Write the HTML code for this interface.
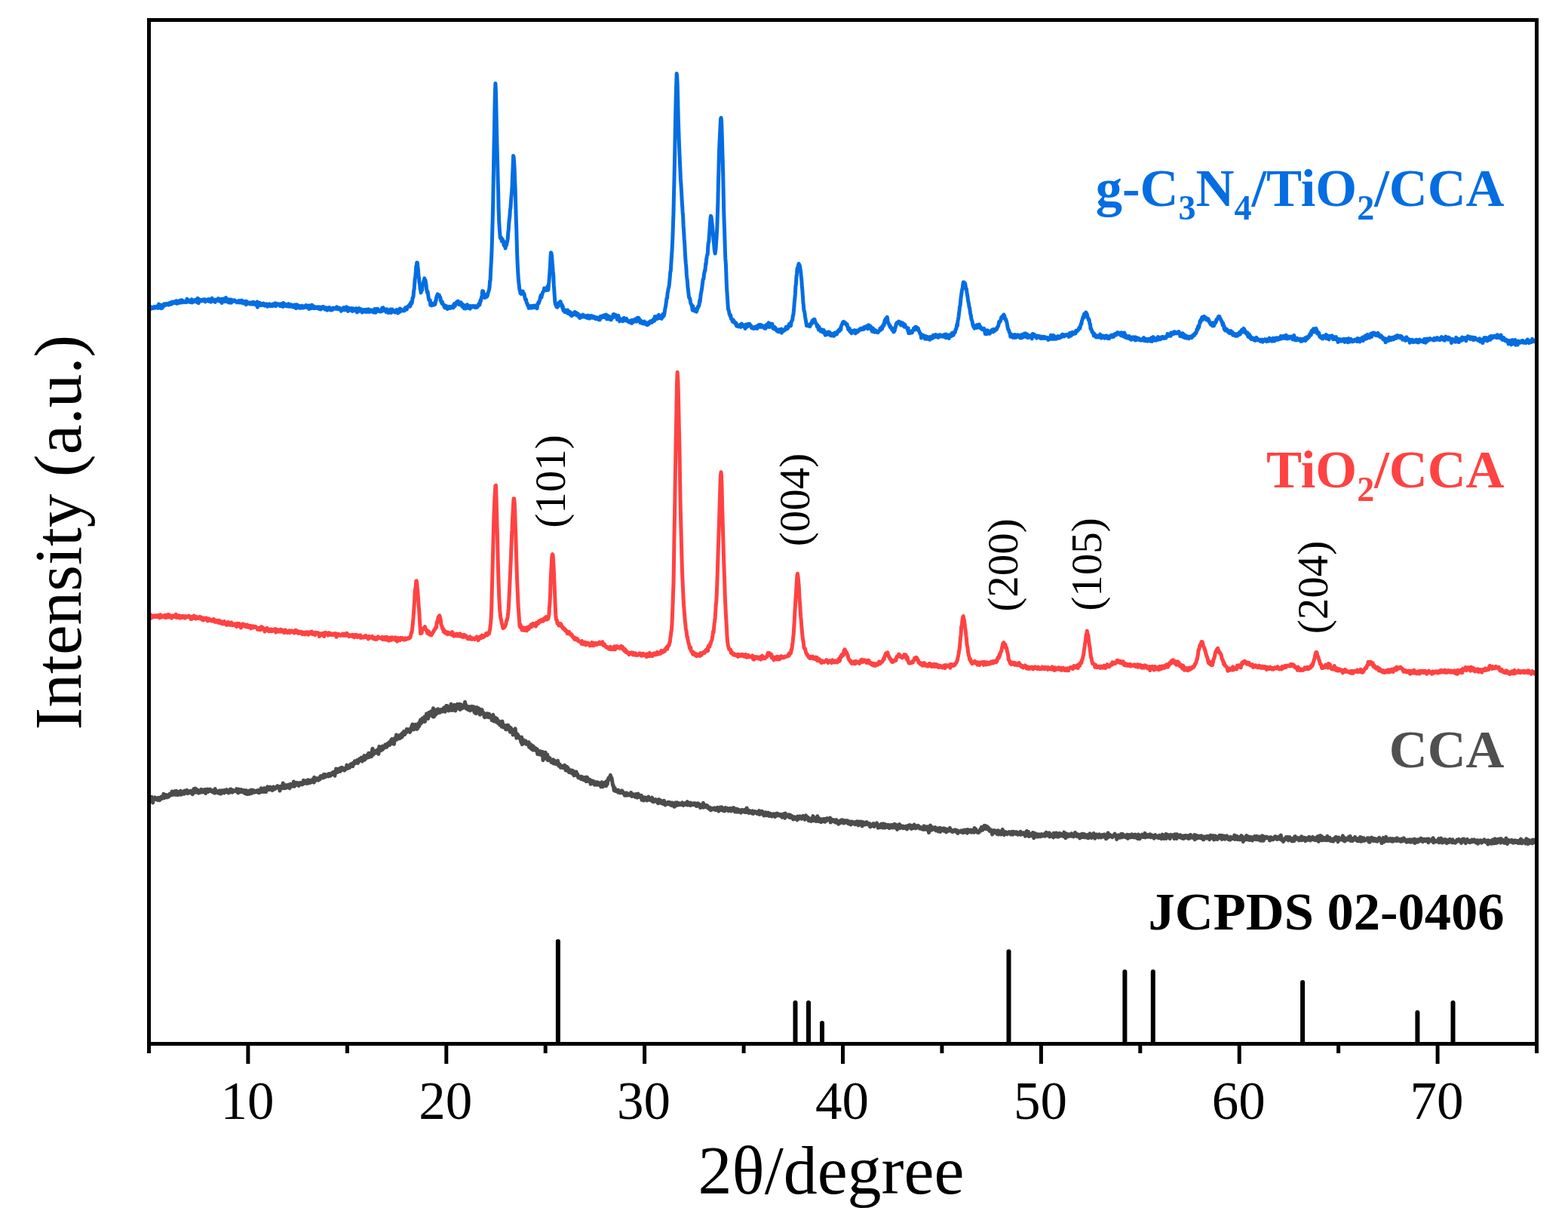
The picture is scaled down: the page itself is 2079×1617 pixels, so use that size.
<!DOCTYPE html>
<html><head><meta charset="utf-8"><title>XRD patterns</title><style>html,body{margin:0;padding:0;background:#fff;overflow:hidden;width:2079px;height:1617px;}svg{display:block;}svg text{font-family:"Liberation Serif","Times New Roman",Times,serif;}</style></head><body>
<svg width="2079" height="1617" viewBox="0 0 2079 1617">
<rect width="100%" height="100%" fill="#fff"/>
<g fill="none" stroke-width="5" stroke-linejoin="round" stroke-linecap="round">
<path stroke="#4C4C4C" d="M198.0,1063.6 198.5,1056.4 199.1,1060.5 199.6,1058.9 200.1,1058.9 200.6,1059.1 201.2,1056.3 201.7,1058.8 202.2,1057.8 202.7,1064.0 203.3,1059.2 203.8,1058.3 204.3,1058.3 204.8,1057.6 205.4,1057.0 205.9,1057.9 206.4,1059.1 206.9,1058.0 207.5,1059.7 208.0,1057.9 208.5,1058.2 209.0,1060.4 209.6,1058.8 210.1,1057.2 210.6,1057.6 211.1,1058.6 211.7,1060.6 212.2,1057.2 212.7,1057.2 213.2,1058.9 213.8,1056.0 214.3,1056.7 214.8,1058.4 215.3,1057.8 215.9,1056.9 216.4,1057.6 216.9,1052.2 217.5,1057.8 218.0,1054.7 218.5,1053.4 219.0,1056.2 219.6,1056.6 220.1,1054.7 220.6,1053.6 221.1,1055.1 221.7,1054.8 222.2,1056.8 222.7,1055.6 223.2,1054.6 223.8,1055.8 224.3,1053.6 224.8,1052.3 225.3,1054.4 225.9,1054.3 226.4,1052.9 226.9,1051.9 227.4,1053.2 228.0,1049.0 228.5,1053.6 229.0,1053.2 229.5,1049.9 230.1,1052.3 230.6,1050.6 231.1,1053.1 231.6,1048.8 232.2,1050.4 232.7,1052.8 233.2,1053.4 233.7,1048.3 234.3,1050.7 234.8,1051.9 235.3,1050.4 235.9,1053.6 236.4,1049.4 236.9,1051.6 237.4,1049.5 238.0,1053.1 238.5,1050.9 239.0,1050.3 239.5,1048.2 240.1,1053.3 240.6,1051.8 241.1,1051.7 241.6,1052.3 242.2,1051.0 242.7,1049.5 243.2,1049.2 243.7,1049.1 244.3,1052.3 244.8,1048.0 245.3,1049.3 245.8,1049.6 246.4,1050.4 246.9,1050.9 247.4,1048.1 247.9,1047.3 248.5,1049.8 249.0,1051.6 249.5,1050.9 250.0,1050.0 250.6,1049.1 251.1,1050.0 251.6,1049.1 252.1,1050.6 252.7,1048.2 253.2,1049.5 253.7,1049.0 254.2,1049.9 254.8,1049.4 255.3,1052.8 255.8,1051.2 256.4,1051.1 256.9,1045.7 257.4,1048.2 257.9,1047.7 258.5,1049.4 259.0,1045.1 259.5,1050.2 260.0,1050.0 260.6,1046.3 261.1,1046.8 261.6,1047.0 262.1,1048.2 262.7,1049.0 263.2,1051.1 263.7,1047.7 264.2,1049.1 264.8,1048.1 265.3,1050.5 265.8,1049.0 266.3,1049.9 266.9,1046.2 267.4,1047.5 267.9,1046.6 268.4,1050.1 269.0,1048.8 269.5,1047.4 270.0,1047.1 270.5,1048.6 271.1,1046.8 271.6,1046.5 272.1,1048.6 272.6,1051.6 273.2,1047.6 273.7,1047.2 274.2,1046.3 274.8,1046.1 275.3,1048.9 275.8,1049.4 276.3,1048.2 276.9,1048.7 277.4,1048.4 277.9,1048.5 278.4,1046.0 279.0,1047.7 279.5,1048.6 280.0,1047.3 280.5,1047.8 281.1,1047.3 281.6,1048.0 282.1,1049.9 282.6,1048.0 283.2,1048.4 283.7,1049.9 284.2,1049.6 284.7,1051.2 285.3,1045.5 285.8,1050.0 286.3,1048.0 286.8,1048.9 287.4,1050.0 287.9,1050.3 288.4,1050.3 288.9,1048.9 289.5,1051.1 290.0,1048.3 290.5,1048.5 291.0,1049.9 291.6,1047.8 292.1,1051.9 292.6,1050.2 293.2,1051.9 293.7,1048.6 294.2,1048.0 294.7,1048.9 295.3,1049.7 295.8,1047.7 296.3,1049.2 296.8,1048.6 297.4,1051.0 297.9,1047.6 298.4,1050.1 298.9,1047.6 299.5,1047.1 300.0,1047.5 300.5,1046.7 301.0,1048.7 301.6,1050.1 302.1,1048.8 302.6,1049.5 303.1,1051.0 303.7,1048.9 304.2,1048.8 304.7,1048.1 305.2,1046.1 305.8,1049.7 306.3,1045.9 306.8,1049.5 307.3,1048.5 307.9,1050.3 308.4,1048.5 308.9,1047.3 309.4,1049.2 310.0,1047.8 310.5,1048.4 311.0,1048.8 311.6,1048.5 312.1,1048.5 312.6,1047.5 313.1,1048.5 313.7,1045.6 314.2,1048.6 314.7,1047.1 315.2,1050.6 315.8,1050.9 316.3,1046.0 316.8,1049.2 317.3,1048.8 317.9,1047.5 318.4,1049.9 318.9,1048.4 319.4,1046.5 320.0,1048.7 320.5,1048.9 321.0,1049.3 321.5,1047.3 322.1,1050.1 322.6,1050.3 323.1,1047.5 323.6,1048.2 324.2,1049.1 324.7,1048.3 325.2,1051.8 325.7,1049.5 326.3,1047.6 326.8,1047.9 327.3,1049.0 327.8,1052.6 328.4,1048.8 328.9,1049.2 329.4,1049.8 330.0,1048.9 330.5,1052.4 331.0,1048.1 331.5,1050.0 332.1,1049.1 332.6,1049.8 333.1,1047.0 333.6,1051.4 334.2,1048.5 334.7,1048.7 335.2,1047.2 335.7,1047.5 336.3,1049.4 336.8,1050.0 337.3,1049.6 337.8,1050.2 338.4,1049.4 338.9,1048.3 339.4,1049.5 339.9,1049.1 340.5,1048.0 341.0,1049.2 341.5,1050.0 342.0,1048.4 342.6,1047.4 343.1,1049.0 343.6,1050.8 344.1,1047.5 344.7,1047.6 345.2,1047.5 345.7,1049.5 346.2,1044.7 346.8,1048.1 347.3,1049.2 347.8,1046.1 348.4,1049.6 348.9,1048.0 349.4,1046.3 349.9,1047.4 350.5,1044.6 351.0,1046.0 351.5,1049.6 352.0,1045.3 352.6,1049.5 353.1,1046.4 353.6,1048.0 354.1,1046.4 354.7,1042.8 355.2,1045.3 355.7,1046.4 356.2,1044.3 356.8,1043.9 357.3,1046.4 357.8,1044.8 358.3,1043.1 358.9,1044.5 359.4,1046.8 359.9,1044.7 360.4,1046.8 361.0,1047.6 361.5,1045.2 362.0,1043.4 362.5,1043.0 363.1,1044.9 363.6,1046.2 364.1,1045.2 364.6,1045.5 365.2,1043.9 365.7,1045.0 366.2,1043.7 366.7,1043.8 367.3,1042.2 367.8,1041.7 368.3,1043.3 368.9,1042.2 369.4,1042.4 369.9,1044.8 370.4,1043.5 371.0,1048.1 371.5,1044.9 372.0,1042.4 372.5,1044.5 373.1,1043.7 373.6,1042.0 374.1,1044.7 374.6,1041.7 375.2,1038.0 375.7,1043.9 376.2,1041.6 376.7,1044.8 377.3,1041.4 377.8,1040.5 378.3,1044.6 378.8,1040.4 379.4,1042.3 379.9,1044.2 380.4,1042.0 380.9,1041.6 381.5,1041.8 382.0,1042.8 382.5,1040.1 383.0,1042.3 383.6,1042.1 384.1,1044.8 384.6,1040.5 385.1,1039.4 385.7,1042.0 386.2,1040.1 386.7,1041.0 387.3,1040.7 387.8,1042.2 388.3,1039.2 388.8,1040.0 389.4,1036.0 389.9,1038.6 390.4,1042.3 390.9,1038.7 391.5,1038.5 392.0,1037.6 392.5,1040.4 393.0,1039.6 393.6,1037.3 394.1,1040.2 394.6,1039.4 395.1,1040.1 395.7,1037.8 396.2,1041.4 396.7,1039.2 397.2,1038.3 397.8,1037.5 398.3,1037.8 398.8,1039.5 399.3,1037.6 399.9,1039.6 400.4,1038.7 400.9,1039.8 401.4,1038.8 402.0,1037.3 402.5,1034.2 403.0,1037.6 403.5,1038.3 404.1,1037.2 404.6,1037.7 405.1,1035.9 405.7,1035.9 406.2,1034.9 406.7,1038.5 407.2,1036.4 407.8,1035.2 408.3,1033.7 408.8,1035.5 409.3,1038.0 409.9,1036.2 410.4,1034.2 410.9,1037.5 411.4,1037.4 412.0,1036.5 412.5,1036.1 413.0,1036.5 413.5,1035.4 414.1,1035.6 414.6,1032.9 415.1,1036.5 415.6,1034.3 416.2,1037.1 416.7,1030.2 417.2,1034.6 417.7,1034.9 418.3,1032.5 418.8,1033.7 419.3,1034.0 419.8,1033.6 420.4,1031.6 420.9,1032.0 421.4,1033.8 421.9,1034.1 422.5,1031.9 423.0,1031.7 423.5,1031.7 424.1,1033.0 424.6,1029.3 425.1,1028.7 425.6,1030.9 426.2,1028.7 426.7,1029.4 427.2,1030.3 427.7,1030.8 428.3,1028.0 428.8,1030.9 429.3,1026.4 429.8,1030.1 430.4,1026.4 430.9,1026.7 431.4,1029.7 431.9,1027.7 432.5,1026.9 433.0,1027.3 433.5,1028.6 434.0,1027.5 434.6,1027.4 435.1,1029.0 435.6,1025.8 436.1,1026.0 436.7,1025.7 437.2,1028.4 437.7,1027.9 438.2,1028.2 438.8,1025.7 439.3,1025.3 439.8,1026.8 440.3,1024.5 440.9,1026.4 441.4,1026.0 441.9,1023.3 442.5,1024.2 443.0,1023.9 443.5,1026.9 444.0,1028.2 444.6,1023.3 445.1,1023.3 445.6,1019.1 446.1,1023.2 446.7,1022.6 447.2,1020.5 447.7,1023.5 448.2,1019.2 448.8,1021.3 449.3,1021.6 449.8,1019.0 450.3,1022.4 450.9,1022.5 451.4,1018.0 451.9,1017.7 452.4,1021.0 453.0,1019.6 453.5,1017.3 454.0,1018.7 454.5,1018.8 455.1,1018.4 455.6,1019.9 456.1,1018.9 456.6,1021.1 457.2,1020.1 457.7,1018.6 458.2,1019.0 458.7,1019.2 459.3,1017.9 459.8,1014.1 460.3,1017.6 460.9,1015.9 461.4,1018.4 461.9,1015.4 462.4,1015.9 463.0,1015.3 463.5,1017.5 464.0,1014.5 464.5,1013.4 465.1,1014.2 465.6,1012.6 466.1,1013.4 466.6,1012.8 467.2,1013.1 467.7,1015.8 468.2,1011.3 468.7,1011.8 469.3,1011.1 469.8,1012.4 470.3,1008.8 470.8,1009.4 471.4,1010.3 471.9,1011.1 472.4,1009.7 472.9,1008.6 473.5,1007.7 474.0,1010.0 474.5,1011.4 475.0,1009.1 475.6,1008.6 476.1,1008.8 476.6,1005.9 477.1,1006.8 477.7,1006.6 478.2,1007.4 478.7,1006.5 479.2,1004.1 479.8,1008.2 480.3,1009.0 480.8,1005.0 481.4,1006.0 481.9,1005.5 482.4,1006.2 482.9,1001.6 483.5,1007.2 484.0,1003.0 484.5,1006.0 485.0,1003.5 485.6,1002.3 486.1,1002.5 486.6,1004.3 487.1,1000.6 487.7,1001.3 488.2,1000.8 488.7,998.2 489.2,1003.7 489.8,1002.0 490.3,1000.6 490.8,1002.6 491.3,998.2 491.9,999.6 492.4,1002.8 492.9,1001.1 493.4,994.6 494.0,992.2 494.5,996.4 495.0,1000.2 495.5,996.9 496.1,997.1 496.6,998.4 497.1,995.2 497.6,997.1 498.2,997.9 498.7,997.0 499.2,996.6 499.8,994.3 500.3,996.2 500.8,994.1 501.3,997.2 501.9,999.4 502.4,992.5 502.9,989.4 503.4,992.6 504.0,993.8 504.5,994.9 505.0,994.6 505.5,990.6 506.1,990.3 506.6,994.1 507.1,989.0 507.6,993.1 508.2,990.1 508.7,991.8 509.2,991.4 509.7,991.2 510.3,991.0 510.8,987.0 511.3,989.2 511.8,988.3 512.4,988.6 512.9,990.1 513.4,986.7 513.9,985.5 514.5,985.1 515.0,985.6 515.5,987.4 516.0,983.9 516.6,987.6 517.1,985.4 517.6,984.0 518.2,981.4 518.7,984.3 519.2,984.8 519.7,979.4 520.3,985.1 520.8,985.7 521.3,982.6 521.8,982.6 522.4,986.3 522.9,983.4 523.4,978.6 523.9,980.1 524.5,979.4 525.0,979.1 525.5,974.0 526.0,980.2 526.6,976.9 527.1,978.2 527.6,977.2 528.1,979.0 528.7,976.2 529.2,974.7 529.7,977.2 530.2,978.7 530.8,974.6 531.3,977.9 531.8,975.2 532.3,973.1 532.9,977.1 533.4,971.7 533.9,975.3 534.4,971.7 535.0,973.4 535.5,969.4 536.0,969.9 536.6,973.6 537.1,971.4 537.6,970.7 538.1,969.3 538.7,970.9 539.2,966.5 539.7,966.8 540.2,968.5 540.8,966.7 541.3,966.7 541.8,967.7 542.3,967.2 542.9,966.7 543.4,970.5 543.9,968.7 544.4,968.9 545.0,965.8 545.5,964.4 546.0,961.9 546.5,964.0 547.1,959.9 547.6,962.8 548.1,965.5 548.6,967.0 549.2,965.2 549.7,960.8 550.2,963.5 550.7,960.3 551.3,963.6 551.8,961.1 552.3,962.9 552.8,966.4 553.4,962.4 553.9,965.2 554.4,960.0 555.0,958.5 555.5,961.8 556.0,962.3 556.5,956.8 557.1,957.9 557.6,954.0 558.1,956.4 558.6,958.5 559.2,955.8 559.7,954.3 560.2,952.0 560.7,955.5 561.3,956.1 561.8,955.2 562.3,954.0 562.8,950.1 563.4,956.5 563.9,952.0 564.4,951.3 564.9,952.9 565.5,945.9 566.0,950.3 566.5,949.7 567.0,950.5 567.6,952.4 568.1,950.0 568.6,944.4 569.1,947.5 569.7,948.4 570.2,948.0 570.7,944.4 571.2,943.2 571.8,948.1 572.3,947.3 572.8,946.2 573.3,942.0 573.9,949.9 574.4,938.8 574.9,944.5 575.5,950.0 576.0,944.5 576.5,945.2 577.0,941.7 577.6,947.4 578.1,941.0 578.6,944.4 579.1,943.9 579.7,941.0 580.2,945.3 580.7,939.7 581.2,941.2 581.8,942.6 582.3,941.5 582.8,943.4 583.3,944.3 583.9,941.3 584.4,940.5 584.9,940.4 585.4,940.6 586.0,943.2 586.5,940.6 587.0,941.9 587.5,940.6 588.1,938.6 588.6,942.5 589.1,937.8 589.6,940.1 590.2,943.4 590.7,937.1 591.2,939.4 591.7,935.6 592.3,938.0 592.8,935.5 593.3,938.0 593.9,937.4 594.4,938.8 594.9,942.1 595.4,938.9 596.0,939.6 596.5,937.8 597.0,937.3 597.5,935.7 598.1,933.3 598.6,937.7 599.1,941.4 599.6,938.5 600.2,936.1 600.7,941.3 601.2,936.3 601.7,935.8 602.3,934.4 602.8,935.0 603.3,936.7 603.8,942.1 604.4,936.8 604.9,934.9 605.4,935.9 605.9,936.8 606.5,933.2 607.0,937.7 607.5,939.0 608.0,938.1 608.6,938.8 609.1,934.3 609.6,933.4 610.1,940.5 610.7,940.1 611.2,933.8 611.7,938.0 612.3,937.6 612.8,938.8 613.3,938.0 613.8,936.4 614.4,938.1 614.9,938.0 615.4,937.5 615.9,933.2 616.5,930.5 617.0,935.8 617.5,933.8 618.0,938.4 618.6,939.5 619.1,938.5 619.6,937.0 620.1,938.1 620.7,940.8 621.2,936.4 621.7,940.4 622.2,940.0 622.8,939.0 623.3,941.9 623.8,936.8 624.3,940.9 624.9,936.5 625.4,937.0 625.9,936.4 626.4,940.2 627.0,937.0 627.5,939.5 628.0,936.8 628.5,942.2 629.1,944.2 629.6,940.5 630.1,944.1 630.7,941.7 631.2,945.8 631.7,941.1 632.2,937.4 632.8,945.0 633.3,941.5 633.8,939.6 634.3,940.8 634.9,938.8 635.4,942.7 635.9,940.8 636.4,947.3 637.0,945.6 637.5,940.4 638.0,941.1 638.5,943.7 639.1,940.7 639.6,945.3 640.1,945.8 640.6,944.3 641.2,945.1 641.7,947.8 642.2,950.2 642.7,950.7 643.3,947.4 643.8,949.6 644.3,946.0 644.8,949.0 645.4,946.0 645.9,950.2 646.4,945.8 646.9,946.7 647.5,949.2 648.0,950.8 648.5,946.3 649.1,948.6 649.6,950.5 650.1,951.0 650.6,948.7 651.2,951.2 651.7,950.6 652.2,954.8 652.7,953.1 653.3,949.0 653.8,947.3 654.3,953.0 654.8,955.9 655.4,953.8 655.9,955.8 656.4,952.9 656.9,951.2 657.5,956.5 658.0,955.3 658.5,957.1 659.0,952.6 659.6,956.6 660.1,955.0 660.6,958.7 661.1,955.8 661.7,956.1 662.2,956.5 662.7,961.1 663.2,958.6 663.8,957.1 664.3,956.8 664.8,957.1 665.3,963.2 665.9,955.9 666.4,958.5 666.9,962.2 667.5,963.8 668.0,961.0 668.5,963.5 669.0,963.7 669.6,964.5 670.1,962.7 670.6,966.7 671.1,963.7 671.7,967.0 672.2,961.3 672.7,966.3 673.2,961.6 673.8,961.4 674.3,966.3 674.8,963.6 675.3,966.9 675.9,963.8 676.4,970.2 676.9,967.0 677.4,964.7 678.0,968.1 678.5,970.1 679.0,966.8 679.5,970.1 680.1,974.1 680.6,971.9 681.1,970.4 681.6,969.7 682.2,972.8 682.7,968.6 683.2,965.7 683.7,971.6 684.3,971.3 684.8,978.2 685.3,975.2 685.8,973.2 686.4,973.3 686.9,977.6 687.4,975.2 688.0,976.2 688.5,977.8 689.0,978.7 689.5,979.2 690.1,979.6 690.6,982.7 691.1,984.0 691.6,976.9 692.2,986.7 692.7,981.6 693.2,984.4 693.7,980.4 694.3,983.1 694.8,983.2 695.3,983.3 695.8,985.3 696.4,985.1 696.9,981.9 697.4,984.1 697.9,986.3 698.5,986.5 699.0,984.6 699.5,985.0 700.0,985.6 700.6,983.9 701.1,983.8 701.6,990.3 702.1,986.4 702.7,987.8 703.2,986.3 703.7,991.1 704.2,992.4 704.8,988.5 705.3,990.5 705.8,988.1 706.4,994.0 706.9,992.5 707.4,989.2 707.9,994.1 708.5,992.6 709.0,993.1 709.5,993.4 710.0,991.7 710.6,992.4 711.1,995.3 711.6,994.3 712.1,992.8 712.7,999.6 713.2,995.3 713.7,995.0 714.2,995.2 714.8,998.5 715.3,999.6 715.8,998.5 716.3,1000.2 716.9,995.7 717.4,998.4 717.9,998.6 718.4,1000.0 719.0,1001.4 719.5,996.6 720.0,1007.7 720.5,999.8 721.1,1002.6 721.6,1004.0 722.1,1004.4 722.6,1003.5 723.2,997.3 723.7,1001.4 724.2,1005.5 724.8,1002.4 725.3,1002.4 725.8,1000.1 726.3,1007.7 726.9,1006.6 727.4,1004.0 727.9,1005.9 728.4,1006.2 729.0,1004.5 729.5,1006.5 730.0,1007.9 730.5,1008.8 731.1,1010.5 731.6,1008.3 732.1,1007.6 732.6,1009.6 733.2,1007.9 733.7,1006.9 734.2,1012.0 734.7,1009.2 735.3,1010.5 735.8,1011.9 736.3,1008.7 736.8,1012.5 737.4,1012.4 737.9,1011.6 738.4,1012.9 738.9,1010.9 739.5,1008.3 740.0,1012.4 740.5,1011.5 741.0,1015.2 741.6,1014.3 742.1,1013.1 742.6,1014.5 743.2,1017.3 743.7,1017.2 744.2,1016.0 744.7,1016.4 745.3,1015.3 745.8,1015.8 746.3,1017.5 746.8,1016.4 747.4,1017.5 747.9,1015.1 748.4,1014.3 748.9,1014.5 749.5,1017.3 750.0,1021.0 750.5,1021.0 751.0,1017.1 751.6,1016.3 752.1,1021.1 752.6,1020.8 753.1,1017.6 753.7,1022.6 754.2,1021.2 754.7,1023.7 755.2,1022.2 755.8,1023.5 756.3,1022.8 756.8,1020.7 757.3,1022.4 757.9,1021.9 758.4,1025.0 758.9,1021.9 759.4,1021.3 760.0,1025.7 760.5,1026.9 761.0,1027.8 761.6,1027.5 762.1,1022.9 762.6,1024.8 763.1,1025.4 763.7,1026.6 764.2,1023.0 764.7,1027.3 765.2,1028.1 765.8,1026.1 766.3,1028.4 766.8,1030.6 767.3,1028.8 767.9,1030.9 768.4,1031.1 768.9,1030.2 769.4,1030.4 770.0,1029.3 770.5,1032.5 771.0,1029.7 771.5,1029.5 772.1,1032.3 772.6,1029.9 773.1,1032.3 773.6,1033.7 774.2,1032.1 774.7,1032.4 775.2,1034.1 775.7,1034.1 776.3,1030.2 776.8,1030.8 777.3,1035.8 777.8,1034.3 778.4,1030.1 778.9,1031.6 779.4,1034.3 779.9,1032.7 780.5,1035.5 781.0,1035.0 781.5,1036.0 782.1,1033.2 782.6,1036.6 783.1,1039.2 783.6,1034.5 784.2,1038.5 784.7,1038.1 785.2,1037.7 785.7,1036.7 786.3,1035.0 786.8,1035.7 787.3,1038.8 787.8,1039.4 788.4,1040.1 788.9,1039.9 789.4,1040.0 789.9,1037.8 790.5,1036.7 791.0,1039.4 791.5,1040.1 792.0,1039.5 792.6,1036.9 793.1,1038.8 793.6,1037.3 794.1,1040.2 794.7,1038.3 795.2,1039.9 795.7,1040.8 796.2,1040.6 796.8,1042.8 797.3,1038.5 797.8,1036.7 798.3,1042.0 798.9,1042.8 799.4,1042.7 799.9,1040.7 800.5,1040.9 801.0,1040.1 801.5,1037.4 802.0,1038.4 802.6,1040.0 803.1,1037.9 803.6,1041.8 804.1,1035.6 804.7,1037.2 805.2,1039.4 805.7,1035.5 806.2,1033.3 806.8,1031.4 807.3,1030.8 807.8,1033.1 808.3,1030.0 808.9,1029.4 809.4,1027.4 809.9,1030.4 810.4,1030.6 811.0,1031.0 811.5,1034.1 812.0,1037.4 812.5,1041.0 813.1,1040.6 813.6,1043.3 814.1,1047.5 814.6,1044.1 815.2,1044.3 815.7,1048.4 816.2,1047.8 816.7,1047.2 817.3,1048.2 817.8,1047.5 818.3,1049.1 818.9,1048.0 819.4,1050.1 819.9,1047.1 820.4,1047.9 821.0,1049.6 821.5,1048.8 822.0,1050.9 822.5,1049.9 823.1,1049.2 823.6,1050.6 824.1,1049.5 824.6,1047.9 825.2,1048.8 825.7,1049.4 826.2,1050.1 826.7,1051.1 827.3,1052.5 827.8,1052.1 828.3,1054.2 828.8,1053.4 829.4,1051.1 829.9,1054.2 830.4,1053.6 830.9,1051.0 831.5,1052.4 832.0,1053.8 832.5,1052.5 833.0,1053.9 833.6,1053.0 834.1,1053.6 834.6,1052.1 835.1,1053.4 835.7,1052.3 836.2,1054.2 836.7,1050.5 837.3,1053.9 837.8,1055.5 838.3,1054.6 838.8,1053.7 839.4,1054.7 839.9,1052.7 840.4,1052.8 840.9,1053.7 841.5,1054.2 842.0,1056.1 842.5,1053.2 843.0,1056.4 843.6,1052.4 844.1,1053.8 844.6,1055.1 845.1,1057.1 845.7,1054.4 846.2,1052.1 846.7,1056.3 847.2,1055.7 847.8,1054.2 848.3,1054.4 848.8,1055.1 849.3,1056.5 849.9,1057.5 850.4,1054.2 850.9,1060.3 851.4,1056.7 852.0,1056.4 852.5,1058.1 853.0,1057.4 853.5,1061.0 854.1,1059.2 854.6,1057.0 855.1,1057.1 855.7,1057.1 856.2,1057.5 856.7,1059.2 857.2,1057.3 857.8,1061.0 858.3,1058.4 858.8,1058.5 859.3,1060.3 859.9,1055.9 860.4,1057.6 860.9,1060.2 861.4,1059.4 862.0,1059.5 862.5,1060.3 863.0,1058.8 863.5,1059.6 864.1,1057.9 864.6,1057.2 865.1,1062.3 865.6,1058.9 866.2,1059.4 866.7,1062.8 867.2,1062.4 867.7,1060.1 868.3,1060.2 868.8,1061.0 869.3,1059.7 869.8,1062.2 870.4,1061.7 870.9,1061.8 871.4,1062.9 871.9,1062.9 872.5,1064.8 873.0,1064.4 873.5,1059.5 874.1,1063.7 874.6,1060.7 875.1,1060.3 875.6,1063.8 876.2,1061.7 876.7,1062.4 877.2,1064.7 877.7,1062.1 878.3,1061.9 878.8,1063.9 879.3,1065.4 879.8,1064.4 880.4,1061.3 880.9,1062.8 881.4,1063.7 881.9,1067.0 882.5,1065.5 883.0,1065.6 883.5,1066.2 884.0,1064.0 884.6,1065.3 885.1,1065.4 885.6,1063.2 886.1,1064.7 886.7,1065.7 887.2,1063.2 887.7,1066.2 888.2,1066.2 888.8,1066.6 889.3,1063.9 889.8,1065.3 890.3,1067.4 890.9,1066.4 891.4,1064.0 891.9,1065.6 892.4,1067.5 893.0,1065.2 893.5,1066.0 894.0,1069.3 894.6,1065.4 895.1,1065.3 895.6,1063.9 896.1,1064.5 896.7,1067.8 897.2,1065.3 897.7,1063.7 898.2,1064.1 898.8,1065.6 899.3,1066.8 899.8,1064.5 900.3,1066.7 900.9,1064.9 901.4,1066.2 901.9,1066.5 902.4,1066.6 903.0,1065.0 903.5,1065.4 904.0,1066.5 904.5,1063.8 905.1,1066.0 905.6,1066.5 906.1,1067.3 906.6,1065.7 907.2,1065.5 907.7,1066.0 908.2,1064.7 908.7,1065.5 909.3,1066.4 909.8,1066.2 910.3,1064.2 910.8,1065.3 911.4,1062.6 911.9,1067.1 912.4,1065.1 913.0,1066.3 913.5,1064.2 914.0,1065.8 914.5,1066.6 915.1,1067.4 915.6,1063.9 916.1,1067.2 916.6,1065.7 917.2,1064.8 917.7,1066.7 918.2,1065.6 918.7,1065.6 919.3,1065.0 919.8,1066.4 920.3,1066.2 920.8,1065.9 921.4,1064.7 921.9,1065.4 922.4,1066.8 922.9,1068.2 923.5,1066.2 924.0,1068.5 924.5,1066.3 925.0,1064.7 925.6,1067.4 926.1,1065.0 926.6,1067.1 927.1,1068.2 927.7,1066.2 928.2,1066.6 928.7,1070.6 929.2,1067.3 929.8,1067.5 930.3,1068.4 930.8,1067.2 931.4,1067.4 931.9,1068.3 932.4,1064.3 932.9,1070.2 933.5,1066.6 934.0,1066.8 934.5,1069.5 935.0,1068.9 935.6,1067.2 936.1,1069.6 936.6,1067.7 937.1,1068.6 937.7,1067.6 938.2,1068.8 938.7,1070.9 939.2,1070.6 939.8,1071.1 940.3,1072.2 940.8,1070.9 941.3,1070.2 941.9,1070.9 942.4,1073.9 942.9,1071.6 943.4,1072.2 944.0,1071.7 944.5,1072.3 945.0,1072.6 945.5,1072.0 946.1,1071.9 946.6,1071.0 947.1,1070.9 947.6,1072.8 948.2,1073.4 948.7,1073.7 949.2,1072.4 949.8,1071.1 950.3,1073.4 950.8,1073.4 951.3,1070.2 951.9,1073.7 952.4,1073.4 952.9,1075.1 953.4,1070.9 954.0,1070.7 954.5,1073.8 955.0,1070.0 955.5,1071.6 956.1,1071.1 956.6,1071.2 957.1,1069.9 957.6,1072.4 958.2,1074.3 958.7,1073.5 959.2,1073.5 959.7,1072.3 960.3,1075.0 960.8,1073.7 961.3,1074.5 961.8,1070.6 962.4,1073.5 962.9,1071.3 963.4,1073.5 963.9,1073.3 964.5,1071.3 965.0,1073.3 965.5,1074.8 966.0,1073.9 966.6,1074.0 967.1,1071.9 967.6,1072.1 968.2,1071.5 968.7,1073.4 969.2,1075.0 969.7,1073.9 970.3,1073.3 970.8,1071.6 971.3,1074.0 971.8,1073.0 972.4,1070.6 972.9,1070.9 973.4,1073.0 973.9,1072.2 974.5,1076.0 975.0,1073.6 975.5,1072.1 976.0,1072.9 976.6,1076.1 977.1,1072.3 977.6,1074.9 978.1,1074.5 978.7,1076.1 979.2,1074.7 979.7,1073.4 980.2,1074.8 980.8,1074.2 981.3,1075.6 981.8,1074.1 982.3,1077.2 982.9,1074.1 983.4,1075.0 983.9,1073.4 984.4,1074.6 985.0,1074.5 985.5,1074.8 986.0,1075.9 986.6,1073.8 987.1,1073.4 987.6,1076.4 988.1,1074.4 988.7,1073.8 989.2,1076.6 989.7,1076.1 990.2,1071.1 990.8,1074.5 991.3,1076.3 991.8,1076.4 992.3,1074.5 992.9,1077.6 993.4,1074.2 993.9,1075.1 994.4,1075.7 995.0,1075.5 995.5,1076.8 996.0,1077.2 996.5,1075.7 997.1,1077.9 997.6,1074.8 998.1,1075.6 998.6,1078.6 999.2,1076.2 999.7,1077.7 1000.2,1075.5 1000.7,1075.8 1001.3,1076.1 1001.8,1076.6 1002.3,1075.9 1002.8,1076.5 1003.4,1077.6 1003.9,1078.4 1004.4,1076.9 1004.9,1077.8 1005.5,1078.2 1006.0,1075.3 1006.5,1074.7 1007.1,1079.5 1007.6,1079.1 1008.1,1077.3 1008.6,1077.9 1009.2,1076.0 1009.7,1075.4 1010.2,1078.1 1010.7,1075.4 1011.3,1079.1 1011.8,1076.8 1012.3,1078.4 1012.8,1080.9 1013.4,1080.9 1013.9,1077.8 1014.4,1079.9 1014.9,1076.8 1015.5,1077.6 1016.0,1079.1 1016.5,1080.7 1017.0,1077.8 1017.6,1079.6 1018.1,1079.0 1018.6,1077.1 1019.1,1078.8 1019.7,1081.4 1020.2,1079.1 1020.7,1080.0 1021.2,1080.6 1021.8,1078.4 1022.3,1081.4 1022.8,1081.9 1023.3,1082.1 1023.9,1081.7 1024.4,1079.2 1024.9,1079.1 1025.5,1078.8 1026.0,1078.7 1026.5,1079.0 1027.0,1081.7 1027.6,1082.5 1028.1,1079.4 1028.6,1081.6 1029.1,1078.6 1029.7,1080.1 1030.2,1079.1 1030.7,1078.2 1031.2,1080.8 1031.8,1080.9 1032.3,1080.2 1032.8,1080.1 1033.3,1079.5 1033.9,1080.8 1034.4,1080.2 1034.9,1081.5 1035.4,1079.4 1036.0,1081.6 1036.5,1082.0 1037.0,1083.2 1037.5,1083.0 1038.1,1081.7 1038.6,1080.5 1039.1,1078.8 1039.6,1081.6 1040.2,1083.7 1040.7,1084.2 1041.2,1077.9 1041.7,1080.6 1042.3,1081.3 1042.8,1080.3 1043.3,1082.2 1043.9,1082.0 1044.4,1081.2 1044.9,1082.0 1045.4,1079.7 1046.0,1080.7 1046.5,1080.9 1047.0,1083.6 1047.5,1079.9 1048.1,1082.0 1048.6,1083.6 1049.1,1082.4 1049.6,1083.7 1050.2,1081.6 1050.7,1083.2 1051.2,1084.0 1051.7,1086.0 1052.3,1083.8 1052.8,1084.9 1053.3,1082.8 1053.8,1083.0 1054.4,1085.3 1054.9,1083.8 1055.4,1085.2 1055.9,1084.1 1056.5,1086.3 1057.0,1086.8 1057.5,1082.0 1058.0,1086.1 1058.6,1084.0 1059.1,1084.1 1059.6,1083.3 1060.1,1084.6 1060.7,1081.9 1061.2,1082.5 1061.7,1082.5 1062.3,1084.1 1062.8,1085.2 1063.3,1084.9 1063.8,1084.4 1064.4,1083.0 1064.9,1081.3 1065.4,1084.6 1065.9,1084.3 1066.5,1084.7 1067.0,1086.3 1067.5,1084.0 1068.0,1084.0 1068.6,1080.9 1069.1,1085.2 1069.6,1084.4 1070.1,1083.4 1070.7,1085.1 1071.2,1083.1 1071.7,1083.9 1072.2,1087.7 1072.8,1085.9 1073.3,1086.2 1073.8,1086.0 1074.3,1085.9 1074.9,1085.3 1075.4,1088.5 1075.9,1085.0 1076.4,1086.3 1077.0,1084.9 1077.5,1084.7 1078.0,1081.6 1078.5,1082.5 1079.1,1087.7 1079.6,1087.7 1080.1,1084.9 1080.7,1085.5 1081.2,1086.5 1081.7,1084.2 1082.2,1088.4 1082.8,1084.2 1083.3,1084.7 1083.8,1081.7 1084.3,1088.2 1084.9,1086.1 1085.4,1088.5 1085.9,1084.6 1086.4,1086.6 1087.0,1086.3 1087.5,1086.5 1088.0,1089.4 1088.5,1089.7 1089.1,1088.5 1089.6,1085.8 1090.1,1087.8 1090.6,1088.6 1091.2,1087.4 1091.7,1087.5 1092.2,1087.4 1092.7,1085.4 1093.3,1087.2 1093.8,1089.3 1094.3,1085.4 1094.8,1087.1 1095.4,1088.3 1095.9,1085.0 1096.4,1086.9 1096.9,1084.6 1097.5,1086.3 1098.0,1085.2 1098.5,1086.0 1099.0,1086.7 1099.6,1087.0 1100.1,1087.2 1100.6,1083.9 1101.2,1090.0 1101.7,1087.2 1102.2,1086.1 1102.7,1086.8 1103.3,1088.3 1103.8,1086.4 1104.3,1087.3 1104.8,1087.3 1105.4,1088.8 1105.9,1086.9 1106.4,1088.8 1106.9,1088.7 1107.5,1088.0 1108.0,1090.1 1108.5,1088.4 1109.0,1086.6 1109.6,1088.9 1110.1,1088.7 1110.6,1088.5 1111.1,1088.9 1111.7,1092.2 1112.2,1089.0 1112.7,1089.4 1113.2,1088.4 1113.8,1090.8 1114.3,1088.8 1114.8,1087.8 1115.3,1087.2 1115.9,1089.9 1116.4,1090.2 1116.9,1086.8 1117.4,1088.1 1118.0,1090.2 1118.5,1090.9 1119.0,1087.4 1119.6,1088.8 1120.1,1090.7 1120.6,1088.7 1121.1,1088.9 1121.7,1088.8 1122.2,1087.7 1122.7,1089.8 1123.2,1090.3 1123.8,1087.8 1124.3,1090.1 1124.8,1091.6 1125.3,1090.3 1125.9,1091.5 1126.4,1089.3 1126.9,1092.2 1127.4,1089.0 1128.0,1093.1 1128.5,1089.7 1129.0,1089.3 1129.5,1089.1 1130.1,1089.9 1130.6,1089.8 1131.1,1089.6 1131.6,1090.2 1132.2,1091.7 1132.7,1092.1 1133.2,1090.3 1133.7,1092.7 1134.3,1089.4 1134.8,1089.4 1135.3,1089.3 1135.8,1092.0 1136.4,1088.8 1136.9,1089.1 1137.4,1093.1 1138.0,1093.8 1138.5,1093.3 1139.0,1089.1 1139.5,1091.5 1140.1,1092.7 1140.6,1091.7 1141.1,1089.2 1141.6,1091.1 1142.2,1089.1 1142.7,1089.9 1143.2,1095.0 1143.7,1092.9 1144.3,1089.7 1144.8,1089.7 1145.3,1092.7 1145.8,1091.2 1146.4,1093.0 1146.9,1091.2 1147.4,1092.0 1147.9,1092.7 1148.5,1090.8 1149.0,1089.6 1149.5,1090.7 1150.0,1091.5 1150.6,1092.3 1151.1,1092.6 1151.6,1092.6 1152.1,1093.5 1152.7,1091.5 1153.2,1095.0 1153.7,1096.0 1154.2,1093.6 1154.8,1093.3 1155.3,1095.0 1155.8,1094.2 1156.4,1093.5 1156.9,1093.0 1157.4,1092.2 1157.9,1091.6 1158.5,1094.5 1159.0,1095.3 1159.5,1092.0 1160.0,1093.5 1160.6,1094.0 1161.1,1093.1 1161.6,1092.6 1162.1,1093.2 1162.7,1090.9 1163.2,1093.8 1163.7,1093.5 1164.2,1097.2 1164.8,1095.5 1165.3,1093.6 1165.8,1094.1 1166.3,1096.8 1166.9,1096.6 1167.4,1094.5 1167.9,1094.1 1168.4,1092.2 1169.0,1093.9 1169.5,1094.2 1170.0,1093.3 1170.5,1097.1 1171.1,1091.7 1171.6,1094.3 1172.1,1095.2 1172.6,1095.3 1173.2,1097.2 1173.7,1092.6 1174.2,1093.6 1174.8,1094.9 1175.3,1094.9 1175.8,1094.2 1176.3,1093.7 1176.9,1096.4 1177.4,1093.3 1177.9,1094.0 1178.4,1097.1 1179.0,1097.5 1179.5,1096.3 1180.0,1093.7 1180.5,1093.7 1181.1,1093.7 1181.6,1093.4 1182.1,1094.5 1182.6,1097.0 1183.2,1095.5 1183.7,1094.0 1184.2,1094.0 1184.7,1093.4 1185.3,1097.0 1185.8,1092.2 1186.3,1095.7 1186.8,1093.1 1187.4,1093.7 1187.9,1093.1 1188.4,1096.8 1188.9,1095.3 1189.5,1099.5 1190.0,1093.9 1190.5,1093.8 1191.0,1096.4 1191.6,1096.3 1192.1,1095.1 1192.6,1092.5 1193.2,1097.7 1193.7,1096.4 1194.2,1096.2 1194.7,1094.7 1195.3,1096.6 1195.8,1094.8 1196.3,1095.8 1196.8,1095.5 1197.4,1097.6 1197.9,1095.1 1198.4,1095.3 1198.9,1097.5 1199.5,1096.2 1200.0,1095.8 1200.5,1095.5 1201.0,1097.4 1201.6,1095.0 1202.1,1096.7 1202.6,1099.0 1203.1,1096.6 1203.7,1094.9 1204.2,1094.3 1204.7,1096.3 1205.2,1094.3 1205.8,1093.7 1206.3,1095.0 1206.8,1094.5 1207.3,1097.5 1207.9,1094.0 1208.4,1098.6 1208.9,1095.1 1209.4,1096.5 1210.0,1097.3 1210.5,1096.7 1211.0,1097.4 1211.5,1094.9 1212.1,1093.0 1212.6,1096.1 1213.1,1093.9 1213.7,1095.6 1214.2,1097.9 1214.7,1096.2 1215.2,1095.6 1215.8,1094.9 1216.3,1096.2 1216.8,1096.4 1217.3,1094.3 1217.9,1097.1 1218.4,1095.1 1218.9,1097.1 1219.4,1096.1 1220.0,1098.3 1220.5,1098.1 1221.0,1096.9 1221.5,1096.7 1222.1,1097.6 1222.6,1099.0 1223.1,1098.6 1223.6,1097.3 1224.2,1097.5 1224.7,1099.5 1225.2,1094.7 1225.7,1098.0 1226.3,1095.9 1226.8,1099.3 1227.3,1096.6 1227.8,1097.2 1228.4,1095.8 1228.9,1097.5 1229.4,1098.7 1229.9,1100.1 1230.5,1095.7 1231.0,1097.0 1231.5,1103.6 1232.1,1099.2 1232.6,1097.9 1233.1,1098.7 1233.6,1094.0 1234.2,1100.5 1234.7,1098.4 1235.2,1096.0 1235.7,1100.0 1236.3,1097.4 1236.8,1096.8 1237.3,1099.2 1237.8,1099.1 1238.4,1097.9 1238.9,1098.5 1239.4,1096.7 1239.9,1096.6 1240.5,1100.1 1241.0,1100.8 1241.5,1099.6 1242.0,1099.5 1242.6,1098.4 1243.1,1098.9 1243.6,1097.8 1244.1,1101.9 1244.7,1098.4 1245.2,1099.9 1245.7,1099.4 1246.2,1097.3 1246.8,1102.4 1247.3,1099.0 1247.8,1098.4 1248.3,1099.8 1248.9,1098.3 1249.4,1099.8 1249.9,1098.3 1250.5,1100.7 1251.0,1100.0 1251.5,1097.9 1252.0,1101.5 1252.6,1100.3 1253.1,1098.4 1253.6,1100.6 1254.1,1100.7 1254.7,1102.9 1255.2,1098.9 1255.7,1101.5 1256.2,1100.1 1256.8,1101.2 1257.3,1099.9 1257.8,1100.3 1258.3,1101.1 1258.9,1098.6 1259.4,1097.3 1259.9,1100.5 1260.4,1099.9 1261.0,1100.7 1261.5,1101.6 1262.0,1100.3 1262.5,1102.5 1263.1,1100.7 1263.6,1100.9 1264.1,1102.1 1264.6,1101.7 1265.2,1100.7 1265.7,1101.1 1266.2,1099.8 1266.7,1100.1 1267.3,1101.2 1267.8,1102.3 1268.3,1100.4 1268.9,1102.4 1269.4,1104.1 1269.9,1104.4 1270.4,1101.2 1271.0,1102.8 1271.5,1102.2 1272.0,1102.5 1272.5,1102.6 1273.1,1102.1 1273.6,1102.6 1274.1,1101.6 1274.6,1101.0 1275.2,1101.8 1275.7,1102.2 1276.2,1103.3 1276.7,1102.0 1277.3,1102.6 1277.8,1103.6 1278.3,1100.1 1278.8,1101.1 1279.4,1102.3 1279.9,1101.5 1280.4,1100.0 1280.9,1103.0 1281.5,1101.4 1282.0,1100.0 1282.5,1104.3 1283.0,1099.6 1283.6,1101.5 1284.1,1100.5 1284.6,1101.6 1285.1,1102.3 1285.7,1100.2 1286.2,1101.3 1286.7,1101.3 1287.3,1100.0 1287.8,1103.2 1288.3,1101.7 1288.8,1101.0 1289.4,1100.5 1289.9,1101.0 1290.4,1101.7 1290.9,1100.8 1291.5,1103.3 1292.0,1097.6 1292.5,1098.2 1293.0,1101.1 1293.6,1098.7 1294.1,1101.4 1294.6,1100.5 1295.1,1102.3 1295.7,1102.1 1296.2,1103.4 1296.7,1102.9 1297.2,1103.4 1297.8,1102.2 1298.3,1103.0 1298.8,1102.0 1299.3,1100.1 1299.9,1098.9 1300.4,1098.7 1300.9,1100.9 1301.4,1096.3 1302.0,1099.8 1302.5,1098.1 1303.0,1100.0 1303.5,1098.8 1304.1,1097.1 1304.6,1098.0 1305.1,1094.3 1305.6,1097.9 1306.2,1098.1 1306.7,1094.5 1307.2,1098.6 1307.8,1097.1 1308.3,1097.7 1308.8,1095.5 1309.3,1098.7 1309.9,1099.0 1310.4,1098.4 1310.9,1097.2 1311.4,1100.2 1312.0,1101.3 1312.5,1100.4 1313.0,1101.6 1313.5,1099.6 1314.1,1101.0 1314.6,1101.7 1315.1,1101.6 1315.6,1105.9 1316.2,1102.5 1316.7,1101.1 1317.2,1103.3 1317.7,1100.5 1318.3,1102.8 1318.8,1103.5 1319.3,1101.6 1319.8,1102.0 1320.4,1101.1 1320.9,1102.8 1321.4,1101.6 1321.9,1105.3 1322.5,1103.7 1323.0,1102.5 1323.5,1100.7 1324.0,1105.9 1324.6,1104.9 1325.1,1103.7 1325.6,1103.3 1326.2,1103.3 1326.7,1102.4 1327.2,1106.0 1327.7,1103.5 1328.3,1101.1 1328.8,1102.3 1329.3,1099.4 1329.8,1104.3 1330.4,1104.5 1330.9,1106.0 1331.4,1106.6 1331.9,1102.3 1332.5,1104.2 1333.0,1105.0 1333.5,1104.7 1334.0,1102.8 1334.6,1104.8 1335.1,1104.4 1335.6,1105.7 1336.1,1103.7 1336.7,1103.4 1337.2,1103.0 1337.7,1103.3 1338.2,1102.7 1338.8,1103.4 1339.3,1104.7 1339.8,1104.7 1340.3,1106.0 1340.9,1105.7 1341.4,1105.1 1341.9,1102.4 1342.4,1105.1 1343.0,1106.0 1343.5,1102.3 1344.0,1102.6 1344.6,1102.9 1345.1,1102.8 1345.6,1104.0 1346.1,1103.1 1346.7,1105.1 1347.2,1102.7 1347.7,1104.4 1348.2,1103.9 1348.8,1103.2 1349.3,1106.2 1349.8,1104.8 1350.3,1105.6 1350.9,1104.3 1351.4,1105.9 1351.9,1105.8 1352.4,1104.7 1353.0,1102.3 1353.5,1106.2 1354.0,1106.1 1354.5,1105.3 1355.1,1105.5 1355.6,1105.3 1356.1,1105.5 1356.6,1103.7 1357.2,1105.2 1357.7,1105.7 1358.2,1104.4 1358.7,1103.9 1359.3,1108.2 1359.8,1106.3 1360.3,1105.0 1360.8,1104.7 1361.4,1101.5 1361.9,1103.4 1362.4,1105.2 1363.0,1107.5 1363.5,1102.6 1364.0,1104.6 1364.5,1108.6 1365.1,1106.7 1365.6,1106.4 1366.1,1107.6 1366.6,1105.7 1367.2,1105.6 1367.7,1107.0 1368.2,1107.2 1368.7,1104.4 1369.3,1108.3 1369.8,1103.4 1370.3,1105.0 1370.8,1110.7 1371.4,1105.4 1371.9,1107.2 1372.4,1104.7 1372.9,1105.8 1373.5,1105.2 1374.0,1105.7 1374.5,1107.3 1375.0,1109.0 1375.6,1107.7 1376.1,1108.8 1376.6,1105.7 1377.1,1108.7 1377.7,1107.4 1378.2,1108.7 1378.7,1106.0 1379.2,1106.3 1379.8,1108.7 1380.3,1107.6 1380.8,1106.9 1381.4,1105.7 1381.9,1106.6 1382.4,1107.5 1382.9,1107.9 1383.5,1106.0 1384.0,1106.4 1384.5,1107.5 1385.0,1105.3 1385.6,1108.3 1386.1,1106.9 1386.6,1106.8 1387.1,1103.3 1387.7,1104.6 1388.2,1105.4 1388.7,1106.1 1389.2,1105.3 1389.8,1107.5 1390.3,1107.2 1390.8,1106.6 1391.3,1103.9 1391.9,1109.1 1392.4,1106.6 1392.9,1107.9 1393.4,1106.0 1394.0,1107.0 1394.5,1108.0 1395.0,1107.3 1395.5,1108.4 1396.1,1106.7 1396.6,1110.0 1397.1,1104.2 1397.6,1106.2 1398.2,1108.5 1398.7,1106.6 1399.2,1106.3 1399.8,1104.3 1400.3,1108.8 1400.8,1104.1 1401.3,1107.7 1401.9,1107.3 1402.4,1108.3 1402.9,1109.2 1403.4,1105.9 1404.0,1105.8 1404.5,1106.5 1405.0,1104.4 1405.5,1108.2 1406.1,1106.4 1406.6,1107.2 1407.1,1105.3 1407.6,1107.0 1408.2,1106.0 1408.7,1106.8 1409.2,1105.3 1409.7,1108.5 1410.3,1106.0 1410.8,1103.1 1411.3,1107.9 1411.8,1106.5 1412.4,1105.6 1412.9,1110.7 1413.4,1106.9 1413.9,1104.9 1414.5,1106.0 1415.0,1107.5 1415.5,1106.6 1416.0,1108.8 1416.6,1108.5 1417.1,1105.7 1417.6,1107.0 1418.1,1107.9 1418.7,1106.3 1419.2,1106.2 1419.7,1108.3 1420.3,1107.6 1420.8,1104.8 1421.3,1106.1 1421.8,1106.3 1422.4,1106.8 1422.9,1105.9 1423.4,1109.0 1423.9,1105.5 1424.5,1105.3 1425.0,1107.3 1425.5,1103.6 1426.0,1105.4 1426.6,1107.9 1427.1,1105.0 1427.6,1105.8 1428.1,1108.7 1428.7,1107.7 1429.2,1107.2 1429.7,1107.4 1430.2,1106.1 1430.8,1107.6 1431.3,1106.8 1431.8,1110.9 1432.3,1108.0 1432.9,1106.7 1433.4,1107.1 1433.9,1107.3 1434.4,1105.2 1435.0,1106.0 1435.5,1109.6 1436.0,1105.2 1436.5,1106.4 1437.1,1108.9 1437.6,1109.6 1438.1,1105.8 1438.7,1109.6 1439.2,1106.9 1439.7,1109.9 1440.2,1108.2 1440.8,1107.1 1441.3,1108.6 1441.8,1108.4 1442.3,1106.4 1442.9,1110.8 1443.4,1107.1 1443.9,1109.3 1444.4,1106.9 1445.0,1104.9 1445.5,1106.0 1446.0,1107.5 1446.5,1108.7 1447.1,1110.4 1447.6,1107.9 1448.1,1107.4 1448.6,1105.9 1449.2,1107.7 1449.7,1108.3 1450.2,1104.5 1450.7,1109.8 1451.3,1109.6 1451.8,1111.3 1452.3,1106.5 1452.8,1108.0 1453.4,1108.0 1453.9,1106.0 1454.4,1106.7 1454.9,1106.5 1455.5,1108.8 1456.0,1108.7 1456.5,1110.0 1457.1,1107.4 1457.6,1105.9 1458.1,1108.7 1458.6,1108.6 1459.2,1109.1 1459.7,1109.9 1460.2,1107.2 1460.7,1109.3 1461.3,1106.6 1461.8,1108.3 1462.3,1109.1 1462.8,1107.9 1463.4,1108.4 1463.9,1106.0 1464.4,1107.1 1464.9,1108.3 1465.5,1106.3 1466.0,1106.9 1466.5,1111.8 1467.0,1108.5 1467.6,1106.9 1468.1,1106.6 1468.6,1110.2 1469.1,1103.9 1469.7,1107.6 1470.2,1109.0 1470.7,1107.2 1471.2,1108.9 1471.8,1106.5 1472.3,1108.0 1472.8,1108.1 1473.3,1108.1 1473.9,1108.3 1474.4,1108.1 1474.9,1109.8 1475.5,1107.7 1476.0,1107.2 1476.5,1107.7 1477.0,1107.6 1477.6,1105.8 1478.1,1105.2 1478.6,1106.1 1479.1,1108.5 1479.7,1107.1 1480.2,1107.5 1480.7,1112.4 1481.2,1109.8 1481.8,1107.8 1482.3,1107.2 1482.8,1110.2 1483.3,1106.9 1483.9,1110.0 1484.4,1109.0 1484.9,1110.2 1485.4,1107.0 1486.0,1109.5 1486.5,1105.4 1487.0,1107.9 1487.5,1109.8 1488.1,1109.2 1488.6,1105.4 1489.1,1109.2 1489.6,1108.8 1490.2,1108.1 1490.7,1107.1 1491.2,1107.7 1491.7,1107.3 1492.3,1109.6 1492.8,1108.9 1493.3,1109.8 1493.9,1109.2 1494.4,1106.2 1494.9,1108.4 1495.4,1111.4 1496.0,1106.5 1496.5,1108.6 1497.0,1107.0 1497.5,1106.8 1498.1,1108.5 1498.6,1109.6 1499.1,1109.3 1499.6,1108.9 1500.2,1109.6 1500.7,1105.8 1501.2,1109.4 1501.7,1108.8 1502.3,1107.9 1502.8,1108.2 1503.3,1106.9 1503.8,1110.0 1504.4,1107.1 1504.9,1106.0 1505.4,1108.2 1505.9,1107.4 1506.5,1108.1 1507.0,1110.5 1507.5,1108.0 1508.0,1108.4 1508.6,1111.6 1509.1,1106.1 1509.6,1108.8 1510.1,1110.0 1510.7,1110.5 1511.2,1111.6 1511.7,1107.3 1512.3,1109.2 1512.8,1108.1 1513.3,1107.6 1513.8,1107.2 1514.4,1106.1 1514.9,1108.8 1515.4,1109.4 1515.9,1106.7 1516.5,1109.4 1517.0,1107.5 1517.5,1106.8 1518.0,1104.4 1518.6,1110.0 1519.1,1109.4 1519.6,1107.8 1520.1,1107.7 1520.7,1106.4 1521.2,1109.1 1521.7,1108.2 1522.2,1109.1 1522.8,1108.6 1523.3,1106.2 1523.8,1106.0 1524.3,1109.0 1524.9,1105.8 1525.4,1108.8 1525.9,1109.7 1526.4,1106.4 1527.0,1109.4 1527.5,1108.5 1528.0,1109.2 1528.5,1107.5 1529.1,1108.4 1529.6,1109.1 1530.1,1111.2 1530.6,1109.6 1531.2,1109.2 1531.7,1106.5 1532.2,1109.0 1532.8,1107.5 1533.3,1108.4 1533.8,1108.9 1534.3,1110.0 1534.9,1109.4 1535.4,1108.8 1535.9,1108.5 1536.4,1110.6 1537.0,1107.2 1537.5,1108.6 1538.0,1110.6 1538.5,1108.3 1539.1,1109.8 1539.6,1109.9 1540.1,1111.6 1540.6,1110.3 1541.2,1106.1 1541.7,1108.6 1542.2,1109.1 1542.7,1109.9 1543.3,1109.2 1543.8,1111.5 1544.3,1110.3 1544.8,1106.8 1545.4,1107.7 1545.9,1105.5 1546.4,1111.2 1546.9,1108.4 1547.5,1108.4 1548.0,1106.2 1548.5,1107.9 1549.0,1109.2 1549.6,1108.0 1550.1,1108.0 1550.6,1107.6 1551.2,1111.6 1551.7,1107.7 1552.2,1106.4 1552.7,1107.8 1553.3,1108.0 1553.8,1108.4 1554.3,1108.2 1554.8,1106.9 1555.4,1108.3 1555.9,1109.2 1556.4,1106.5 1556.9,1111.6 1557.5,1111.2 1558.0,1105.8 1558.5,1108.1 1559.0,1110.2 1559.6,1110.7 1560.1,1111.4 1560.6,1105.8 1561.1,1107.0 1561.7,1107.9 1562.2,1109.5 1562.7,1107.1 1563.2,1109.4 1563.8,1109.4 1564.3,1109.8 1564.8,1106.8 1565.3,1109.1 1565.9,1108.9 1566.4,1108.2 1566.9,1110.8 1567.4,1108.4 1568.0,1111.1 1568.5,1108.0 1569.0,1111.5 1569.6,1111.4 1570.1,1107.7 1570.6,1109.4 1571.1,1109.4 1571.7,1107.5 1572.2,1110.2 1572.7,1109.9 1573.2,1107.7 1573.8,1109.2 1574.3,1110.4 1574.8,1108.8 1575.3,1108.0 1575.9,1111.6 1576.4,1107.6 1576.9,1109.7 1577.4,1110.9 1578.0,1110.4 1578.5,1106.4 1579.0,1108.7 1579.5,1109.0 1580.1,1108.9 1580.6,1110.2 1581.1,1110.1 1581.6,1109.5 1582.2,1109.7 1582.7,1110.9 1583.2,1111.3 1583.7,1106.5 1584.3,1112.7 1584.8,1108.6 1585.3,1110.6 1585.8,1107.0 1586.4,1108.7 1586.9,1107.5 1587.4,1111.1 1588.0,1110.8 1588.5,1109.5 1589.0,1109.3 1589.5,1110.1 1590.1,1108.1 1590.6,1108.6 1591.1,1108.4 1591.6,1110.8 1592.2,1109.6 1592.7,1107.7 1593.2,1110.2 1593.7,1110.4 1594.3,1111.8 1594.8,1108.8 1595.3,1110.3 1595.8,1112.9 1596.4,1109.2 1596.9,1109.2 1597.4,1110.5 1597.9,1109.0 1598.5,1109.8 1599.0,1109.0 1599.5,1108.6 1600.0,1111.1 1600.6,1109.2 1601.1,1108.3 1601.6,1109.4 1602.1,1109.6 1602.7,1110.3 1603.2,1111.3 1603.7,1112.6 1604.2,1108.0 1604.8,1109.5 1605.3,1107.1 1605.8,1110.2 1606.4,1110.7 1606.9,1108.9 1607.4,1108.5 1607.9,1108.4 1608.5,1107.7 1609.0,1110.9 1609.5,1112.9 1610.0,1108.2 1610.6,1112.5 1611.1,1109.8 1611.6,1107.9 1612.1,1110.9 1612.7,1111.2 1613.2,1110.6 1613.7,1109.6 1614.2,1112.6 1614.8,1109.6 1615.3,1111.0 1615.8,1111.0 1616.3,1108.7 1616.9,1107.3 1617.4,1107.4 1617.9,1109.5 1618.4,1110.6 1619.0,1107.4 1619.5,1109.0 1620.0,1112.5 1620.5,1107.4 1621.1,1110.8 1621.6,1110.7 1622.1,1111.4 1622.6,1107.9 1623.2,1110.7 1623.7,1108.1 1624.2,1112.2 1624.7,1108.9 1625.3,1110.8 1625.8,1109.0 1626.3,1110.4 1626.9,1107.9 1627.4,1110.7 1627.9,1111.2 1628.4,1110.2 1629.0,1112.7 1629.5,1110.8 1630.0,1111.5 1630.5,1111.0 1631.1,1113.1 1631.6,1109.3 1632.1,1109.9 1632.6,1110.0 1633.2,1111.3 1633.7,1110.7 1634.2,1111.6 1634.7,1110.8 1635.3,1109.6 1635.8,1110.3 1636.3,1111.0 1636.8,1106.9 1637.4,1112.5 1637.9,1109.6 1638.4,1109.9 1638.9,1110.8 1639.5,1110.1 1640.0,1108.2 1640.5,1110.1 1641.0,1112.6 1641.6,1112.1 1642.1,1112.4 1642.6,1109.7 1643.1,1110.2 1643.7,1112.1 1644.2,1112.8 1644.7,1110.6 1645.3,1109.1 1645.8,1107.6 1646.3,1112.8 1646.8,1108.3 1647.4,1111.3 1647.9,1112.0 1648.4,1115.6 1648.9,1110.9 1649.5,1110.5 1650.0,1111.4 1650.5,1111.5 1651.0,1112.8 1651.6,1111.8 1652.1,1109.5 1652.6,1107.5 1653.1,1111.2 1653.7,1109.7 1654.2,1112.9 1654.7,1108.7 1655.2,1111.1 1655.8,1109.7 1656.3,1109.4 1656.8,1113.4 1657.3,1111.1 1657.9,1110.5 1658.4,1112.0 1658.9,1109.6 1659.4,1110.3 1660.0,1109.9 1660.5,1113.9 1661.0,1111.4 1661.5,1111.8 1662.1,1112.6 1662.6,1110.6 1663.1,1110.7 1663.7,1108.4 1664.2,1111.6 1664.7,1111.3 1665.2,1110.3 1665.8,1112.8 1666.3,1108.2 1666.8,1111.6 1667.3,1108.8 1667.9,1109.2 1668.4,1110.6 1668.9,1113.0 1669.4,1109.1 1670.0,1109.4 1670.5,1109.1 1671.0,1114.1 1671.5,1111.8 1672.1,1111.6 1672.6,1114.2 1673.1,1111.4 1673.6,1107.8 1674.2,1110.2 1674.7,1109.2 1675.2,1114.2 1675.7,1108.8 1676.3,1111.5 1676.8,1110.3 1677.3,1110.4 1677.8,1111.1 1678.4,1110.9 1678.9,1110.0 1679.4,1109.2 1679.9,1110.1 1680.5,1109.5 1681.0,1109.7 1681.5,1111.3 1682.1,1110.9 1682.6,1111.9 1683.1,1110.8 1683.6,1114.1 1684.2,1110.0 1684.7,1109.6 1685.2,1112.7 1685.7,1110.1 1686.3,1111.4 1686.8,1112.7 1687.3,1111.0 1687.8,1110.6 1688.4,1112.7 1688.9,1111.7 1689.4,1110.4 1689.9,1109.3 1690.5,1110.6 1691.0,1108.6 1691.5,1109.9 1692.0,1109.5 1692.6,1111.7 1693.1,1112.4 1693.6,1110.2 1694.1,1110.6 1694.7,1109.5 1695.2,1109.1 1695.7,1110.6 1696.2,1112.1 1696.8,1112.0 1697.3,1112.2 1697.8,1110.9 1698.3,1107.0 1698.9,1112.7 1699.4,1113.4 1699.9,1112.7 1700.5,1112.7 1701.0,1113.0 1701.5,1115.5 1702.0,1111.9 1702.6,1113.8 1703.1,1112.6 1703.6,1112.4 1704.1,1111.2 1704.7,1110.9 1705.2,1109.6 1705.7,1112.3 1706.2,1110.9 1706.8,1109.5 1707.3,1110.2 1707.8,1109.6 1708.3,1113.9 1708.9,1111.1 1709.4,1111.6 1709.9,1109.6 1710.4,1109.9 1711.0,1113.1 1711.5,1111.1 1712.0,1111.8 1712.5,1114.3 1713.1,1114.8 1713.6,1112.6 1714.1,1112.3 1714.6,1111.9 1715.2,1111.1 1715.7,1114.7 1716.2,1109.6 1716.7,1111.4 1717.3,1108.5 1717.8,1109.6 1718.3,1112.2 1718.9,1112.3 1719.4,1112.1 1719.9,1111.1 1720.4,1110.5 1721.0,1110.7 1721.5,1111.0 1722.0,1113.3 1722.5,1113.9 1723.1,1112.3 1723.6,1110.8 1724.1,1110.2 1724.6,1112.1 1725.2,1111.3 1725.7,1108.8 1726.2,1113.8 1726.7,1111.6 1727.3,1111.2 1727.8,1110.3 1728.3,1110.3 1728.8,1113.1 1729.4,1110.2 1729.9,1111.8 1730.4,1112.7 1730.9,1114.6 1731.5,1112.6 1732.0,1111.7 1732.5,1111.0 1733.0,1113.0 1733.6,1113.3 1734.1,1111.1 1734.6,1112.6 1735.1,1111.5 1735.7,1109.2 1736.2,1110.2 1736.7,1113.0 1737.2,1114.0 1737.8,1112.8 1738.3,1111.5 1738.8,1110.7 1739.4,1112.6 1739.9,1112.3 1740.4,1109.3 1740.9,1112.8 1741.5,1110.7 1742.0,1112.9 1742.5,1112.6 1743.0,1112.9 1743.6,1113.5 1744.1,1112.9 1744.6,1110.2 1745.1,1110.2 1745.7,1113.5 1746.2,1112.6 1746.7,1109.4 1747.2,1108.7 1747.8,1113.3 1748.3,1115.3 1748.8,1113.2 1749.3,1111.5 1749.9,1112.3 1750.4,1107.6 1750.9,1110.3 1751.4,1113.5 1752.0,1113.3 1752.5,1108.6 1753.0,1113.8 1753.5,1112.8 1754.1,1113.4 1754.6,1111.6 1755.1,1111.9 1755.6,1110.3 1756.2,1112.4 1756.7,1113.4 1757.2,1110.5 1757.8,1112.5 1758.3,1111.1 1758.8,1113.6 1759.3,1113.5 1759.9,1108.3 1760.4,1112.7 1760.9,1113.6 1761.4,1111.1 1762.0,1111.7 1762.5,1111.8 1763.0,1110.2 1763.5,1111.8 1764.1,1114.5 1764.6,1112.8 1765.1,1114.4 1765.6,1113.6 1766.2,1113.9 1766.7,1112.2 1767.2,1113.3 1767.7,1115.2 1768.3,1114.4 1768.8,1112.6 1769.3,1111.0 1769.8,1110.6 1770.4,1112.5 1770.9,1112.8 1771.4,1109.2 1771.9,1112.5 1772.5,1112.7 1773.0,1112.6 1773.5,1111.3 1774.0,1115.7 1774.6,1113.5 1775.1,1110.0 1775.6,1111.0 1776.2,1113.4 1776.7,1113.0 1777.2,1112.4 1777.7,1112.1 1778.3,1111.8 1778.8,1111.5 1779.3,1110.6 1779.8,1113.1 1780.4,1107.8 1780.9,1111.0 1781.4,1114.1 1781.9,1111.0 1782.5,1110.3 1783.0,1115.1 1783.5,1113.8 1784.0,1112.0 1784.6,1111.3 1785.1,1111.8 1785.6,1111.7 1786.1,1111.8 1786.7,1111.1 1787.2,1113.1 1787.7,1111.3 1788.2,1109.4 1788.8,1110.2 1789.3,1112.2 1789.8,1110.6 1790.3,1108.4 1790.9,1114.6 1791.4,1113.0 1791.9,1111.5 1792.4,1111.4 1793.0,1113.0 1793.5,1114.4 1794.0,1111.3 1794.6,1112.9 1795.1,1111.3 1795.6,1112.8 1796.1,1110.5 1796.7,1109.4 1797.2,1112.4 1797.7,1112.2 1798.2,1113.4 1798.8,1111.3 1799.3,1114.4 1799.8,1112.5 1800.3,1114.7 1800.9,1111.8 1801.4,1114.7 1801.9,1112.2 1802.4,1112.6 1803.0,1113.9 1803.5,1109.6 1804.0,1110.7 1804.5,1115.2 1805.1,1110.0 1805.6,1111.6 1806.1,1113.3 1806.6,1114.7 1807.2,1111.6 1807.7,1112.6 1808.2,1110.7 1808.7,1111.9 1809.3,1114.1 1809.8,1113.0 1810.3,1112.4 1810.8,1113.1 1811.4,1112.7 1811.9,1112.8 1812.4,1112.0 1813.0,1111.0 1813.5,1113.6 1814.0,1110.8 1814.5,1114.1 1815.1,1115.9 1815.6,1114.9 1816.1,1116.2 1816.6,1111.0 1817.2,1113.0 1817.7,1111.3 1818.2,1111.5 1818.7,1110.0 1819.3,1110.8 1819.8,1114.0 1820.3,1113.8 1820.8,1114.5 1821.4,1114.4 1821.9,1113.9 1822.4,1111.5 1822.9,1112.6 1823.5,1113.9 1824.0,1114.7 1824.5,1112.2 1825.0,1112.0 1825.6,1112.1 1826.1,1115.3 1826.6,1113.7 1827.1,1112.3 1827.7,1111.6 1828.2,1113.5 1828.7,1110.3 1829.2,1112.5 1829.8,1112.0 1830.3,1112.0 1830.8,1113.2 1831.3,1113.5 1831.9,1117.6 1832.4,1113.1 1832.9,1114.0 1833.5,1111.7 1834.0,1110.4 1834.5,1114.7 1835.0,1116.0 1835.6,1111.5 1836.1,1112.9 1836.6,1114.7 1837.1,1113.2 1837.7,1109.3 1838.2,1114.6 1838.7,1112.8 1839.2,1114.2 1839.8,1111.6 1840.3,1114.5 1840.8,1114.7 1841.3,1112.0 1841.9,1113.9 1842.4,1112.1 1842.9,1112.4 1843.4,1111.7 1844.0,1112.5 1844.5,1112.1 1845.0,1115.0 1845.5,1112.8 1846.1,1111.5 1846.6,1115.3 1847.1,1114.1 1847.6,1114.8 1848.2,1113.1 1848.7,1114.3 1849.2,1113.1 1849.7,1111.8 1850.3,1113.4 1850.8,1113.5 1851.3,1113.5 1851.9,1114.6 1852.4,1110.7 1852.9,1113.8 1853.4,1112.1 1854.0,1112.9 1854.5,1114.1 1855.0,1113.5 1855.5,1112.4 1856.1,1114.6 1856.6,1113.3 1857.1,1114.9 1857.6,1115.3 1858.2,1112.9 1858.7,1111.8 1859.2,1113.6 1859.7,1114.7 1860.3,1114.0 1860.8,1111.7 1861.3,1110.9 1861.8,1112.1 1862.4,1112.1 1862.9,1114.5 1863.4,1113.7 1863.9,1114.9 1864.5,1113.5 1865.0,1116.2 1865.5,1113.6 1866.0,1114.5 1866.6,1113.0 1867.1,1114.3 1867.6,1115.3 1868.1,1114.8 1868.7,1115.6 1869.2,1112.8 1869.7,1114.4 1870.3,1116.3 1870.8,1114.1 1871.3,1113.5 1871.8,1113.4 1872.4,1112.9 1872.9,1114.0 1873.4,1115.9 1873.9,1114.5 1874.5,1113.7 1875.0,1112.6 1875.5,1112.1 1876.0,1117.5 1876.6,1113.1 1877.1,1114.0 1877.6,1113.1 1878.1,1114.1 1878.7,1113.2 1879.2,1114.0 1879.7,1116.1 1880.2,1112.7 1880.8,1114.7 1881.3,1113.8 1881.8,1115.0 1882.3,1112.8 1882.9,1114.5 1883.4,1112.4 1883.9,1111.1 1884.4,1111.9 1885.0,1112.5 1885.5,1112.2 1886.0,1113.4 1886.5,1115.6 1887.1,1112.2 1887.6,1114.6 1888.1,1114.2 1888.7,1112.9 1889.2,1112.5 1889.7,1114.6 1890.2,1114.7 1890.8,1113.4 1891.3,1113.7 1891.8,1114.0 1892.3,1112.0 1892.9,1114.2 1893.4,1114.5 1893.9,1116.7 1894.4,1112.1 1895.0,1112.7 1895.5,1114.2 1896.0,1113.2 1896.5,1113.5 1897.1,1114.1 1897.6,1113.7 1898.1,1114.1 1898.6,1114.8 1899.2,1111.7 1899.7,1115.0 1900.2,1110.8 1900.7,1116.7 1901.3,1115.6 1901.8,1113.3 1902.3,1115.7 1902.8,1114.0 1903.4,1114.9 1903.9,1115.4 1904.4,1114.8 1904.9,1114.3 1905.5,1115.2 1906.0,1114.0 1906.5,1113.7 1907.1,1112.9 1907.6,1111.6 1908.1,1116.7 1908.6,1115.5 1909.2,1112.3 1909.7,1115.0 1910.2,1114.7 1910.7,1111.1 1911.3,1113.2 1911.8,1114.3 1912.3,1117.0 1912.8,1116.1 1913.4,1116.4 1913.9,1115.0 1914.4,1116.0 1914.9,1112.7 1915.5,1115.4 1916.0,1115.6 1916.5,1112.6 1917.0,1114.9 1917.6,1116.9 1918.1,1117.5 1918.6,1116.7 1919.1,1113.6 1919.7,1114.5 1920.2,1113.9 1920.7,1116.5 1921.2,1113.4 1921.8,1113.1 1922.3,1112.3 1922.8,1115.0 1923.3,1115.4 1923.9,1113.8 1924.4,1113.6 1924.9,1114.5 1925.5,1116.8 1926.0,1112.8 1926.5,1114.7 1927.0,1115.1 1927.6,1115.4 1928.1,1116.7 1928.6,1116.1 1929.1,1115.3 1929.7,1117.1 1930.2,1116.6 1930.7,1115.3 1931.2,1115.2 1931.8,1113.1 1932.3,1115.1 1932.8,1113.7 1933.3,1113.2 1933.9,1114.5 1934.4,1112.4 1934.9,1113.6 1935.4,1114.2 1936.0,1115.5 1936.5,1114.5 1937.0,1115.6 1937.5,1117.4 1938.1,1116.2 1938.6,1113.3 1939.1,1112.3 1939.6,1113.6 1940.2,1113.7 1940.7,1112.0 1941.2,1112.4 1941.7,1112.4 1942.3,1114.1 1942.8,1117.1 1943.3,1117.6 1943.8,1113.5 1944.4,1114.3 1944.9,1112.9 1945.4,1112.5 1946.0,1114.9 1946.5,1115.1 1947.0,1114.0 1947.5,1115.9 1948.1,1114.5 1948.6,1116.6 1949.1,1114.2 1949.6,1116.3 1950.2,1114.7 1950.7,1115.2 1951.2,1115.9 1951.7,1113.0 1952.3,1113.9 1952.8,1114.9 1953.3,1114.6 1953.8,1115.4 1954.4,1113.8 1954.9,1113.0 1955.4,1114.9 1955.9,1115.5 1956.5,1113.8 1957.0,1116.9 1957.5,1116.1 1958.0,1116.3 1958.6,1116.2 1959.1,1113.8 1959.6,1118.3 1960.1,1114.0 1960.7,1115.7 1961.2,1116.2 1961.7,1115.6 1962.2,1115.4 1962.8,1113.9 1963.3,1114.6 1963.8,1115.2 1964.4,1117.1 1964.9,1114.2 1965.4,1116.2 1965.9,1115.9 1966.5,1115.4 1967.0,1114.4 1967.5,1115.0 1968.0,1112.7 1968.6,1115.4 1969.1,1115.8 1969.6,1114.5 1970.1,1116.1 1970.7,1115.8 1971.2,1114.2 1971.7,1116.6 1972.2,1114.5 1972.8,1118.9 1973.3,1113.8 1973.8,1114.1 1974.3,1114.4 1974.9,1115.7 1975.4,1117.1 1975.9,1115.5 1976.4,1114.7 1977.0,1118.2 1977.5,1116.9 1978.0,1114.9 1978.5,1115.2 1979.1,1113.0 1979.6,1115.4 1980.1,1117.9 1980.6,1113.6 1981.2,1113.2 1981.7,1115.5 1982.2,1111.7 1982.8,1117.4 1983.3,1113.0 1983.8,1114.2 1984.3,1115.0 1984.9,1117.1 1985.4,1115.9 1985.9,1112.4 1986.4,1112.7 1987.0,1115.6 1987.5,1112.1 1988.0,1114.8 1988.5,1114.0 1989.1,1116.4 1989.6,1117.0 1990.1,1111.4 1990.6,1115.8 1991.2,1116.1 1991.7,1114.0 1992.2,1114.3 1992.7,1113.4 1993.3,1114.7 1993.8,1115.8 1994.3,1117.2 1994.8,1117.3 1995.4,1114.7 1995.9,1113.9 1996.4,1116.6 1996.9,1111.0 1997.5,1113.0 1998.0,1116.1 1998.5,1118.5 1999.0,1114.0 1999.6,1115.3 2000.1,1113.5 2000.6,1115.0 2001.2,1115.0 2001.7,1114.0 2002.2,1115.7 2002.7,1114.9 2003.3,1115.9 2003.8,1114.9 2004.3,1113.3 2004.8,1115.4 2005.4,1116.4 2005.9,1114.0 2006.4,1117.2 2006.9,1115.8 2007.5,1114.6 2008.0,1115.2 2008.5,1114.5 2009.0,1113.8 2009.6,1116.6 2010.1,1116.5 2010.6,1114.5 2011.1,1114.9 2011.7,1114.9 2012.2,1116.2 2012.7,1117.4 2013.2,1114.2 2013.8,1115.7 2014.3,1115.2 2014.8,1116.0 2015.3,1117.4 2015.9,1113.9 2016.4,1112.1 2016.9,1114.9 2017.4,1112.8 2018.0,1117.7 2018.5,1114.2 2019.0,1114.8 2019.6,1115.6 2020.1,1115.5 2020.6,1114.6 2021.1,1115.2 2021.7,1116.6 2022.2,1114.8 2022.7,1118.0 2023.2,1115.8 2023.8,1111.7 2024.3,1116.6 2024.8,1112.6 2025.3,1115.7 2025.9,1118.6 2026.4,1116.9 2026.9,1113.5 2027.4,1114.0 2028.0,1115.3 2028.5,1117.4 2029.0,1114.1 2029.5,1116.9 2030.1,1115.7 2030.6,1115.1 2031.1,1115.0 2031.6,1117.8 2032.2,1113.0 2032.7,1113.5 2033.2,1116.6 2033.7,1116.7 2034.3,1113.3 2034.8,1113.9"/>
<path stroke="#FF4242" d="M198.0,817.8 198.5,817.0 199.1,817.0 199.6,814.7 200.1,819.3 200.6,818.5 201.2,816.8 201.7,818.0 202.2,817.4 202.7,816.4 203.3,818.0 203.8,816.6 204.3,816.5 204.8,815.9 205.4,817.3 205.9,816.6 206.4,817.3 206.9,816.0 207.5,816.8 208.0,815.7 208.5,817.6 209.0,816.9 209.6,817.1 210.1,817.2 210.6,815.6 211.1,817.6 211.7,819.0 212.2,814.9 212.7,814.8 213.2,815.0 213.8,817.6 214.3,816.8 214.8,817.9 215.3,817.5 215.9,816.9 216.4,817.0 216.9,816.5 217.5,817.7 218.0,815.5 218.5,816.2 219.0,817.0 219.6,818.7 220.1,815.9 220.6,815.5 221.1,816.1 221.7,817.8 222.2,816.4 222.7,818.2 223.2,814.6 223.8,817.9 224.3,817.8 224.8,815.1 225.3,816.9 225.9,818.0 226.4,816.8 226.9,817.8 227.4,819.3 228.0,817.0 228.5,816.4 229.0,815.9 229.5,817.5 230.1,816.6 230.6,816.6 231.1,816.7 231.6,817.6 232.2,815.7 232.7,815.2 233.2,814.3 233.7,818.3 234.3,817.1 234.8,818.7 235.3,817.1 235.9,816.3 236.4,817.7 236.9,817.1 237.4,815.9 238.0,816.3 238.5,819.2 239.0,817.7 239.5,817.8 240.1,817.1 240.6,816.7 241.1,818.5 241.6,817.4 242.2,816.7 242.7,817.4 243.2,816.6 243.7,817.8 244.3,818.9 244.8,816.7 245.3,819.3 245.8,817.0 246.4,817.9 246.9,816.8 247.4,817.5 247.9,817.9 248.5,817.3 249.0,817.1 249.5,817.1 250.0,817.0 250.6,816.2 251.1,817.6 251.6,818.4 252.1,819.0 252.7,818.7 253.2,820.7 253.7,818.4 254.2,817.6 254.8,820.2 255.3,817.0 255.8,819.2 256.4,817.1 256.9,818.6 257.4,816.1 257.9,819.3 258.5,818.1 259.0,817.3 259.5,820.2 260.0,819.3 260.6,818.5 261.1,817.7 261.6,818.5 262.1,818.4 262.7,819.4 263.2,819.6 263.7,818.0 264.2,818.2 264.8,818.3 265.3,817.5 265.8,818.5 266.3,819.1 266.9,820.1 267.4,820.9 267.9,818.6 268.4,820.2 269.0,819.2 269.5,822.1 270.0,819.9 270.5,820.6 271.1,819.2 271.6,819.4 272.1,820.7 272.6,820.2 273.2,821.1 273.7,819.1 274.2,821.7 274.8,820.1 275.3,823.1 275.8,821.0 276.3,822.6 276.9,820.0 277.4,822.1 277.9,820.8 278.4,821.3 279.0,822.0 279.5,821.7 280.0,822.5 280.5,823.1 281.1,823.1 281.6,822.4 282.1,821.1 282.6,821.9 283.2,822.6 283.7,820.6 284.2,823.9 284.7,822.9 285.3,823.0 285.8,824.5 286.3,824.3 286.8,823.9 287.4,822.6 287.9,824.2 288.4,824.3 288.9,823.1 289.5,825.3 290.0,824.9 290.5,822.2 291.0,824.6 291.6,823.2 292.1,826.0 292.6,825.7 293.2,823.7 293.7,824.1 294.2,825.2 294.7,825.0 295.3,827.0 295.8,826.2 296.3,825.2 296.8,826.2 297.4,823.5 297.9,826.1 298.4,826.8 298.9,825.8 299.5,825.3 300.0,826.8 300.5,828.4 301.0,826.5 301.6,825.1 302.1,828.1 302.6,824.5 303.1,827.2 303.7,826.1 304.2,827.8 304.7,825.9 305.2,828.4 305.8,827.3 306.3,825.2 306.8,825.0 307.3,826.9 307.9,828.7 308.4,827.5 308.9,827.5 309.4,827.3 310.0,828.4 310.5,828.1 311.0,828.1 311.6,826.8 312.1,829.2 312.6,829.5 313.1,826.7 313.7,830.7 314.2,829.0 314.7,827.8 315.2,826.3 315.8,829.2 316.3,829.2 316.8,828.0 317.3,826.7 317.9,830.0 318.4,828.2 318.9,828.4 319.4,832.1 320.0,831.4 320.5,830.2 321.0,828.7 321.5,830.0 322.1,826.9 322.6,829.6 323.1,828.7 323.6,828.2 324.2,827.9 324.7,830.3 325.2,829.9 325.7,830.1 326.3,830.9 326.8,829.1 327.3,828.8 327.8,828.2 328.4,829.9 328.9,831.2 329.4,830.3 330.0,831.2 330.5,829.3 331.0,830.2 331.5,829.9 332.1,829.5 332.6,833.0 333.1,832.0 333.6,830.3 334.2,830.4 334.7,831.2 335.2,829.8 335.7,832.0 336.3,830.2 336.8,831.3 337.3,830.7 337.8,831.4 338.4,830.5 338.9,830.4 339.4,831.1 339.9,831.6 340.5,832.1 341.0,832.6 341.5,834.3 342.0,833.6 342.6,832.5 343.1,833.7 343.6,832.3 344.1,834.7 344.7,833.8 345.2,831.8 345.7,834.2 346.2,834.4 346.8,830.6 347.3,832.9 347.8,833.2 348.4,831.7 348.9,832.7 349.4,832.9 349.9,834.6 350.5,834.5 351.0,837.1 351.5,833.8 352.0,835.6 352.6,834.5 353.1,834.8 353.6,833.2 354.1,832.5 354.7,833.8 355.2,835.5 355.7,836.5 356.2,835.5 356.8,835.4 357.3,834.0 357.8,836.7 358.3,836.5 358.9,834.5 359.4,835.1 359.9,834.1 360.4,836.8 361.0,835.7 361.5,835.2 362.0,835.8 362.5,835.9 363.1,835.0 363.6,834.2 364.1,834.2 364.6,833.7 365.2,836.2 365.7,838.1 366.2,833.9 366.7,835.9 367.3,836.3 367.8,834.8 368.3,836.2 368.9,834.8 369.4,837.3 369.9,835.4 370.4,836.2 371.0,836.9 371.5,835.7 372.0,834.2 372.5,835.7 373.1,837.1 373.6,836.2 374.1,836.6 374.6,835.2 375.2,836.6 375.7,837.3 376.2,836.5 376.7,838.6 377.3,836.4 377.8,835.5 378.3,834.9 378.8,838.0 379.4,836.7 379.9,837.9 380.4,837.3 380.9,838.6 381.5,838.3 382.0,836.5 382.5,837.2 383.0,838.2 383.6,835.7 384.1,838.7 384.6,838.4 385.1,838.2 385.7,837.0 386.2,837.6 386.7,836.0 387.3,837.4 387.8,836.7 388.3,837.5 388.8,836.9 389.4,837.8 389.9,838.9 390.4,836.2 390.9,838.7 391.5,835.5 392.0,835.4 392.5,837.7 393.0,837.9 393.6,838.4 394.1,836.2 394.6,838.0 395.1,838.2 395.7,839.5 396.2,838.1 396.7,838.8 397.2,837.2 397.8,838.2 398.3,837.9 398.8,839.2 399.3,837.4 399.9,837.6 400.4,839.2 400.9,840.6 401.4,839.1 402.0,839.1 402.5,838.4 403.0,840.0 403.5,839.5 404.1,840.8 404.6,839.3 405.1,838.0 405.7,838.4 406.2,838.0 406.7,837.8 407.2,840.6 407.8,840.1 408.3,837.9 408.8,841.3 409.3,839.7 409.9,838.4 410.4,839.9 410.9,839.4 411.4,838.7 412.0,837.5 412.5,839.7 413.0,840.0 413.5,836.9 414.1,840.4 414.6,840.5 415.1,839.3 415.6,840.0 416.2,839.6 416.7,839.0 417.2,839.6 417.7,841.5 418.3,838.4 418.8,840.3 419.3,840.3 419.8,839.4 420.4,839.7 420.9,838.6 421.4,839.3 421.9,840.2 422.5,840.6 423.0,839.3 423.5,843.6 424.1,839.7 424.6,840.5 425.1,840.1 425.6,839.9 426.2,841.8 426.7,839.8 427.2,841.9 427.7,841.7 428.3,839.3 428.8,841.6 429.3,839.7 429.8,843.5 430.4,840.0 430.9,839.4 431.4,838.4 431.9,839.1 432.5,839.9 433.0,839.4 433.5,839.2 434.0,839.8 434.6,840.3 435.1,842.2 435.6,838.7 436.1,840.0 436.7,839.6 437.2,839.0 437.7,839.3 438.2,839.7 438.8,841.5 439.3,840.5 439.8,840.1 440.3,841.4 440.9,841.1 441.4,840.5 441.9,841.2 442.5,839.9 443.0,841.5 443.5,841.4 444.0,840.4 444.6,839.6 445.1,842.6 445.6,841.1 446.1,844.3 446.7,840.3 447.2,842.0 447.7,840.6 448.2,841.4 448.8,842.0 449.3,840.3 449.8,841.1 450.3,841.4 450.9,841.4 451.4,841.9 451.9,842.4 452.4,842.2 453.0,841.6 453.5,841.0 454.0,840.2 454.5,840.6 455.1,840.9 455.6,842.3 456.1,841.1 456.6,840.2 457.2,842.3 457.7,840.8 458.2,840.8 458.7,841.5 459.3,842.3 459.8,839.2 460.3,840.6 460.9,842.1 461.4,841.6 461.9,841.1 462.4,841.5 463.0,843.6 463.5,841.7 464.0,843.0 464.5,843.1 465.1,841.8 465.6,842.9 466.1,842.0 466.6,841.8 467.2,841.3 467.7,843.6 468.2,842.2 468.7,842.1 469.3,841.6 469.8,844.8 470.3,843.7 470.8,842.8 471.4,842.3 471.9,841.4 472.4,843.5 472.9,843.5 473.5,841.7 474.0,844.6 474.5,844.2 475.0,842.4 475.6,842.9 476.1,843.1 476.6,843.8 477.1,843.5 477.7,841.9 478.2,845.4 478.7,844.2 479.2,845.3 479.8,845.3 480.3,843.8 480.8,844.4 481.4,844.9 481.9,845.0 482.4,844.1 482.9,843.6 483.5,844.4 484.0,843.5 484.5,843.9 485.0,842.3 485.6,844.7 486.1,843.5 486.6,844.1 487.1,844.7 487.7,845.1 488.2,846.9 488.7,845.1 489.2,843.4 489.8,845.1 490.3,844.4 490.8,845.5 491.3,844.4 491.9,844.4 492.4,844.6 492.9,844.5 493.4,843.3 494.0,844.6 494.5,845.3 495.0,846.7 495.5,845.1 496.1,845.0 496.6,846.1 497.1,846.1 497.6,847.3 498.2,846.2 498.7,845.5 499.2,847.1 499.8,847.3 500.3,845.1 500.8,845.8 501.3,843.8 501.9,845.3 502.4,844.8 502.9,845.5 503.4,845.3 504.0,845.6 504.5,845.7 505.0,846.4 505.5,846.1 506.1,845.3 506.6,844.5 507.1,847.3 507.6,847.5 508.2,845.5 508.7,846.6 509.2,844.4 509.7,844.4 510.3,845.8 510.8,847.7 511.3,845.0 511.8,845.3 512.4,848.0 512.9,844.2 513.4,847.0 513.9,846.9 514.5,846.1 515.0,846.6 515.5,849.3 516.0,845.2 516.6,846.1 517.1,846.3 517.6,845.8 518.2,845.1 518.7,848.4 519.2,846.9 519.7,844.8 520.3,846.0 520.8,847.2 521.3,847.2 521.8,845.2 522.4,846.7 522.9,847.2 523.4,847.3 523.9,847.3 524.5,844.9 525.0,849.0 525.5,847.2 526.0,849.0 526.6,850.1 527.1,846.8 527.6,845.6 528.1,848.0 528.7,846.8 529.2,846.5 529.7,845.9 530.2,848.8 530.8,846.5 531.3,845.4 531.8,846.5 532.3,845.7 532.9,847.1 533.4,846.4 533.9,845.7 534.4,847.5 535.0,846.1 535.5,847.5 536.0,848.1 536.6,846.3 537.1,845.9 537.6,846.8 538.1,847.5 538.7,846.4 539.2,846.5 539.7,846.3 540.2,846.6 540.8,846.8 541.3,845.3 541.8,845.4 542.3,845.9 542.9,845.0 543.4,845.4 543.9,844.8 544.4,842.8 545.0,840.3 545.5,838.0 546.0,838.3 546.5,834.7 547.1,828.6 547.6,823.0 548.1,818.7 548.6,810.8 549.2,801.9 549.7,794.5 550.2,783.8 550.7,780.2 551.3,776.4 551.8,770.1 552.3,769.9 552.8,773.9 553.4,779.6 553.9,784.4 554.4,791.9 555.0,800.8 555.5,806.7 556.0,813.3 556.5,823.5 557.1,831.9 557.6,839.8 558.1,839.6 558.6,837.3 559.2,839.0 559.7,834.5 560.2,834.8 560.7,834.3 561.3,833.7 561.8,832.5 562.3,832.7 562.8,831.8 563.4,830.6 563.9,832.7 564.4,833.6 564.9,834.7 565.5,836.0 566.0,835.9 566.5,838.7 567.0,839.7 567.6,836.2 568.1,839.3 568.6,839.1 569.1,837.6 569.7,841.3 570.2,840.4 570.7,840.7 571.2,840.2 571.8,841.9 572.3,841.6 572.8,840.0 573.3,839.8 573.9,838.3 574.4,837.8 574.9,836.1 575.5,836.2 576.0,834.4 576.5,834.4 577.0,833.7 577.6,831.8 578.1,831.3 578.6,831.5 579.1,824.8 579.7,825.4 580.2,822.7 580.7,820.7 581.2,817.7 581.8,817.6 582.3,816.3 582.8,815.9 583.3,817.9 583.9,820.3 584.4,821.6 584.9,828.4 585.4,828.9 586.0,830.0 586.5,833.0 587.0,833.5 587.5,833.1 588.1,837.3 588.6,834.9 589.1,836.8 589.6,837.5 590.2,839.1 590.7,839.2 591.2,838.3 591.7,837.4 592.3,838.0 592.8,839.8 593.3,840.7 593.9,839.5 594.4,838.3 594.9,840.3 595.4,838.8 596.0,838.9 596.5,839.2 597.0,840.3 597.5,840.1 598.1,841.0 598.6,841.4 599.1,840.7 599.6,837.7 600.2,838.5 600.7,840.7 601.2,840.5 601.7,843.1 602.3,840.8 602.8,840.7 603.3,842.0 603.8,842.3 604.4,840.9 604.9,841.8 605.4,840.1 605.9,840.4 606.5,842.9 607.0,840.1 607.5,842.8 608.0,842.6 608.6,842.8 609.1,843.1 609.6,842.8 610.1,839.9 610.7,841.3 611.2,841.8 611.7,843.6 612.3,841.4 612.8,842.0 613.3,842.5 613.8,844.5 614.4,841.6 614.9,841.9 615.4,844.2 615.9,841.4 616.5,844.2 617.0,843.5 617.5,842.5 618.0,843.9 618.6,843.4 619.1,844.9 619.6,845.3 620.1,846.7 620.7,845.2 621.2,845.5 621.7,844.9 622.2,845.6 622.8,847.0 623.3,843.8 623.8,846.8 624.3,845.6 624.9,846.3 625.4,846.7 625.9,847.3 626.4,846.7 627.0,846.0 627.5,846.8 628.0,846.5 628.5,846.3 629.1,846.7 629.6,847.4 630.1,846.5 630.7,846.4 631.2,844.8 631.7,846.0 632.2,843.9 632.8,846.7 633.3,844.7 633.8,847.0 634.3,848.7 634.9,844.8 635.4,846.6 635.9,845.4 636.4,844.1 637.0,843.6 637.5,845.0 638.0,845.7 638.5,844.4 639.1,842.1 639.6,842.4 640.1,843.1 640.6,844.6 641.2,843.2 641.7,843.1 642.2,843.8 642.7,842.1 643.3,842.0 643.8,841.7 644.3,839.7 644.8,841.9 645.4,841.6 645.9,841.9 646.4,839.1 646.9,839.1 647.5,840.5 648.0,839.3 648.5,839.8 649.1,836.2 649.6,834.8 650.1,829.9 650.6,825.7 651.2,818.1 651.7,804.9 652.2,786.4 652.7,767.0 653.3,743.5 653.8,725.5 654.3,706.1 654.8,686.3 655.4,670.9 655.9,660.7 656.4,651.3 656.9,643.7 657.5,643.4 658.0,658.2 658.5,676.0 659.0,696.3 659.6,713.5 660.1,738.9 660.6,756.5 661.1,773.0 661.7,790.2 662.2,799.5 662.7,808.5 663.2,813.2 663.8,819.0 664.3,820.9 664.8,822.8 665.3,826.4 665.9,827.9 666.4,830.8 666.9,832.7 667.5,831.6 668.0,831.9 668.5,831.7 669.0,829.1 669.6,830.3 670.1,828.9 670.6,827.6 671.1,825.0 671.7,822.4 672.2,822.3 672.7,819.8 673.2,816.8 673.8,811.6 674.3,806.2 674.8,796.8 675.3,787.0 675.9,773.5 676.4,762.4 676.9,750.8 677.4,739.7 678.0,723.9 678.5,710.0 679.0,702.2 679.5,688.5 680.1,678.0 680.6,668.0 681.1,660.7 681.6,660.9 682.2,665.9 682.7,677.1 683.2,692.6 683.7,706.8 684.3,725.8 684.8,743.2 685.3,759.0 685.8,773.3 686.4,786.8 686.9,799.1 687.4,806.5 688.0,815.1 688.5,822.5 689.0,829.9 689.5,831.1 690.1,827.8 690.6,831.2 691.1,832.0 691.6,833.3 692.2,835.1 692.7,834.6 693.2,831.5 693.7,834.5 694.3,834.3 694.8,834.6 695.3,835.6 695.8,832.9 696.4,835.2 696.9,832.1 697.4,833.8 697.9,834.1 698.5,836.0 699.0,832.6 699.5,831.3 700.0,833.6 700.6,831.8 701.1,833.8 701.6,830.9 702.1,830.2 702.7,832.0 703.2,830.3 703.7,830.9 704.2,827.8 704.8,830.8 705.3,828.0 705.8,829.3 706.4,827.1 706.9,826.3 707.4,827.5 707.9,827.8 708.5,829.1 709.0,827.6 709.5,827.8 710.0,827.6 710.6,830.1 711.1,825.5 711.6,827.6 712.1,825.8 712.7,826.1 713.2,824.9 713.7,826.5 714.2,823.5 714.8,823.1 715.3,824.0 715.8,822.6 716.3,824.2 716.9,824.1 717.4,821.9 717.9,823.3 718.4,821.3 719.0,821.7 719.5,821.5 720.0,823.3 720.5,821.0 721.1,819.9 721.6,819.7 722.1,822.0 722.6,818.7 723.2,820.0 723.7,820.0 724.2,817.6 724.8,819.7 725.3,821.2 725.8,820.2 726.3,818.7 726.9,820.1 727.4,817.6 727.9,814.8 728.4,805.9 729.0,799.3 729.5,789.9 730.0,774.0 730.5,760.5 731.1,751.3 731.6,742.5 732.1,735.5 732.6,734.6 733.2,736.7 733.7,744.1 734.2,753.6 734.7,764.7 735.3,779.5 735.8,792.0 736.3,804.5 736.8,815.2 737.4,821.3 737.9,821.4 738.4,821.9 738.9,826.0 739.5,826.9 740.0,826.8 740.5,825.8 741.0,829.0 741.6,829.1 742.1,828.1 742.6,828.2 743.2,826.5 743.7,829.8 744.2,827.6 744.7,830.5 745.3,831.0 745.8,830.9 746.3,833.0 746.8,831.5 747.4,833.0 747.9,833.8 748.4,833.7 748.9,833.5 749.5,835.9 750.0,835.5 750.5,835.4 751.0,836.0 751.6,836.8 752.1,839.7 752.6,837.8 753.1,837.9 753.7,837.5 754.2,837.9 754.7,837.6 755.2,840.4 755.8,840.7 756.3,840.0 756.8,840.0 757.3,841.7 757.9,842.0 758.4,841.5 758.9,843.8 759.4,844.1 760.0,844.3 760.5,845.7 761.0,844.5 761.6,847.1 762.1,844.9 762.6,847.0 763.1,847.5 763.7,846.8 764.2,847.8 764.7,846.3 765.2,846.4 765.8,848.2 766.3,847.9 766.8,849.6 767.3,849.3 767.9,850.3 768.4,850.2 768.9,850.4 769.4,850.5 770.0,850.3 770.5,850.4 771.0,853.4 771.5,849.5 772.1,851.4 772.6,852.9 773.1,852.5 773.6,853.8 774.2,853.0 774.7,851.2 775.2,852.4 775.7,851.3 776.3,854.1 776.8,854.8 777.3,852.9 777.8,854.1 778.4,853.2 778.9,852.2 779.4,853.5 779.9,852.3 780.5,853.6 781.0,854.6 781.5,855.2 782.1,855.9 782.6,854.2 783.1,854.9 783.6,855.2 784.2,855.3 784.7,851.6 785.2,853.9 785.7,855.6 786.3,853.4 786.8,854.9 787.3,855.5 787.8,852.4 788.4,854.1 788.9,854.5 789.4,854.1 789.9,852.3 790.5,854.2 791.0,853.1 791.5,854.5 792.0,853.9 792.6,852.7 793.1,853.4 793.6,852.3 794.1,852.1 794.7,851.1 795.2,852.4 795.7,853.5 796.2,852.6 796.8,852.4 797.3,851.7 797.8,851.8 798.3,853.1 798.9,850.7 799.4,854.8 799.9,852.8 800.5,855.7 801.0,855.1 801.5,853.9 802.0,855.8 802.6,856.0 803.1,856.9 803.6,857.9 804.1,857.1 804.7,857.6 805.2,858.3 805.7,857.7 806.2,859.2 806.8,859.9 807.3,860.0 807.8,859.9 808.3,859.2 808.9,860.5 809.4,857.3 809.9,859.1 810.4,859.2 811.0,860.5 811.5,860.2 812.0,860.3 812.5,859.4 813.1,860.3 813.6,858.1 814.1,859.2 814.6,856.8 815.2,860.9 815.7,860.7 816.2,858.3 816.7,857.9 817.3,856.5 817.8,857.1 818.3,858.8 818.9,858.5 819.4,857.0 819.9,858.0 820.4,857.8 821.0,859.0 821.5,859.3 822.0,858.2 822.5,858.6 823.1,858.4 823.6,856.2 824.1,858.8 824.6,858.8 825.2,860.0 825.7,857.5 826.2,860.8 826.7,859.7 827.3,861.2 827.8,862.8 828.3,860.3 828.8,861.0 829.4,864.0 829.9,862.1 830.4,862.7 830.9,864.8 831.5,864.2 832.0,865.4 832.5,865.0 833.0,864.8 833.6,866.1 834.1,867.6 834.6,865.2 835.1,867.0 835.7,866.8 836.2,865.8 836.7,866.3 837.3,864.9 837.8,865.4 838.3,866.5 838.8,866.2 839.4,867.8 839.9,865.1 840.4,866.3 840.9,866.0 841.5,866.7 842.0,868.2 842.5,865.7 843.0,868.1 843.6,866.6 844.1,866.9 844.6,868.5 845.1,867.1 845.7,868.3 846.2,867.7 846.7,867.5 847.2,867.4 847.8,865.9 848.3,867.1 848.8,868.1 849.3,868.2 849.9,866.4 850.4,869.2 850.9,868.8 851.4,866.7 852.0,867.1 852.5,868.8 853.0,866.3 853.5,867.5 854.1,868.3 854.6,868.2 855.1,868.3 855.7,868.8 856.2,867.5 856.7,867.8 857.2,870.6 857.8,866.8 858.3,867.8 858.8,868.4 859.3,867.6 859.9,869.6 860.4,868.3 860.9,869.0 861.4,865.2 862.0,869.4 862.5,869.3 863.0,867.1 863.5,869.3 864.1,868.1 864.6,868.7 865.1,869.6 865.6,867.6 866.2,866.3 866.7,867.3 867.2,865.8 867.7,866.2 868.3,866.1 868.8,866.0 869.3,867.9 869.8,867.4 870.4,865.4 870.9,867.5 871.4,864.2 871.9,865.2 872.5,865.6 873.0,866.9 873.5,866.2 874.1,865.7 874.6,866.5 875.1,865.7 875.6,866.2 876.2,863.6 876.7,862.4 877.2,863.6 877.7,864.8 878.3,864.0 878.8,864.5 879.3,864.0 879.8,863.6 880.4,863.6 880.9,861.6 881.4,863.2 881.9,860.5 882.5,861.0 883.0,859.1 883.5,860.6 884.0,857.7 884.6,860.3 885.1,856.5 885.6,857.5 886.1,856.2 886.7,854.3 887.2,855.2 887.7,851.6 888.2,851.4 888.8,845.9 889.3,842.9 889.8,837.9 890.3,835.9 890.9,828.8 891.4,817.8 891.9,804.9 892.4,789.7 893.0,773.4 893.5,743.9 894.0,710.4 894.6,681.4 895.1,644.6 895.6,614.9 896.1,584.7 896.7,555.8 897.2,525.2 897.7,502.3 898.2,493.2 898.8,502.6 899.3,518.3 899.8,541.7 900.3,566.3 900.9,591.1 901.4,622.4 901.9,654.6 902.4,679.7 903.0,702.1 903.5,722.0 904.0,740.7 904.5,756.8 905.1,771.5 905.6,782.1 906.1,793.4 906.6,802.2 907.2,809.6 907.7,815.8 908.2,822.6 908.7,825.9 909.3,833.6 909.8,835.3 910.3,838.0 910.8,843.8 911.4,844.2 911.9,847.9 912.4,849.7 913.0,852.5 913.5,853.8 914.0,856.6 914.5,859.2 915.1,857.6 915.6,857.7 916.1,862.6 916.6,862.2 917.2,863.8 917.7,863.3 918.2,866.1 918.7,867.1 919.3,864.4 919.8,867.1 920.3,866.2 920.8,865.6 921.4,867.4 921.9,868.7 922.4,866.7 922.9,867.0 923.5,869.8 924.0,868.5 924.5,868.8 925.0,867.1 925.6,867.5 926.1,868.3 926.6,868.2 927.1,868.0 927.7,869.5 928.2,867.7 928.7,865.6 929.2,866.2 929.8,866.8 930.3,868.1 930.8,865.6 931.4,865.6 931.9,865.7 932.4,864.7 932.9,864.2 933.5,864.5 934.0,865.5 934.5,864.5 935.0,863.3 935.6,863.6 936.1,861.3 936.6,863.4 937.1,862.7 937.7,861.7 938.2,859.1 938.7,862.6 939.2,856.3 939.8,857.6 940.3,856.7 940.8,857.3 941.3,853.6 941.9,854.0 942.4,852.0 942.9,850.1 943.4,849.4 944.0,848.0 944.5,844.7 945.0,841.6 945.5,836.9 946.1,838.2 946.6,832.6 947.1,826.4 947.6,823.3 948.2,818.7 948.7,810.2 949.2,801.6 949.8,797.4 950.3,786.6 950.8,774.1 951.3,759.6 951.9,739.1 952.4,724.2 952.9,707.9 953.4,695.4 954.0,674.9 954.5,657.2 955.0,640.6 955.5,629.8 956.1,625.7 956.6,631.9 957.1,647.4 957.6,671.2 958.2,691.3 958.7,709.2 959.2,727.2 959.7,743.9 960.3,759.7 960.8,774.6 961.3,791.0 961.8,801.4 962.4,814.3 962.9,822.3 963.4,830.3 963.9,841.4 964.5,849.6 965.0,853.2 965.5,856.3 966.0,857.6 966.6,860.6 967.1,860.1 967.6,860.8 968.2,861.2 968.7,861.0 969.2,865.2 969.7,865.7 970.3,864.0 970.8,866.3 971.3,866.6 971.8,866.3 972.4,866.8 972.9,868.3 973.4,866.4 973.9,867.4 974.5,868.1 975.0,868.3 975.5,868.2 976.0,868.7 976.6,869.1 977.1,867.6 977.6,868.7 978.1,868.1 978.7,870.4 979.2,867.2 979.7,868.6 980.2,869.6 980.8,868.6 981.3,868.5 981.8,868.3 982.3,869.3 982.9,867.7 983.4,868.9 983.9,868.9 984.4,867.4 985.0,869.4 985.5,868.6 986.0,869.5 986.6,870.1 987.1,869.6 987.6,867.9 988.1,869.6 988.7,867.5 989.2,868.4 989.7,871.2 990.2,869.4 990.8,871.2 991.3,869.3 991.8,869.5 992.3,868.3 992.9,870.7 993.4,869.5 993.9,870.6 994.4,870.5 995.0,870.8 995.5,870.7 996.0,870.5 996.5,870.8 997.1,870.2 997.6,868.8 998.1,871.8 998.6,873.7 999.2,872.7 999.7,874.2 1000.2,872.1 1000.7,870.5 1001.3,870.5 1001.8,872.4 1002.3,872.0 1002.8,871.4 1003.4,872.4 1003.9,870.6 1004.4,872.2 1004.9,871.3 1005.5,871.8 1006.0,872.9 1006.5,871.4 1007.1,873.1 1007.6,873.1 1008.1,870.8 1008.6,874.2 1009.2,870.2 1009.7,871.5 1010.2,872.4 1010.7,869.1 1011.3,872.8 1011.8,872.9 1012.3,871.5 1012.8,871.9 1013.4,871.9 1013.9,871.4 1014.4,872.7 1014.9,870.8 1015.5,870.8 1016.0,870.8 1016.5,870.7 1017.0,870.4 1017.6,866.9 1018.1,865.6 1018.6,867.2 1019.1,866.9 1019.7,865.4 1020.2,866.8 1020.7,867.2 1021.2,867.2 1021.8,869.2 1022.3,866.9 1022.8,868.9 1023.3,871.9 1023.9,871.3 1024.4,870.1 1024.9,872.1 1025.5,873.7 1026.0,874.8 1026.5,873.2 1027.0,873.8 1027.6,871.2 1028.1,872.2 1028.6,873.8 1029.1,871.4 1029.7,872.3 1030.2,870.3 1030.7,874.0 1031.2,872.1 1031.8,872.9 1032.3,870.5 1032.8,870.7 1033.3,874.1 1033.9,871.7 1034.4,871.4 1034.9,872.5 1035.4,872.4 1036.0,869.6 1036.5,870.6 1037.0,871.6 1037.5,871.5 1038.1,871.8 1038.6,870.8 1039.1,870.9 1039.6,871.4 1040.2,870.2 1040.7,870.0 1041.2,870.2 1041.7,870.7 1042.3,870.3 1042.8,869.8 1043.3,869.8 1043.9,869.7 1044.4,869.8 1044.9,869.5 1045.4,867.2 1046.0,869.2 1046.5,865.7 1047.0,867.5 1047.5,865.4 1048.1,866.0 1048.6,865.7 1049.1,861.0 1049.6,861.4 1050.2,858.0 1050.7,853.6 1051.2,850.3 1051.7,844.8 1052.3,839.9 1052.8,830.5 1053.3,822.8 1053.8,812.5 1054.4,803.5 1054.9,793.6 1055.4,787.2 1055.9,778.3 1056.5,768.1 1057.0,762.3 1057.5,760.3 1058.0,763.8 1058.6,769.7 1059.1,775.5 1059.6,783.0 1060.1,794.5 1060.7,801.5 1061.2,809.1 1061.7,817.2 1062.3,822.8 1062.8,830.8 1063.3,835.8 1063.8,841.3 1064.4,846.7 1064.9,849.5 1065.4,852.2 1065.9,857.6 1066.5,859.4 1067.0,860.1 1067.5,859.8 1068.0,862.3 1068.6,864.7 1069.1,866.3 1069.6,866.2 1070.1,868.2 1070.7,867.9 1071.2,868.8 1071.7,870.5 1072.2,870.1 1072.8,870.8 1073.3,871.9 1073.8,872.4 1074.3,870.7 1074.9,871.3 1075.4,870.3 1075.9,870.5 1076.4,872.4 1077.0,871.6 1077.5,870.2 1078.0,873.0 1078.5,871.6 1079.1,872.3 1079.6,873.2 1080.1,873.3 1080.7,873.0 1081.2,871.0 1081.7,874.0 1082.2,872.9 1082.8,872.2 1083.3,871.5 1083.8,875.6 1084.3,874.6 1084.9,874.8 1085.4,875.5 1085.9,875.0 1086.4,873.7 1087.0,876.3 1087.5,876.9 1088.0,876.5 1088.5,877.8 1089.1,878.4 1089.6,875.6 1090.1,876.1 1090.6,877.6 1091.2,876.9 1091.7,877.0 1092.2,877.8 1092.7,877.6 1093.3,876.3 1093.8,876.9 1094.3,876.0 1094.8,876.5 1095.4,875.5 1095.9,874.6 1096.4,876.2 1096.9,876.1 1097.5,877.7 1098.0,878.5 1098.5,876.8 1099.0,877.3 1099.6,876.1 1100.1,875.7 1100.6,876.4 1101.2,876.4 1101.7,877.1 1102.2,876.9 1102.7,878.6 1103.3,876.5 1103.8,874.9 1104.3,876.9 1104.8,876.0 1105.4,877.0 1105.9,878.0 1106.4,876.1 1106.9,876.7 1107.5,877.3 1108.0,875.7 1108.5,877.0 1109.0,877.4 1109.6,877.7 1110.1,878.0 1110.6,877.4 1111.1,877.1 1111.7,874.9 1112.2,873.0 1112.7,874.2 1113.2,876.1 1113.8,873.8 1114.3,870.3 1114.8,871.4 1115.3,871.3 1115.9,868.0 1116.4,869.9 1116.9,867.0 1117.4,868.2 1118.0,866.0 1118.5,868.2 1119.0,862.3 1119.6,863.3 1120.1,860.7 1120.6,863.4 1121.1,862.5 1121.7,864.2 1122.2,864.5 1122.7,864.7 1123.2,867.0 1123.8,867.9 1124.3,869.6 1124.8,871.9 1125.3,873.9 1125.9,874.6 1126.4,875.2 1126.9,874.9 1127.4,876.9 1128.0,876.2 1128.5,878.0 1129.0,879.1 1129.5,878.2 1130.1,878.0 1130.6,878.0 1131.1,879.1 1131.6,878.1 1132.2,876.8 1132.7,877.9 1133.2,877.1 1133.7,879.8 1134.3,878.1 1134.8,876.4 1135.3,878.2 1135.8,878.6 1136.4,878.1 1136.9,877.2 1137.4,877.6 1138.0,877.6 1138.5,878.3 1139.0,877.5 1139.5,879.5 1140.1,876.6 1140.6,878.4 1141.1,876.7 1141.6,874.7 1142.2,875.1 1142.7,874.3 1143.2,874.4 1143.7,877.5 1144.3,875.4 1144.8,876.7 1145.3,875.0 1145.8,875.9 1146.4,874.8 1146.9,876.8 1147.4,875.6 1147.9,875.4 1148.5,875.8 1149.0,878.5 1149.5,876.8 1150.0,877.4 1150.6,875.3 1151.1,876.2 1151.6,877.5 1152.1,875.4 1152.7,879.2 1153.2,878.3 1153.7,878.3 1154.2,878.4 1154.8,878.6 1155.3,878.6 1155.8,881.0 1156.4,880.5 1156.9,881.3 1157.4,879.9 1157.9,879.5 1158.5,882.1 1159.0,879.5 1159.5,880.3 1160.0,881.8 1160.6,882.3 1161.1,879.7 1161.6,880.8 1162.1,881.0 1162.7,880.7 1163.2,879.8 1163.7,881.3 1164.2,879.8 1164.8,879.9 1165.3,877.4 1165.8,879.4 1166.3,877.1 1166.9,879.7 1167.4,879.1 1167.9,877.6 1168.4,878.0 1169.0,877.5 1169.5,876.8 1170.0,876.9 1170.5,875.6 1171.1,874.2 1171.6,872.6 1172.1,874.0 1172.6,871.0 1173.2,869.4 1173.7,869.0 1174.2,866.7 1174.8,865.8 1175.3,866.4 1175.8,866.6 1176.3,866.5 1176.9,864.8 1177.4,867.5 1177.9,868.6 1178.4,870.5 1179.0,870.4 1179.5,871.5 1180.0,873.6 1180.5,873.7 1181.1,874.0 1181.6,875.4 1182.1,876.8 1182.6,876.2 1183.2,877.5 1183.7,875.4 1184.2,877.4 1184.7,876.7 1185.3,875.8 1185.8,876.2 1186.3,875.3 1186.8,875.4 1187.4,874.1 1187.9,875.4 1188.4,872.7 1188.9,870.5 1189.5,870.9 1190.0,870.6 1190.5,869.0 1191.0,869.7 1191.6,867.3 1192.1,867.2 1192.6,870.0 1193.2,868.6 1193.7,869.7 1194.2,870.2 1194.7,870.8 1195.3,870.6 1195.8,870.5 1196.3,871.8 1196.8,869.9 1197.4,870.3 1197.9,870.6 1198.4,869.1 1198.9,867.6 1199.5,869.6 1200.0,870.2 1200.5,869.5 1201.0,867.9 1201.6,871.2 1202.1,873.7 1202.6,871.1 1203.1,871.0 1203.7,874.9 1204.2,876.4 1204.7,878.1 1205.2,878.9 1205.8,878.5 1206.3,879.1 1206.8,878.8 1207.3,878.4 1207.9,878.1 1208.4,877.7 1208.9,878.4 1209.4,877.8 1210.0,876.6 1210.5,877.9 1211.0,875.5 1211.5,875.4 1212.1,875.1 1212.6,872.2 1213.1,873.2 1213.7,874.0 1214.2,873.5 1214.7,871.2 1215.2,871.8 1215.8,872.1 1216.3,873.9 1216.8,875.1 1217.3,874.6 1217.9,877.8 1218.4,878.6 1218.9,879.3 1219.4,879.3 1220.0,880.1 1220.5,878.5 1221.0,880.8 1221.5,880.9 1222.1,880.7 1222.6,879.6 1223.1,882.3 1223.6,882.3 1224.2,879.1 1224.7,881.7 1225.2,881.5 1225.7,878.6 1226.3,882.0 1226.8,882.2 1227.3,882.3 1227.8,881.7 1228.4,880.9 1228.9,881.1 1229.4,882.2 1229.9,883.0 1230.5,881.2 1231.0,881.5 1231.5,882.6 1232.1,879.6 1232.6,882.4 1233.1,881.7 1233.6,879.6 1234.2,882.9 1234.7,881.1 1235.2,883.0 1235.7,883.6 1236.3,880.9 1236.8,880.9 1237.3,882.3 1237.8,880.4 1238.4,883.1 1238.9,882.6 1239.4,883.5 1239.9,880.5 1240.5,882.7 1241.0,883.0 1241.5,880.6 1242.0,883.6 1242.6,881.2 1243.1,882.9 1243.6,881.3 1244.1,883.6 1244.7,884.6 1245.2,882.8 1245.7,882.8 1246.2,884.2 1246.8,882.4 1247.3,882.9 1247.8,883.8 1248.3,883.4 1248.9,884.6 1249.4,884.2 1249.9,885.0 1250.5,882.9 1251.0,884.2 1251.5,882.1 1252.0,883.9 1252.6,884.8 1253.1,885.5 1253.6,881.6 1254.1,882.7 1254.7,883.6 1255.2,881.9 1255.7,883.4 1256.2,883.3 1256.8,882.2 1257.3,882.1 1257.8,881.6 1258.3,882.8 1258.9,883.8 1259.4,882.7 1259.9,885.2 1260.4,880.6 1261.0,881.4 1261.5,882.7 1262.0,880.6 1262.5,882.1 1263.1,882.4 1263.6,881.6 1264.1,881.0 1264.6,882.1 1265.2,881.4 1265.7,881.5 1266.2,881.2 1266.7,879.7 1267.3,878.7 1267.8,878.6 1268.3,877.9 1268.9,875.8 1269.4,875.0 1269.9,872.0 1270.4,870.2 1271.0,866.6 1271.5,862.9 1272.0,861.6 1272.5,856.9 1273.1,849.9 1273.6,844.2 1274.1,841.9 1274.6,830.5 1275.2,830.6 1275.7,824.6 1276.2,820.4 1276.7,817.5 1277.3,816.7 1277.8,821.4 1278.3,821.3 1278.8,825.2 1279.4,830.3 1279.9,833.6 1280.4,837.4 1280.9,842.3 1281.5,846.5 1282.0,854.1 1282.5,856.3 1283.0,858.3 1283.6,864.8 1284.1,867.2 1284.6,869.3 1285.1,870.6 1285.7,874.5 1286.2,873.7 1286.7,873.7 1287.3,876.9 1287.8,877.9 1288.3,877.8 1288.8,879.6 1289.4,878.4 1289.9,877.4 1290.4,877.6 1290.9,879.0 1291.5,878.1 1292.0,878.1 1292.5,876.4 1293.0,878.1 1293.6,877.2 1294.1,878.9 1294.6,878.9 1295.1,879.6 1295.7,880.9 1296.2,878.8 1296.7,880.7 1297.2,877.9 1297.8,879.4 1298.3,880.3 1298.8,881.4 1299.3,878.1 1299.9,879.1 1300.4,879.5 1300.9,879.3 1301.4,878.4 1302.0,877.6 1302.5,878.1 1303.0,879.3 1303.5,877.9 1304.1,881.4 1304.6,880.7 1305.1,877.3 1305.6,878.8 1306.2,880.8 1306.7,880.9 1307.2,880.5 1307.8,877.7 1308.3,878.8 1308.8,880.6 1309.3,879.2 1309.9,878.5 1310.4,879.5 1310.9,880.0 1311.4,879.0 1312.0,879.0 1312.5,879.9 1313.0,878.0 1313.5,877.5 1314.1,879.2 1314.6,877.0 1315.1,878.7 1315.6,877.3 1316.2,878.9 1316.7,876.5 1317.2,878.9 1317.7,877.9 1318.3,877.1 1318.8,876.3 1319.3,876.9 1319.8,875.9 1320.4,875.5 1320.9,877.7 1321.4,876.7 1321.9,876.7 1322.5,873.1 1323.0,871.6 1323.5,871.0 1324.0,872.4 1324.6,871.4 1325.1,867.3 1325.6,869.3 1326.2,866.5 1326.7,864.4 1327.2,863.9 1327.7,862.7 1328.3,859.7 1328.8,857.6 1329.3,855.0 1329.8,852.9 1330.4,853.2 1330.9,851.6 1331.4,854.4 1331.9,853.3 1332.5,856.5 1333.0,854.3 1333.5,858.7 1334.0,857.5 1334.6,858.8 1335.1,861.5 1335.6,864.1 1336.1,865.7 1336.7,868.5 1337.2,874.2 1337.7,875.2 1338.2,875.1 1338.8,876.7 1339.3,879.3 1339.8,878.2 1340.3,879.1 1340.9,880.7 1341.4,878.1 1341.9,879.4 1342.4,878.4 1343.0,879.3 1343.5,880.1 1344.0,878.2 1344.6,880.0 1345.1,880.1 1345.6,881.3 1346.1,879.6 1346.7,879.0 1347.2,881.0 1347.7,879.5 1348.2,881.1 1348.8,881.7 1349.3,880.2 1349.8,881.2 1350.3,880.4 1350.9,878.5 1351.4,880.2 1351.9,879.6 1352.4,882.1 1353.0,881.0 1353.5,882.2 1354.0,882.4 1354.5,883.8 1355.1,882.4 1355.6,882.5 1356.1,883.6 1356.6,884.9 1357.2,883.2 1357.7,883.8 1358.2,883.3 1358.7,882.8 1359.3,882.0 1359.8,883.7 1360.3,883.6 1360.8,883.7 1361.4,886.3 1361.9,883.8 1362.4,884.7 1363.0,884.0 1363.5,885.8 1364.0,884.2 1364.5,886.6 1365.1,884.4 1365.6,885.6 1366.1,885.9 1366.6,884.6 1367.2,885.8 1367.7,885.0 1368.2,884.1 1368.7,884.3 1369.3,885.4 1369.8,887.0 1370.3,884.6 1370.8,885.7 1371.4,884.3 1371.9,885.5 1372.4,883.8 1372.9,884.4 1373.5,885.3 1374.0,884.5 1374.5,885.1 1375.0,886.5 1375.6,885.3 1376.1,884.6 1376.6,884.1 1377.1,884.9 1377.7,886.8 1378.2,885.4 1378.7,885.4 1379.2,886.4 1379.8,886.5 1380.3,886.7 1380.8,885.2 1381.4,884.6 1381.9,883.8 1382.4,884.9 1382.9,885.3 1383.5,886.5 1384.0,886.1 1384.5,885.2 1385.0,886.8 1385.6,884.4 1386.1,884.7 1386.6,884.6 1387.1,884.7 1387.7,885.7 1388.2,885.0 1388.7,885.1 1389.2,887.5 1389.8,884.4 1390.3,884.9 1390.8,885.8 1391.3,886.6 1391.9,886.7 1392.4,885.9 1392.9,885.8 1393.4,885.9 1394.0,887.1 1394.5,885.3 1395.0,883.7 1395.5,886.5 1396.1,885.1 1396.6,886.3 1397.1,887.9 1397.6,886.5 1398.2,888.5 1398.7,884.7 1399.2,886.7 1399.8,886.9 1400.3,887.4 1400.8,885.7 1401.3,886.7 1401.9,886.7 1402.4,886.7 1402.9,885.1 1403.4,884.7 1404.0,887.2 1404.5,887.0 1405.0,886.7 1405.5,887.4 1406.1,887.9 1406.6,885.4 1407.1,887.6 1407.6,888.3 1408.2,887.8 1408.7,887.4 1409.2,887.5 1409.7,885.1 1410.3,886.1 1410.8,887.8 1411.3,888.3 1411.8,887.1 1412.4,886.1 1412.9,886.4 1413.4,887.5 1413.9,888.7 1414.5,887.3 1415.0,885.8 1415.5,887.0 1416.0,886.7 1416.6,888.8 1417.1,886.7 1417.6,886.0 1418.1,885.8 1418.7,884.4 1419.2,884.5 1419.7,885.1 1420.3,884.6 1420.8,885.6 1421.3,885.3 1421.8,886.1 1422.4,886.6 1422.9,885.0 1423.4,884.5 1423.9,882.5 1424.5,884.8 1425.0,884.9 1425.5,883.2 1426.0,883.5 1426.6,882.9 1427.1,884.7 1427.6,884.0 1428.1,884.5 1428.7,881.6 1429.2,885.6 1429.7,881.3 1430.2,880.7 1430.8,881.6 1431.3,880.3 1431.8,882.3 1432.3,879.1 1432.9,878.1 1433.4,879.1 1433.9,878.5 1434.4,875.2 1435.0,874.5 1435.5,872.6 1436.0,869.9 1436.5,868.5 1437.1,864.3 1437.6,860.3 1438.1,857.1 1438.7,852.5 1439.2,849.7 1439.7,844.9 1440.2,840.8 1440.8,841.0 1441.3,836.3 1441.8,839.0 1442.3,840.5 1442.9,842.4 1443.4,847.4 1443.9,851.5 1444.4,855.3 1445.0,857.5 1445.5,863.3 1446.0,867.1 1446.5,871.7 1447.1,872.1 1447.6,876.0 1448.1,877.1 1448.6,879.4 1449.2,878.9 1449.7,880.0 1450.2,880.1 1450.7,880.8 1451.3,881.6 1451.8,884.2 1452.3,882.4 1452.8,881.2 1453.4,884.3 1453.9,883.6 1454.4,884.7 1454.9,884.7 1455.5,883.7 1456.0,883.6 1456.5,883.4 1457.1,884.0 1457.6,883.1 1458.1,884.2 1458.6,885.4 1459.2,883.2 1459.7,883.2 1460.2,883.1 1460.7,884.4 1461.3,884.4 1461.8,885.2 1462.3,884.4 1462.8,883.7 1463.4,884.0 1463.9,882.0 1464.4,884.0 1464.9,883.5 1465.5,885.5 1466.0,884.7 1466.5,882.2 1467.0,882.4 1467.6,883.9 1468.1,880.6 1468.6,881.7 1469.1,883.1 1469.7,883.3 1470.2,882.7 1470.7,883.7 1471.2,882.0 1471.8,882.3 1472.3,881.8 1472.8,880.6 1473.3,881.6 1473.9,880.6 1474.4,881.0 1474.9,877.7 1475.5,880.3 1476.0,879.2 1476.5,878.8 1477.0,879.1 1477.6,878.2 1478.1,879.4 1478.6,879.4 1479.1,878.6 1479.7,878.4 1480.2,877.5 1480.7,876.9 1481.2,875.2 1481.8,876.1 1482.3,877.7 1482.8,877.1 1483.3,875.8 1483.9,876.5 1484.4,877.7 1484.9,876.6 1485.4,878.8 1486.0,876.4 1486.5,878.4 1487.0,878.7 1487.5,878.4 1488.1,878.9 1488.6,879.5 1489.1,876.8 1489.6,880.1 1490.2,881.2 1490.7,880.6 1491.2,881.6 1491.7,879.3 1492.3,880.6 1492.8,881.1 1493.3,880.6 1493.9,882.3 1494.4,881.6 1494.9,880.6 1495.4,882.1 1496.0,882.2 1496.5,880.9 1497.0,882.1 1497.5,881.9 1498.1,882.0 1498.6,880.3 1499.1,883.1 1499.6,882.5 1500.2,881.8 1500.7,882.3 1501.2,882.3 1501.7,881.7 1502.3,881.4 1502.8,882.2 1503.3,881.5 1503.8,881.7 1504.4,881.0 1504.9,882.0 1505.4,883.5 1505.9,882.6 1506.5,882.5 1507.0,882.1 1507.5,882.1 1508.0,880.9 1508.6,884.4 1509.1,881.9 1509.6,881.1 1510.1,883.2 1510.7,883.1 1511.2,882.3 1511.7,881.3 1512.3,881.4 1512.8,884.7 1513.3,882.9 1513.8,882.4 1514.4,885.2 1514.9,882.6 1515.4,882.3 1515.9,884.0 1516.5,883.8 1517.0,885.2 1517.5,881.9 1518.0,884.0 1518.6,881.9 1519.1,884.3 1519.6,883.2 1520.1,883.5 1520.7,883.2 1521.2,885.1 1521.7,886.0 1522.2,884.2 1522.8,884.1 1523.3,883.9 1523.8,885.1 1524.3,883.5 1524.9,888.6 1525.4,884.5 1525.9,886.7 1526.4,885.1 1527.0,883.5 1527.5,883.3 1528.0,884.7 1528.5,884.4 1529.1,885.0 1529.6,884.1 1530.1,888.0 1530.6,887.8 1531.2,883.5 1531.7,886.1 1532.2,886.9 1532.8,885.2 1533.3,885.4 1533.8,886.9 1534.3,886.3 1534.9,884.4 1535.4,887.1 1535.9,885.2 1536.4,887.8 1537.0,884.7 1537.5,883.2 1538.0,885.8 1538.5,887.0 1539.1,886.1 1539.6,885.6 1540.1,884.3 1540.6,886.2 1541.2,882.9 1541.7,885.7 1542.2,883.3 1542.7,883.7 1543.3,882.7 1543.8,882.9 1544.3,885.3 1544.8,882.1 1545.4,883.4 1545.9,882.1 1546.4,883.8 1546.9,880.9 1547.5,882.2 1548.0,882.9 1548.5,884.1 1549.0,879.9 1549.6,879.8 1550.1,880.2 1550.6,881.4 1551.2,878.2 1551.7,879.8 1552.2,877.7 1552.7,876.9 1553.3,875.9 1553.8,877.5 1554.3,878.3 1554.8,876.9 1555.4,874.7 1555.9,876.4 1556.4,878.2 1556.9,878.3 1557.5,877.8 1558.0,879.4 1558.5,876.6 1559.0,876.9 1559.6,881.2 1560.1,879.6 1560.6,878.9 1561.1,878.9 1561.7,876.9 1562.2,881.0 1562.7,878.1 1563.2,878.4 1563.8,880.9 1564.3,883.0 1564.8,881.2 1565.3,882.4 1565.9,881.9 1566.4,883.3 1566.9,881.4 1567.4,886.0 1568.0,883.0 1568.5,885.1 1569.0,882.5 1569.6,887.2 1570.1,886.0 1570.6,888.1 1571.1,885.3 1571.7,887.4 1572.2,886.3 1572.7,886.5 1573.2,888.1 1573.8,885.6 1574.3,887.4 1574.8,888.7 1575.3,888.4 1575.9,887.6 1576.4,886.7 1576.9,885.1 1577.4,887.6 1578.0,885.1 1578.5,887.0 1579.0,885.1 1579.5,885.3 1580.1,885.0 1580.6,885.5 1581.1,884.0 1581.6,884.4 1582.2,883.4 1582.7,884.1 1583.2,883.2 1583.7,882.6 1584.3,880.2 1584.8,880.4 1585.3,878.9 1585.8,878.2 1586.4,876.1 1586.9,873.5 1587.4,873.6 1588.0,869.4 1588.5,867.2 1589.0,861.3 1589.5,861.4 1590.1,859.7 1590.6,856.2 1591.1,856.3 1591.6,853.8 1592.2,854.6 1592.7,853.0 1593.2,850.6 1593.7,851.9 1594.3,850.8 1594.8,853.4 1595.3,855.6 1595.8,857.4 1596.4,857.9 1596.9,859.3 1597.4,861.2 1597.9,861.8 1598.5,864.4 1599.0,867.1 1599.5,867.9 1600.0,870.5 1600.6,870.5 1601.1,872.6 1601.6,875.0 1602.1,878.2 1602.7,878.0 1603.2,879.5 1603.7,878.3 1604.2,880.2 1604.8,877.5 1605.3,880.4 1605.8,877.8 1606.4,881.8 1606.9,881.1 1607.4,881.7 1607.9,879.7 1608.5,876.9 1609.0,874.3 1609.5,872.9 1610.0,872.1 1610.6,869.3 1611.1,866.5 1611.6,864.9 1612.1,863.2 1612.7,862.4 1613.2,861.4 1613.7,860.3 1614.2,860.7 1614.8,859.2 1615.3,863.1 1615.8,862.3 1616.3,864.6 1616.9,864.2 1617.4,864.6 1617.9,866.0 1618.4,867.1 1619.0,867.3 1619.5,869.1 1620.0,873.3 1620.5,873.9 1621.1,874.0 1621.6,876.8 1622.1,876.7 1622.6,880.4 1623.2,878.7 1623.7,881.7 1624.2,881.7 1624.7,882.6 1625.3,882.6 1625.8,884.0 1626.3,884.1 1626.9,884.7 1627.4,886.6 1627.9,889.3 1628.4,886.3 1629.0,887.8 1629.5,886.7 1630.0,885.9 1630.5,888.2 1631.1,887.3 1631.6,887.9 1632.1,886.7 1632.6,886.7 1633.2,885.5 1633.7,886.1 1634.2,888.1 1634.7,883.7 1635.3,886.5 1635.8,887.6 1636.3,886.8 1636.8,886.7 1637.4,885.3 1637.9,886.8 1638.4,886.7 1638.9,885.2 1639.5,887.0 1640.0,884.4 1640.5,882.0 1641.0,884.6 1641.6,884.3 1642.1,883.4 1642.6,883.6 1643.1,883.3 1643.7,881.5 1644.2,884.4 1644.7,882.5 1645.3,884.9 1645.8,881.2 1646.3,881.0 1646.8,878.2 1647.4,880.4 1647.9,877.5 1648.4,878.7 1648.9,878.7 1649.5,878.2 1650.0,876.3 1650.5,876.2 1651.0,878.0 1651.6,878.6 1652.1,879.1 1652.6,877.7 1653.1,877.9 1653.7,880.3 1654.2,878.1 1654.7,879.9 1655.2,879.1 1655.8,878.3 1656.3,879.0 1656.8,881.2 1657.3,881.3 1657.9,881.9 1658.4,881.3 1658.9,881.4 1659.4,882.5 1660.0,882.1 1660.5,880.7 1661.0,882.1 1661.5,884.5 1662.1,881.9 1662.6,883.5 1663.1,882.9 1663.7,883.9 1664.2,882.2 1664.7,881.8 1665.2,883.8 1665.8,882.6 1666.3,883.4 1666.8,883.2 1667.3,884.7 1667.9,884.0 1668.4,883.9 1668.9,882.7 1669.4,882.1 1670.0,883.0 1670.5,884.9 1671.0,884.8 1671.5,884.8 1672.1,883.7 1672.6,883.1 1673.1,885.5 1673.6,884.5 1674.2,885.0 1674.7,883.4 1675.2,883.7 1675.7,885.3 1676.3,885.4 1676.8,883.6 1677.3,885.0 1677.8,883.5 1678.4,886.2 1678.9,885.6 1679.4,887.5 1679.9,886.7 1680.5,884.4 1681.0,885.4 1681.5,884.7 1682.1,885.5 1682.6,886.3 1683.1,885.5 1683.6,885.6 1684.2,884.1 1684.7,886.3 1685.2,885.7 1685.7,886.5 1686.3,887.0 1686.8,886.0 1687.3,886.7 1687.8,885.4 1688.4,887.1 1688.9,886.1 1689.4,885.4 1689.9,885.8 1690.5,884.5 1691.0,885.4 1691.5,885.6 1692.0,886.1 1692.6,885.9 1693.1,885.3 1693.6,885.8 1694.1,883.6 1694.7,886.0 1695.2,886.5 1695.7,886.7 1696.2,886.9 1696.8,885.5 1697.3,885.5 1697.8,885.1 1698.3,885.0 1698.9,885.6 1699.4,886.9 1699.9,883.5 1700.5,884.7 1701.0,885.5 1701.5,883.9 1702.0,885.3 1702.6,883.2 1703.1,884.1 1703.6,882.5 1704.1,884.4 1704.7,883.0 1705.2,884.3 1705.7,883.0 1706.2,882.1 1706.8,882.5 1707.3,882.8 1707.8,882.5 1708.3,882.0 1708.9,881.8 1709.4,882.0 1709.9,882.8 1710.4,881.2 1711.0,882.2 1711.5,880.3 1712.0,882.8 1712.5,882.3 1713.1,881.6 1713.6,881.8 1714.1,880.6 1714.6,882.7 1715.2,882.6 1715.7,881.6 1716.2,883.0 1716.7,884.4 1717.3,884.3 1717.8,884.7 1718.3,884.1 1718.9,885.9 1719.4,885.3 1719.9,886.5 1720.4,888.3 1721.0,884.0 1721.5,885.8 1722.0,886.6 1722.5,885.9 1723.1,888.0 1723.6,886.6 1724.1,888.8 1724.6,887.8 1725.2,887.4 1725.7,886.9 1726.2,887.9 1726.7,887.4 1727.3,888.5 1727.8,887.3 1728.3,887.9 1728.8,887.2 1729.4,887.0 1729.9,884.9 1730.4,886.5 1730.9,886.9 1731.5,885.1 1732.0,884.8 1732.5,885.8 1733.0,886.4 1733.6,884.1 1734.1,886.2 1734.6,886.7 1735.1,885.3 1735.7,885.7 1736.2,885.8 1736.7,884.3 1737.2,885.4 1737.8,884.7 1738.3,882.3 1738.8,883.6 1739.4,883.3 1739.9,880.4 1740.4,881.6 1740.9,879.5 1741.5,877.3 1742.0,875.9 1742.5,873.8 1743.0,872.9 1743.6,869.4 1744.1,867.4 1744.6,864.9 1745.1,865.6 1745.7,864.5 1746.2,865.9 1746.7,868.5 1747.2,870.1 1747.8,870.4 1748.3,872.5 1748.8,874.6 1749.3,875.3 1749.9,878.2 1750.4,880.0 1750.9,880.1 1751.4,880.3 1752.0,882.8 1752.5,885.4 1753.0,885.6 1753.5,885.7 1754.1,885.5 1754.6,883.6 1755.1,884.2 1755.6,884.8 1756.2,883.6 1756.7,884.0 1757.2,881.7 1757.8,881.1 1758.3,884.4 1758.8,882.9 1759.3,882.5 1759.9,883.4 1760.4,884.3 1760.9,885.0 1761.4,879.4 1762.0,882.6 1762.5,883.5 1763.0,880.5 1763.5,881.0 1764.1,883.0 1764.6,885.6 1765.1,884.9 1765.6,886.6 1766.2,884.9 1766.7,886.2 1767.2,887.0 1767.7,886.2 1768.3,886.0 1768.8,886.5 1769.3,882.6 1769.8,887.3 1770.4,885.2 1770.9,886.6 1771.4,888.4 1771.9,888.2 1772.5,885.7 1773.0,888.6 1773.5,889.0 1774.0,888.5 1774.6,889.1 1775.1,889.1 1775.6,886.7 1776.2,888.4 1776.7,888.4 1777.2,887.5 1777.7,888.9 1778.3,888.1 1778.8,889.0 1779.3,888.2 1779.8,890.4 1780.4,891.8 1780.9,888.8 1781.4,889.6 1781.9,889.7 1782.5,890.2 1783.0,889.5 1783.5,887.3 1784.0,890.2 1784.6,889.8 1785.1,888.8 1785.6,889.8 1786.1,889.5 1786.7,890.4 1787.2,889.8 1787.7,889.9 1788.2,890.4 1788.8,890.5 1789.3,890.3 1789.8,891.6 1790.3,890.6 1790.9,889.5 1791.4,892.3 1791.9,890.5 1792.4,892.1 1793.0,889.2 1793.5,891.0 1794.0,892.3 1794.6,891.7 1795.1,890.4 1795.6,889.7 1796.1,889.6 1796.7,890.0 1797.2,889.1 1797.7,889.4 1798.2,889.0 1798.8,889.0 1799.3,890.3 1799.8,888.0 1800.3,890.1 1800.9,890.6 1801.4,888.8 1801.9,888.7 1802.4,889.7 1803.0,889.5 1803.5,890.5 1804.0,887.2 1804.5,889.2 1805.1,890.8 1805.6,889.2 1806.1,891.0 1806.6,891.3 1807.2,888.2 1807.7,890.4 1808.2,889.1 1808.7,888.2 1809.3,887.3 1809.8,886.8 1810.3,885.3 1810.8,885.2 1811.4,885.6 1811.9,885.0 1812.4,882.3 1813.0,882.4 1813.5,881.5 1814.0,877.6 1814.5,880.4 1815.1,877.7 1815.6,877.4 1816.1,879.3 1816.6,880.2 1817.2,877.3 1817.7,877.7 1818.2,877.9 1818.7,878.8 1819.3,879.4 1819.8,879.4 1820.3,879.0 1820.8,883.3 1821.4,881.4 1821.9,881.7 1822.4,884.1 1822.9,883.2 1823.5,885.3 1824.0,885.5 1824.5,886.1 1825.0,884.9 1825.6,886.4 1826.1,884.3 1826.6,884.9 1827.1,886.8 1827.7,886.8 1828.2,888.9 1828.7,887.5 1829.2,886.2 1829.8,888.5 1830.3,888.4 1830.8,889.3 1831.3,888.0 1831.9,888.7 1832.4,889.9 1832.9,890.8 1833.5,890.6 1834.0,891.1 1834.5,888.7 1835.0,890.1 1835.6,890.6 1836.1,891.4 1836.6,890.6 1837.1,890.1 1837.7,890.2 1838.2,890.2 1838.7,888.6 1839.2,890.2 1839.8,891.0 1840.3,890.8 1840.8,887.9 1841.3,889.9 1841.9,888.1 1842.4,890.9 1842.9,890.2 1843.4,890.3 1844.0,888.7 1844.5,887.2 1845.0,888.0 1845.5,888.7 1846.1,887.3 1846.6,887.7 1847.1,890.6 1847.6,887.1 1848.2,888.9 1848.7,885.9 1849.2,887.9 1849.7,888.2 1850.3,887.3 1850.8,887.8 1851.3,888.0 1851.9,884.1 1852.4,885.6 1852.9,885.5 1853.4,885.2 1854.0,886.3 1854.5,884.7 1855.0,885.7 1855.5,885.8 1856.1,884.8 1856.6,885.4 1857.1,884.2 1857.6,885.7 1858.2,885.9 1858.7,885.9 1859.2,885.9 1859.7,887.9 1860.3,887.2 1860.8,890.2 1861.3,889.6 1861.8,889.4 1862.4,888.3 1862.9,890.3 1863.4,889.7 1863.9,890.0 1864.5,888.9 1865.0,890.9 1865.5,890.7 1866.0,890.0 1866.6,889.8 1867.1,890.2 1867.6,889.1 1868.1,890.0 1868.7,892.1 1869.2,889.9 1869.7,893.2 1870.3,889.2 1870.8,891.9 1871.3,891.9 1871.8,892.1 1872.4,891.4 1872.9,889.1 1873.4,892.1 1873.9,892.0 1874.5,890.9 1875.0,888.3 1875.5,892.1 1876.0,889.9 1876.6,890.7 1877.1,892.3 1877.6,892.5 1878.1,891.4 1878.7,890.4 1879.2,892.9 1879.7,892.3 1880.2,890.9 1880.8,890.0 1881.3,891.4 1881.8,889.6 1882.3,893.1 1882.9,891.7 1883.4,890.7 1883.9,891.6 1884.4,889.3 1885.0,891.1 1885.5,890.5 1886.0,889.4 1886.5,890.5 1887.1,891.6 1887.6,889.6 1888.1,891.0 1888.7,889.6 1889.2,891.4 1889.7,889.3 1890.2,892.0 1890.8,891.9 1891.3,892.1 1891.8,893.2 1892.3,891.4 1892.9,891.3 1893.4,891.9 1893.9,890.7 1894.4,889.1 1895.0,889.9 1895.5,889.9 1896.0,891.4 1896.5,890.5 1897.1,890.7 1897.6,891.7 1898.1,891.3 1898.6,893.3 1899.2,891.0 1899.7,889.9 1900.2,892.3 1900.7,890.4 1901.3,890.7 1901.8,891.9 1902.3,890.9 1902.8,891.4 1903.4,889.9 1903.9,890.2 1904.4,891.2 1904.9,889.8 1905.5,889.9 1906.0,890.2 1906.5,892.0 1907.1,891.8 1907.6,890.3 1908.1,890.1 1908.6,889.2 1909.2,891.4 1909.7,890.3 1910.2,890.9 1910.7,888.2 1911.3,890.6 1911.8,889.9 1912.3,890.5 1912.8,890.8 1913.4,889.6 1913.9,889.2 1914.4,890.4 1914.9,888.3 1915.5,891.2 1916.0,890.0 1916.5,888.4 1917.0,891.0 1917.6,890.7 1918.1,891.4 1918.6,890.8 1919.1,890.3 1919.7,889.7 1920.2,888.6 1920.7,890.7 1921.2,890.5 1921.8,889.4 1922.3,890.6 1922.8,889.0 1923.3,891.2 1923.9,890.2 1924.4,890.4 1924.9,889.4 1925.5,891.2 1926.0,890.4 1926.5,889.6 1927.0,890.7 1927.6,890.1 1928.1,891.5 1928.6,888.7 1929.1,889.2 1929.7,892.7 1930.2,889.9 1930.7,891.0 1931.2,890.1 1931.8,890.7 1932.3,893.4 1932.8,888.3 1933.3,891.1 1933.9,890.4 1934.4,890.3 1934.9,889.3 1935.4,888.9 1936.0,891.3 1936.5,890.2 1937.0,888.1 1937.5,889.2 1938.1,887.5 1938.6,891.8 1939.1,888.8 1939.6,886.2 1940.2,889.0 1940.7,888.4 1941.2,887.8 1941.7,887.4 1942.3,886.4 1942.8,886.6 1943.3,884.4 1943.8,887.9 1944.4,888.6 1944.9,886.8 1945.4,886.9 1946.0,884.7 1946.5,885.7 1947.0,884.6 1947.5,884.8 1948.1,886.9 1948.6,887.9 1949.1,886.3 1949.6,889.2 1950.2,887.5 1950.7,884.1 1951.2,886.3 1951.7,888.3 1952.3,887.1 1952.8,888.2 1953.3,885.3 1953.8,888.7 1954.4,886.1 1954.9,887.9 1955.4,890.0 1955.9,887.8 1956.5,887.6 1957.0,888.8 1957.5,887.2 1958.0,887.1 1958.6,889.4 1959.1,886.7 1959.6,887.1 1960.1,890.5 1960.7,887.2 1961.2,889.2 1961.7,889.9 1962.2,888.7 1962.8,887.6 1963.3,889.7 1963.8,887.7 1964.4,891.0 1964.9,891.1 1965.4,887.5 1965.9,889.2 1966.5,887.7 1967.0,888.8 1967.5,887.9 1968.0,887.0 1968.6,888.5 1969.1,886.0 1969.6,888.0 1970.1,887.4 1970.7,886.5 1971.2,888.2 1971.7,887.1 1972.2,886.5 1972.8,886.5 1973.3,886.3 1973.8,887.4 1974.3,885.8 1974.9,882.8 1975.4,882.4 1975.9,884.5 1976.4,884.1 1977.0,885.1 1977.5,883.7 1978.0,884.2 1978.5,886.4 1979.1,883.4 1979.6,885.7 1980.1,884.5 1980.6,886.0 1981.2,885.5 1981.7,884.6 1982.2,885.7 1982.8,884.7 1983.3,883.2 1983.8,885.1 1984.3,885.2 1984.9,884.7 1985.4,885.3 1985.9,884.7 1986.4,885.8 1987.0,885.5 1987.5,884.4 1988.0,886.1 1988.5,888.5 1989.1,888.0 1989.6,889.1 1990.1,887.8 1990.6,887.8 1991.2,887.4 1991.7,889.1 1992.2,890.4 1992.7,890.5 1993.3,890.8 1993.8,889.7 1994.3,890.6 1994.8,889.9 1995.4,891.8 1995.9,891.7 1996.4,890.5 1996.9,891.4 1997.5,888.8 1998.0,892.0 1998.5,890.4 1999.0,890.8 1999.6,891.9 2000.1,892.0 2000.6,890.5 2001.2,892.9 2001.7,893.4 2002.2,892.7 2002.7,892.5 2003.3,891.1 2003.8,892.6 2004.3,890.0 2004.8,889.7 2005.4,891.1 2005.9,891.2 2006.4,889.9 2006.9,892.8 2007.5,889.1 2008.0,888.4 2008.5,890.2 2009.0,892.5 2009.6,891.4 2010.1,891.0 2010.6,890.7 2011.1,891.2 2011.7,890.9 2012.2,890.6 2012.7,890.3 2013.2,888.7 2013.8,891.5 2014.3,890.0 2014.8,890.9 2015.3,891.0 2015.9,891.6 2016.4,889.6 2016.9,891.4 2017.4,891.4 2018.0,890.3 2018.5,890.4 2019.0,890.6 2019.6,889.4 2020.1,890.0 2020.6,889.3 2021.1,891.8 2021.7,889.7 2022.2,889.4 2022.7,890.7 2023.2,891.2 2023.8,890.2 2024.3,889.6 2024.8,891.1 2025.3,891.6 2025.9,888.9 2026.4,891.7 2026.9,888.7 2027.4,891.5 2028.0,890.3 2028.5,890.5 2029.0,891.6 2029.5,892.4 2030.1,893.2 2030.6,892.4 2031.1,891.7 2031.6,889.5 2032.2,890.6 2032.7,891.2 2033.2,890.4 2033.7,891.8 2034.3,890.9 2034.8,893.2"/>
<path stroke="#036DE2" d="M198.0,408.8 198.5,409.4 199.1,408.7 199.6,406.5 200.1,409.3 200.6,408.7 201.2,407.3 201.7,408.7 202.2,408.3 202.7,408.2 203.3,407.8 203.8,408.4 204.3,406.6 204.8,407.3 205.4,406.8 205.9,408.1 206.4,407.3 206.9,406.8 207.5,406.1 208.0,406.7 208.5,406.9 209.0,406.4 209.6,408.4 210.1,407.9 210.6,403.0 211.1,404.0 211.7,406.1 212.2,405.7 212.7,406.4 213.2,406.3 213.8,408.6 214.3,404.3 214.8,405.1 215.3,408.1 215.9,406.2 216.4,406.1 216.9,404.4 217.5,402.8 218.0,405.0 218.5,404.7 219.0,402.8 219.6,403.4 220.1,404.0 220.6,402.7 221.1,403.6 221.7,403.7 222.2,403.5 222.7,402.6 223.2,403.9 223.8,404.1 224.3,403.2 224.8,401.6 225.3,403.4 225.9,401.7 226.4,403.3 226.9,400.7 227.4,403.1 228.0,401.8 228.5,400.1 229.0,401.2 229.5,401.6 230.1,401.8 230.6,400.1 231.1,399.8 231.6,401.4 232.2,400.5 232.7,401.3 233.2,401.9 233.7,398.7 234.3,401.1 234.8,402.3 235.3,400.2 235.9,399.5 236.4,401.4 236.9,400.7 237.4,401.5 238.0,399.8 238.5,398.2 239.0,400.0 239.5,399.5 240.1,401.0 240.6,400.2 241.1,397.7 241.6,398.2 242.2,400.9 242.7,400.6 243.2,398.8 243.7,399.6 244.3,400.1 244.8,400.1 245.3,400.6 245.8,399.7 246.4,399.2 246.9,399.0 247.4,400.6 247.9,396.3 248.5,399.0 249.0,399.2 249.5,397.3 250.0,399.5 250.6,398.2 251.1,400.1 251.6,398.8 252.1,399.8 252.7,400.5 253.2,399.4 253.7,397.7 254.2,396.9 254.8,401.1 255.3,398.6 255.8,397.9 256.4,398.9 256.9,398.4 257.4,399.8 257.9,398.7 258.5,398.6 259.0,397.7 259.5,399.2 260.0,397.2 260.6,399.4 261.1,400.5 261.6,396.5 262.1,395.3 262.7,399.3 263.2,401.7 263.7,397.1 264.2,396.8 264.8,399.2 265.3,397.3 265.8,397.7 266.3,397.9 266.9,399.0 267.4,397.8 267.9,398.7 268.4,398.1 269.0,397.2 269.5,397.8 270.0,397.0 270.5,398.2 271.1,396.8 271.6,396.8 272.1,400.1 272.6,398.1 273.2,398.1 273.7,398.8 274.2,397.6 274.8,397.8 275.3,398.7 275.8,398.5 276.3,396.6 276.9,399.2 277.4,397.3 277.9,396.7 278.4,396.9 279.0,397.6 279.5,400.2 280.0,396.5 280.5,398.2 281.1,395.2 281.6,398.0 282.1,399.2 282.6,397.7 283.2,397.1 283.7,398.2 284.2,398.8 284.7,398.8 285.3,400.5 285.8,398.2 286.3,397.1 286.8,397.7 287.4,397.7 287.9,398.0 288.4,397.8 288.9,398.0 289.5,395.6 290.0,398.9 290.5,397.1 291.0,396.3 291.6,398.6 292.1,399.5 292.6,398.5 293.2,398.1 293.7,396.6 294.2,401.6 294.7,399.0 295.3,396.4 295.8,396.9 296.3,398.1 296.8,396.0 297.4,398.2 297.9,397.5 298.4,399.7 298.9,399.4 299.5,394.6 300.0,398.2 300.5,396.1 301.0,399.7 301.6,398.5 302.1,399.0 302.6,397.0 303.1,400.8 303.7,401.1 304.2,397.1 304.7,399.0 305.2,397.7 305.8,398.6 306.3,397.1 306.8,401.2 307.3,397.6 307.9,398.5 308.4,399.7 308.9,398.2 309.4,398.9 310.0,398.5 310.5,399.2 311.0,397.9 311.6,398.9 312.1,399.3 312.6,399.2 313.1,399.8 313.7,399.5 314.2,400.9 314.7,399.6 315.2,399.9 315.8,399.3 316.3,399.5 316.8,398.6 317.3,401.0 317.9,398.9 318.4,399.5 318.9,401.0 319.4,401.1 320.0,400.2 320.5,398.1 321.0,401.4 321.5,401.2 322.1,399.1 322.6,402.0 323.1,400.2 323.6,399.7 324.2,401.3 324.7,401.1 325.2,401.6 325.7,399.3 326.3,403.8 326.8,400.8 327.3,399.6 327.8,402.5 328.4,401.3 328.9,402.2 329.4,401.4 330.0,401.8 330.5,402.3 331.0,401.1 331.5,403.0 332.1,401.5 332.6,401.1 333.1,402.4 333.6,402.9 334.2,402.1 334.7,401.3 335.2,403.3 335.7,400.3 336.3,401.3 336.8,402.7 337.3,401.0 337.8,402.8 338.4,402.8 338.9,404.1 339.4,401.8 339.9,402.2 340.5,403.5 341.0,400.0 341.5,407.3 342.0,402.4 342.6,402.4 343.1,404.5 343.6,403.4 344.1,401.2 344.7,404.4 345.2,404.7 345.7,403.1 346.2,403.3 346.8,404.4 347.3,402.6 347.8,404.4 348.4,404.1 348.9,403.0 349.4,402.1 349.9,403.6 350.5,402.8 351.0,405.2 351.5,404.1 352.0,404.9 352.6,404.1 353.1,404.3 353.6,402.9 354.1,404.8 354.7,406.3 355.2,403.5 355.7,403.2 356.2,403.7 356.8,403.3 357.3,403.0 357.8,404.1 358.3,403.6 358.9,405.8 359.4,404.0 359.9,404.4 360.4,405.2 361.0,403.6 361.5,405.8 362.0,403.1 362.5,402.9 363.1,403.5 363.6,403.8 364.1,402.2 364.6,404.0 365.2,401.8 365.7,405.8 366.2,403.9 366.7,403.2 367.3,402.9 367.8,403.6 368.3,403.8 368.9,402.7 369.4,402.9 369.9,403.9 370.4,403.5 371.0,405.4 371.5,405.7 372.0,404.3 372.5,404.9 373.1,402.6 373.6,405.2 374.1,404.3 374.6,405.0 375.2,406.5 375.7,401.5 376.2,404.8 376.7,403.1 377.3,405.3 377.8,402.9 378.3,404.0 378.8,404.9 379.4,405.5 379.9,404.8 380.4,403.7 380.9,404.1 381.5,406.0 382.0,404.9 382.5,402.7 383.0,406.0 383.6,405.5 384.1,406.2 384.6,404.6 385.1,406.2 385.7,403.8 386.2,406.0 386.7,404.6 387.3,406.2 387.8,406.7 388.3,404.5 388.8,405.4 389.4,405.6 389.9,407.1 390.4,406.6 390.9,404.1 391.5,406.4 392.0,406.8 392.5,408.6 393.0,403.7 393.6,405.3 394.1,407.8 394.6,404.3 395.1,404.6 395.7,406.9 396.2,407.6 396.7,405.4 397.2,407.0 397.8,406.5 398.3,408.4 398.8,406.4 399.3,407.8 399.9,405.3 400.4,406.3 400.9,406.5 401.4,408.1 402.0,407.4 402.5,405.7 403.0,407.6 403.5,407.7 404.1,406.6 404.6,406.4 405.1,406.5 405.7,404.6 406.2,407.1 406.7,407.2 407.2,405.8 407.8,407.9 408.3,405.1 408.8,406.2 409.3,406.3 409.9,409.6 410.4,404.9 410.9,407.8 411.4,408.3 412.0,407.6 412.5,408.6 413.0,405.8 413.5,404.2 414.1,408.2 414.6,405.6 415.1,406.8 415.6,405.7 416.2,408.6 416.7,408.4 417.2,406.4 417.7,408.5 418.3,407.5 418.8,407.2 419.3,407.5 419.8,407.2 420.4,408.3 420.9,407.9 421.4,407.1 421.9,408.9 422.5,406.9 423.0,408.1 423.5,408.3 424.1,409.7 424.6,407.1 425.1,410.1 425.6,408.1 426.2,407.7 426.7,407.1 427.2,408.7 427.7,408.1 428.3,406.6 428.8,406.6 429.3,407.4 429.8,407.3 430.4,409.6 430.9,410.0 431.4,409.4 431.9,408.7 432.5,407.8 433.0,408.4 433.5,409.5 434.0,411.2 434.6,409.6 435.1,408.1 435.6,408.5 436.1,407.8 436.7,407.5 437.2,408.3 437.7,408.8 438.2,410.9 438.8,408.6 439.3,410.3 439.8,410.9 440.3,408.7 440.9,410.7 441.4,409.6 441.9,408.1 442.5,409.0 443.0,408.7 443.5,408.4 444.0,408.5 444.6,408.9 445.1,409.3 445.6,407.6 446.1,408.8 446.7,406.8 447.2,409.2 447.7,409.6 448.2,409.1 448.8,409.2 449.3,409.7 449.8,408.1 450.3,408.6 450.9,409.6 451.4,410.3 451.9,409.5 452.4,412.4 453.0,409.0 453.5,410.4 454.0,410.8 454.5,409.0 455.1,408.2 455.6,407.7 456.1,409.5 456.6,410.8 457.2,409.7 457.7,409.7 458.2,409.0 458.7,410.3 459.3,406.8 459.8,409.9 460.3,409.7 460.9,408.0 461.4,412.6 461.9,408.0 462.4,408.5 463.0,408.4 463.5,411.4 464.0,408.9 464.5,411.0 465.1,410.9 465.6,410.5 466.1,408.6 466.6,409.5 467.2,412.5 467.7,408.7 468.2,409.4 468.7,410.3 469.3,411.6 469.8,410.9 470.3,411.6 470.8,409.3 471.4,411.9 471.9,411.5 472.4,408.7 472.9,412.9 473.5,413.9 474.0,410.0 474.5,411.1 475.0,412.9 475.6,409.2 476.1,408.6 476.6,409.6 477.1,410.5 477.7,410.6 478.2,412.2 478.7,411.8 479.2,409.9 479.8,412.3 480.3,414.0 480.8,413.2 481.4,412.9 481.9,411.7 482.4,413.0 482.9,410.5 483.5,412.7 484.0,411.6 484.5,413.2 485.0,412.4 485.6,410.4 486.1,412.0 486.6,413.4 487.1,410.3 487.7,411.1 488.2,410.8 488.7,409.9 489.2,413.0 489.8,413.5 490.3,412.8 490.8,412.1 491.3,411.7 491.9,412.1 492.4,410.8 492.9,413.0 493.4,413.2 494.0,413.0 494.5,411.1 495.0,411.9 495.5,411.6 496.1,414.1 496.6,412.0 497.1,409.4 497.6,412.3 498.2,414.2 498.7,412.7 499.2,412.9 499.8,411.8 500.3,409.2 500.8,409.4 501.3,410.2 501.9,411.6 502.4,412.2 502.9,412.7 503.4,411.4 504.0,413.0 504.5,411.4 505.0,410.9 505.5,412.9 506.1,410.6 506.6,408.3 507.1,410.4 507.6,411.9 508.2,407.8 508.7,411.3 509.2,411.4 509.7,409.9 510.3,409.9 510.8,411.2 511.3,411.1 511.8,413.4 512.4,412.3 512.9,409.7 513.4,410.7 513.9,412.7 514.5,414.3 515.0,412.3 515.5,412.2 516.0,414.2 516.6,411.8 517.1,411.4 517.6,410.0 518.2,411.1 518.7,414.6 519.2,410.0 519.7,411.8 520.3,410.0 520.8,412.0 521.3,413.0 521.8,411.5 522.4,412.7 522.9,412.7 523.4,412.3 523.9,414.0 524.5,412.7 525.0,411.3 525.5,410.8 526.0,410.6 526.6,412.3 527.1,411.2 527.6,415.1 528.1,413.9 528.7,411.2 529.2,411.0 529.7,413.6 530.2,408.9 530.8,410.7 531.3,412.5 531.8,410.0 532.3,410.5 532.9,410.6 533.4,411.8 533.9,411.1 534.4,411.3 535.0,411.5 535.5,410.7 536.0,412.0 536.6,409.5 537.1,408.4 537.6,407.7 538.1,407.6 538.7,408.6 539.2,410.2 539.7,408.7 540.2,407.2 540.8,406.1 541.3,406.4 541.8,406.1 542.3,405.5 542.9,403.9 543.4,404.7 543.9,406.1 544.4,401.4 545.0,403.2 545.5,400.0 546.0,402.0 546.5,399.2 547.1,394.9 547.6,394.3 548.1,392.5 548.6,385.9 549.2,382.7 549.7,376.4 550.2,369.3 550.7,367.7 551.3,360.3 551.8,352.8 552.3,350.8 552.8,348.0 553.4,348.3 553.9,354.1 554.4,357.4 555.0,365.4 555.5,368.5 556.0,374.2 556.5,375.9 557.1,382.9 557.6,384.4 558.1,388.0 558.6,385.5 559.2,384.9 559.7,384.6 560.2,377.2 560.7,376.4 561.3,376.1 561.8,372.7 562.3,371.4 562.8,368.9 563.4,370.7 563.9,371.2 564.4,373.5 564.9,376.8 565.5,382.1 566.0,385.6 566.5,388.0 567.0,386.3 567.6,390.3 568.1,394.2 568.6,397.1 569.1,397.6 569.7,398.6 570.2,397.9 570.7,404.3 571.2,400.7 571.8,404.7 572.3,404.9 572.8,403.5 573.3,402.7 573.9,403.8 574.4,402.3 574.9,404.2 575.5,403.8 576.0,404.0 576.5,403.5 577.0,403.1 577.6,398.7 578.1,398.8 578.6,394.6 579.1,392.7 579.7,391.5 580.2,389.8 580.7,391.4 581.2,391.0 581.8,391.8 582.3,391.1 582.8,393.0 583.3,393.7 583.9,394.8 584.4,398.6 584.9,399.8 585.4,399.0 586.0,402.2 586.5,400.2 587.0,403.1 587.5,403.4 588.1,404.2 588.6,404.1 589.1,407.2 589.6,407.0 590.2,408.1 590.7,407.0 591.2,405.4 591.7,406.9 592.3,406.0 592.8,408.3 593.3,409.5 593.9,408.5 594.4,407.4 594.9,407.7 595.4,408.5 596.0,406.4 596.5,408.4 597.0,408.4 597.5,407.3 598.1,407.2 598.6,407.7 599.1,406.2 599.6,405.8 600.2,407.6 600.7,406.5 601.2,408.0 601.7,404.2 602.3,402.7 602.8,405.9 603.3,405.5 603.8,402.9 604.4,401.6 604.9,403.1 605.4,400.6 605.9,402.1 606.5,399.5 607.0,401.8 607.5,399.2 608.0,401.5 608.6,403.7 609.1,401.4 609.6,402.9 610.1,401.3 610.7,401.3 611.2,400.8 611.7,404.6 612.3,403.6 612.8,406.3 613.3,403.1 613.8,404.8 614.4,405.7 614.9,407.9 615.4,408.8 615.9,405.9 616.5,405.5 617.0,404.8 617.5,408.9 618.0,407.0 618.6,406.3 619.1,407.1 619.6,403.8 620.1,404.9 620.7,408.3 621.2,407.6 621.7,407.3 622.2,405.7 622.8,407.8 623.3,409.3 623.8,405.4 624.3,407.0 624.9,406.3 625.4,407.3 625.9,406.8 626.4,406.6 627.0,405.6 627.5,406.7 628.0,405.8 628.5,406.4 629.1,406.4 629.6,407.3 630.1,405.6 630.7,405.9 631.2,407.6 631.7,405.9 632.2,405.7 632.8,407.1 633.3,406.1 633.8,405.5 634.3,405.1 634.9,402.5 635.4,403.8 635.9,404.0 636.4,401.9 637.0,398.0 637.5,399.1 638.0,396.1 638.5,394.4 639.1,391.1 639.6,385.8 640.1,387.2 640.6,385.8 641.2,388.4 641.7,390.2 642.2,393.2 642.7,394.7 643.3,392.2 643.8,394.1 644.3,391.0 644.8,392.6 645.4,393.3 645.9,392.5 646.4,391.8 646.9,388.3 647.5,387.7 648.0,385.5 648.5,383.9 649.1,380.0 649.6,372.3 650.1,371.8 650.6,359.2 651.2,349.2 651.7,339.2 652.2,326.4 652.7,309.1 653.3,286.6 653.8,265.9 654.3,235.2 654.8,204.1 655.4,175.6 655.9,145.5 656.4,122.2 656.9,110.4 657.5,121.3 658.0,146.2 658.5,173.3 659.0,192.7 659.6,214.4 660.1,235.5 660.6,252.3 661.1,275.7 661.7,293.3 662.2,301.9 662.7,308.6 663.2,315.1 663.8,316.0 664.3,316.5 664.8,315.2 665.3,319.8 665.9,317.9 666.4,317.3 666.9,318.5 667.5,319.5 668.0,324.8 668.5,324.5 669.0,326.3 669.6,324.9 670.1,329.1 670.6,326.2 671.1,324.6 671.7,324.8 672.2,320.4 672.7,320.0 673.2,316.7 673.8,307.9 674.3,304.2 674.8,295.9 675.3,291.4 675.9,286.4 676.4,277.6 676.9,276.1 677.4,267.6 678.0,260.3 678.5,254.8 679.0,248.3 679.5,234.0 680.1,220.3 680.6,206.4 681.1,208.1 681.6,213.9 682.2,225.1 682.7,240.3 683.2,251.4 683.7,269.9 684.3,290.8 684.8,305.1 685.3,325.2 685.8,341.0 686.4,353.8 686.9,363.0 687.4,370.3 688.0,375.8 688.5,380.4 689.0,384.5 689.5,386.1 690.1,388.9 690.6,389.2 691.1,389.6 691.6,386.1 692.2,389.3 692.7,388.0 693.2,386.0 693.7,387.9 694.3,388.7 694.8,389.0 695.3,391.0 695.8,393.7 696.4,396.3 696.9,397.6 697.4,396.7 697.9,399.5 698.5,402.0 699.0,402.0 699.5,404.5 700.0,405.5 700.6,405.4 701.1,408.4 701.6,405.3 702.1,408.1 702.7,406.5 703.2,406.2 703.7,407.9 704.2,406.4 704.8,408.2 705.3,405.6 705.8,407.1 706.4,405.9 706.9,406.7 707.4,406.4 707.9,405.4 708.5,407.6 709.0,405.0 709.5,405.3 710.0,407.6 710.6,407.6 711.1,407.1 711.6,406.5 712.1,408.7 712.7,403.3 713.2,402.8 713.7,401.1 714.2,402.1 714.8,399.6 715.3,399.1 715.8,397.3 716.3,394.3 716.9,392.3 717.4,391.0 717.9,394.2 718.4,391.5 719.0,390.0 719.5,387.8 720.0,387.1 720.5,386.1 721.1,385.4 721.6,382.0 722.1,384.5 722.6,383.7 723.2,384.3 723.7,384.0 724.2,384.7 724.8,383.4 725.3,384.3 725.8,379.7 726.3,381.3 726.9,384.4 727.4,377.7 727.9,373.2 728.4,367.5 729.0,358.7 729.5,352.6 730.0,340.9 730.5,334.7 731.1,335.8 731.6,338.9 732.1,346.4 732.6,352.3 733.2,359.5 733.7,364.2 734.2,377.2 734.7,383.0 735.3,391.9 735.8,399.7 736.3,403.0 736.8,403.6 737.4,405.2 737.9,406.8 738.4,406.8 738.9,407.3 739.5,405.1 740.0,403.6 740.5,405.6 741.0,401.0 741.6,400.8 742.1,401.0 742.6,402.3 743.2,399.6 743.7,402.0 744.2,403.5 744.7,405.2 745.3,404.0 745.8,408.5 746.3,406.1 746.8,411.2 747.4,412.0 747.9,412.5 748.4,410.4 748.9,413.5 749.5,411.4 750.0,411.2 750.5,411.7 751.0,412.1 751.6,413.6 752.1,414.7 752.6,411.1 753.1,413.4 753.7,415.5 754.2,414.9 754.7,415.6 755.2,413.3 755.8,416.8 756.3,413.8 756.8,416.3 757.3,418.0 757.9,418.7 758.4,416.9 758.9,417.4 759.4,415.3 760.0,415.3 760.5,417.3 761.0,415.6 761.6,415.3 762.1,413.5 762.6,415.4 763.1,416.0 763.7,414.3 764.2,414.9 764.7,418.0 765.2,416.6 765.8,416.5 766.3,416.0 766.8,417.2 767.3,418.1 767.9,420.6 768.4,418.3 768.9,421.5 769.4,418.0 770.0,418.8 770.5,420.4 771.0,419.0 771.5,418.2 772.1,419.1 772.6,419.9 773.1,417.1 773.6,419.0 774.2,419.2 774.7,418.8 775.2,420.3 775.7,418.6 776.3,418.9 776.8,419.4 777.3,420.3 777.8,419.1 778.4,421.4 778.9,418.2 779.4,421.1 779.9,418.3 780.5,419.2 781.0,419.9 781.5,422.1 782.1,420.6 782.6,418.9 783.1,421.2 783.6,419.2 784.2,418.6 784.7,420.3 785.2,419.9 785.7,421.2 786.3,419.4 786.8,420.8 787.3,421.3 787.8,421.0 788.4,420.8 788.9,420.2 789.4,422.5 789.9,421.7 790.5,422.3 791.0,421.4 791.5,422.0 792.0,420.8 792.6,422.4 793.1,423.3 793.6,422.5 794.1,423.5 794.7,422.7 795.2,423.9 795.7,421.6 796.2,419.4 796.8,421.7 797.3,420.5 797.8,419.0 798.3,420.7 798.9,419.8 799.4,419.7 799.9,418.3 800.5,418.8 801.0,418.8 801.5,420.7 802.0,417.6 802.6,418.7 803.1,419.4 803.6,417.1 804.1,417.6 804.7,422.9 805.2,418.2 805.7,421.6 806.2,420.1 806.8,420.6 807.3,419.2 807.8,420.8 808.3,423.1 808.9,420.3 809.4,422.7 809.9,422.0 810.4,423.9 811.0,420.2 811.5,422.0 812.0,421.0 812.5,419.0 813.1,416.8 813.6,420.5 814.1,416.5 814.6,417.5 815.2,419.3 815.7,419.7 816.2,417.4 816.7,418.8 817.3,418.9 817.8,421.3 818.3,423.5 818.9,418.5 819.4,422.6 819.9,418.2 820.4,422.5 821.0,421.5 821.5,425.9 822.0,423.9 822.5,422.9 823.1,423.3 823.6,423.1 824.1,424.1 824.6,423.6 825.2,424.6 825.7,425.7 826.2,424.6 826.7,422.0 827.3,421.5 827.8,422.5 828.3,424.9 828.8,423.1 829.4,422.7 829.9,424.0 830.4,422.2 830.9,422.9 831.5,425.4 832.0,424.7 832.5,424.9 833.0,426.3 833.6,425.4 834.1,425.6 834.6,426.0 835.1,427.5 835.7,426.8 836.2,425.0 836.7,426.1 837.3,427.1 837.8,428.5 838.3,424.3 838.8,426.0 839.4,424.9 839.9,426.0 840.4,425.2 840.9,426.3 841.5,424.7 842.0,423.1 842.5,422.8 843.0,423.8 843.6,423.6 844.1,426.1 844.6,425.0 845.1,421.3 845.7,423.3 846.2,421.3 846.7,421.2 847.2,424.8 847.8,425.0 848.3,423.5 848.8,427.6 849.3,424.8 849.9,425.2 850.4,428.1 850.9,428.0 851.4,427.9 852.0,428.3 852.5,428.8 853.0,428.3 853.5,428.3 854.1,426.0 854.6,426.7 855.1,429.2 855.7,427.4 856.2,429.0 856.7,429.8 857.2,427.7 857.8,428.5 858.3,430.7 858.8,428.8 859.3,430.2 859.9,429.7 860.4,428.6 860.9,427.4 861.4,426.3 862.0,425.8 862.5,427.8 863.0,427.6 863.5,426.5 864.1,427.4 864.6,425.0 865.1,426.6 865.6,424.6 866.2,423.8 866.7,423.2 867.2,422.4 867.7,425.2 868.3,419.4 868.8,421.3 869.3,422.4 869.8,421.5 870.4,420.2 870.9,422.8 871.4,419.1 871.9,418.8 872.5,421.2 873.0,418.6 873.5,417.4 874.1,421.6 874.6,421.4 875.1,421.4 875.6,419.8 876.2,420.6 876.7,419.1 877.2,422.5 877.7,421.1 878.3,420.6 878.8,416.5 879.3,419.3 879.8,419.3 880.4,418.0 880.9,415.8 881.4,412.3 881.9,408.7 882.5,406.6 883.0,402.8 883.5,399.2 884.0,395.4 884.6,395.0 885.1,388.3 885.6,386.7 886.1,382.7 886.7,381.3 887.2,378.0 887.7,373.5 888.2,368.3 888.8,360.3 889.3,359.1 889.8,350.5 890.3,342.4 890.9,334.3 891.4,324.5 891.9,313.9 892.4,299.0 893.0,280.8 893.5,258.6 894.0,238.0 894.6,209.0 895.1,181.8 895.6,156.4 896.1,132.0 896.7,111.6 897.2,97.4 897.7,101.4 898.2,112.1 898.8,135.0 899.3,157.5 899.8,171.6 900.3,187.0 900.9,202.6 901.4,214.5 901.9,224.2 902.4,236.9 903.0,245.0 903.5,253.3 904.0,263.0 904.5,271.0 905.1,280.5 905.6,286.1 906.1,298.2 906.6,305.4 907.2,316.4 907.7,322.4 908.2,332.5 908.7,341.2 909.3,349.3 909.8,353.2 910.3,363.4 910.8,368.1 911.4,372.7 911.9,380.4 912.4,383.8 913.0,389.3 913.5,394.1 914.0,394.7 914.5,395.4 915.1,397.8 915.6,401.2 916.1,402.8 916.6,403.1 917.2,404.8 917.7,407.9 918.2,411.2 918.7,405.5 919.3,410.5 919.8,409.8 920.3,411.5 920.8,412.0 921.4,411.3 921.9,410.2 922.4,409.9 922.9,409.4 923.5,413.3 924.0,411.0 924.5,409.7 925.0,408.9 925.6,406.0 926.1,406.4 926.6,405.8 927.1,403.6 927.7,398.0 928.2,399.8 928.7,394.5 929.2,390.0 929.8,387.4 930.3,384.0 930.8,381.3 931.4,376.1 931.9,371.7 932.4,369.8 932.9,369.4 933.5,362.9 934.0,361.5 934.5,358.1 935.0,358.5 935.6,349.5 936.1,350.2 936.6,343.7 937.1,341.0 937.7,337.6 938.2,337.6 938.7,328.0 939.2,321.8 939.8,320.9 940.3,312.8 940.8,306.8 941.3,298.7 941.9,291.2 942.4,286.2 942.9,286.9 943.4,290.0 944.0,295.5 944.5,299.8 945.0,305.7 945.5,311.2 946.1,318.3 946.6,322.9 947.1,329.2 947.6,333.2 948.2,336.0 948.7,332.0 949.2,328.1 949.8,318.7 950.3,310.5 950.8,302.3 951.3,286.1 951.9,267.1 952.4,242.2 952.9,225.4 953.4,203.8 954.0,189.2 954.5,178.2 955.0,168.3 955.5,158.0 956.1,156.1 956.6,160.6 957.1,174.0 957.6,191.8 958.2,211.5 958.7,230.6 959.2,255.8 959.7,279.9 960.3,297.6 960.8,312.2 961.3,329.2 961.8,342.9 962.4,350.1 962.9,364.3 963.4,377.6 963.9,386.1 964.5,395.2 965.0,403.0 965.5,409.9 966.0,410.8 966.6,413.1 967.1,416.5 967.6,416.7 968.2,419.2 968.7,417.5 969.2,422.0 969.7,423.0 970.3,422.7 970.8,423.7 971.3,426.4 971.8,423.6 972.4,424.6 972.9,425.1 973.4,426.7 973.9,426.6 974.5,428.6 975.0,428.3 975.5,427.8 976.0,428.2 976.6,432.2 977.1,431.0 977.6,431.1 978.1,431.6 978.7,431.6 979.2,432.8 979.7,432.5 980.2,431.0 980.8,430.7 981.3,430.4 981.8,430.2 982.3,433.6 982.9,430.6 983.4,429.2 983.9,430.7 984.4,430.8 985.0,432.2 985.5,430.6 986.0,432.5 986.6,432.3 987.1,433.4 987.6,434.6 988.1,435.5 988.7,433.5 989.2,430.0 989.7,430.7 990.2,431.2 990.8,433.2 991.3,431.0 991.8,431.4 992.3,429.4 992.9,430.4 993.4,430.7 993.9,429.4 994.4,431.4 995.0,432.2 995.5,431.2 996.0,433.3 996.5,434.7 997.1,433.3 997.6,433.8 998.1,433.9 998.6,434.0 999.2,435.4 999.7,434.9 1000.2,435.2 1000.7,434.6 1001.3,433.4 1001.8,433.9 1002.3,435.2 1002.8,432.8 1003.4,433.1 1003.9,435.5 1004.4,434.4 1004.9,431.6 1005.5,432.8 1006.0,430.9 1006.5,433.6 1007.1,430.6 1007.6,431.4 1008.1,433.2 1008.6,430.5 1009.2,433.5 1009.7,431.0 1010.2,432.6 1010.7,432.2 1011.3,432.8 1011.8,433.4 1012.3,433.3 1012.8,432.3 1013.4,434.9 1013.9,434.8 1014.4,435.5 1014.9,435.4 1015.5,431.3 1016.0,434.0 1016.5,433.3 1017.0,430.1 1017.6,431.5 1018.1,431.7 1018.6,428.9 1019.1,427.9 1019.7,429.3 1020.2,433.6 1020.7,430.6 1021.2,429.0 1021.8,430.6 1022.3,430.0 1022.8,431.2 1023.3,432.2 1023.9,429.2 1024.4,433.3 1024.9,435.1 1025.5,433.4 1026.0,433.6 1026.5,436.0 1027.0,433.5 1027.6,434.0 1028.1,434.3 1028.6,436.4 1029.1,437.6 1029.7,437.4 1030.2,438.5 1030.7,439.1 1031.2,438.8 1031.8,437.1 1032.3,437.8 1032.8,439.8 1033.3,436.8 1033.9,437.8 1034.4,437.6 1034.9,437.8 1035.4,436.6 1036.0,436.2 1036.5,441.2 1037.0,439.1 1037.5,436.9 1038.1,437.7 1038.6,438.5 1039.1,437.1 1039.6,438.3 1040.2,436.6 1040.7,436.8 1041.2,437.0 1041.7,436.2 1042.3,433.3 1042.8,436.1 1043.3,436.0 1043.9,435.8 1044.4,433.3 1044.9,434.5 1045.4,433.7 1046.0,430.5 1046.5,429.3 1047.0,432.0 1047.5,429.5 1048.1,431.2 1048.6,431.7 1049.1,427.1 1049.6,425.6 1050.2,425.0 1050.7,424.1 1051.2,418.9 1051.7,418.1 1052.3,413.2 1052.8,407.6 1053.3,400.8 1053.8,396.4 1054.4,389.2 1054.9,379.2 1055.4,376.9 1055.9,367.8 1056.5,362.5 1057.0,356.2 1057.5,354.7 1058.0,354.5 1058.6,351.0 1059.1,349.5 1059.6,351.2 1060.1,351.3 1060.7,353.9 1061.2,357.1 1061.7,360.4 1062.3,367.4 1062.8,370.7 1063.3,379.0 1063.8,383.9 1064.4,392.7 1064.9,400.9 1065.4,404.2 1065.9,411.4 1066.5,412.6 1067.0,415.2 1067.5,419.3 1068.0,422.3 1068.6,425.9 1069.1,428.9 1069.6,431.8 1070.1,431.6 1070.7,431.7 1071.2,430.9 1071.7,430.7 1072.2,431.9 1072.8,432.2 1073.3,432.5 1073.8,432.7 1074.3,431.9 1074.9,428.8 1075.4,428.6 1075.9,427.5 1076.4,429.2 1077.0,424.9 1077.5,425.2 1078.0,425.5 1078.5,424.0 1079.1,423.3 1079.6,423.8 1080.1,423.5 1080.7,425.9 1081.2,427.8 1081.7,428.0 1082.2,429.1 1082.8,429.9 1083.3,432.7 1083.8,430.6 1084.3,433.0 1084.9,435.1 1085.4,437.0 1085.9,433.1 1086.4,436.1 1087.0,437.0 1087.5,436.3 1088.0,439.2 1088.5,438.7 1089.1,438.2 1089.6,436.9 1090.1,437.6 1090.6,438.3 1091.2,440.4 1091.7,438.4 1092.2,437.5 1092.7,438.5 1093.3,439.8 1093.8,442.9 1094.3,444.2 1094.8,440.5 1095.4,442.5 1095.9,443.3 1096.4,443.4 1096.9,441.7 1097.5,440.4 1098.0,441.6 1098.5,440.0 1099.0,442.9 1099.6,443.7 1100.1,440.4 1100.6,442.9 1101.2,443.4 1101.7,444.8 1102.2,445.0 1102.7,444.4 1103.3,442.5 1103.8,442.9 1104.3,445.0 1104.8,442.6 1105.4,443.2 1105.9,445.2 1106.4,443.1 1106.9,441.0 1107.5,442.1 1108.0,443.0 1108.5,441.6 1109.0,443.0 1109.6,442.8 1110.1,439.8 1110.6,439.6 1111.1,439.7 1111.7,437.8 1112.2,439.3 1112.7,438.1 1113.2,438.8 1113.8,436.2 1114.3,434.8 1114.8,437.1 1115.3,432.3 1115.9,431.3 1116.4,429.8 1116.9,429.2 1117.4,427.3 1118.0,427.6 1118.5,426.3 1119.0,426.5 1119.6,427.6 1120.1,428.5 1120.6,428.8 1121.1,427.9 1121.7,430.2 1122.2,430.4 1122.7,431.2 1123.2,429.9 1123.8,433.7 1124.3,433.5 1124.8,436.8 1125.3,436.3 1125.9,435.0 1126.4,435.5 1126.9,439.5 1127.4,437.4 1128.0,439.8 1128.5,438.7 1129.0,441.8 1129.5,439.2 1130.1,441.0 1130.6,440.8 1131.1,438.4 1131.6,438.5 1132.2,440.8 1132.7,438.8 1133.2,437.7 1133.7,440.3 1134.3,442.0 1134.8,438.5 1135.3,440.3 1135.8,438.2 1136.4,440.1 1136.9,438.0 1137.4,439.9 1138.0,438.8 1138.5,437.7 1139.0,438.1 1139.5,436.9 1140.1,435.9 1140.6,435.8 1141.1,436.9 1141.6,435.3 1142.2,437.0 1142.7,436.8 1143.2,436.5 1143.7,435.0 1144.3,435.4 1144.8,435.0 1145.3,436.5 1145.8,433.5 1146.4,433.8 1146.9,433.8 1147.4,433.7 1147.9,432.7 1148.5,432.7 1149.0,434.7 1149.5,432.4 1150.0,434.3 1150.6,435.8 1151.1,434.8 1151.6,430.8 1152.1,434.3 1152.7,434.1 1153.2,434.4 1153.7,431.9 1154.2,435.3 1154.8,433.3 1155.3,436.8 1155.8,436.9 1156.4,439.3 1156.9,435.9 1157.4,434.9 1157.9,438.7 1158.5,438.9 1159.0,437.7 1159.5,440.3 1160.0,439.8 1160.6,437.6 1161.1,439.1 1161.6,439.2 1162.1,439.8 1162.7,440.3 1163.2,439.2 1163.7,439.8 1164.2,440.6 1164.8,439.5 1165.3,439.0 1165.8,438.5 1166.3,438.3 1166.9,435.4 1167.4,437.6 1167.9,435.4 1168.4,436.3 1169.0,433.5 1169.5,436.0 1170.0,434.4 1170.5,431.5 1171.1,432.4 1171.6,429.6 1172.1,431.3 1172.6,427.9 1173.2,424.5 1173.7,424.3 1174.2,422.6 1174.8,423.2 1175.3,421.6 1175.8,421.7 1176.3,420.4 1176.9,424.2 1177.4,427.8 1177.9,427.9 1178.4,429.0 1179.0,431.0 1179.5,430.9 1180.0,433.1 1180.5,432.2 1181.1,434.5 1181.6,434.6 1182.1,434.7 1182.6,437.1 1183.2,434.9 1183.7,437.1 1184.2,435.7 1184.7,439.9 1185.3,439.8 1185.8,437.7 1186.3,438.0 1186.8,435.0 1187.4,433.5 1187.9,430.8 1188.4,428.8 1188.9,429.1 1189.5,427.5 1190.0,427.3 1190.5,428.8 1191.0,427.8 1191.6,426.0 1192.1,427.8 1192.6,427.2 1193.2,427.9 1193.7,427.0 1194.2,430.1 1194.7,431.1 1195.3,427.4 1195.8,429.8 1196.3,430.0 1196.8,428.1 1197.4,430.0 1197.9,432.0 1198.4,431.7 1198.9,433.1 1199.5,429.9 1200.0,430.9 1200.5,432.8 1201.0,433.5 1201.6,433.8 1202.1,434.2 1202.6,435.1 1203.1,435.9 1203.7,438.2 1204.2,435.0 1204.7,441.5 1205.2,439.4 1205.8,438.7 1206.3,441.6 1206.8,439.0 1207.3,441.2 1207.9,439.9 1208.4,440.9 1208.9,440.7 1209.4,440.9 1210.0,438.1 1210.5,437.8 1211.0,437.6 1211.5,435.2 1212.1,437.3 1212.6,436.2 1213.1,433.9 1213.7,436.9 1214.2,436.8 1214.7,433.2 1215.2,435.6 1215.8,436.7 1216.3,436.6 1216.8,434.9 1217.3,435.1 1217.9,437.7 1218.4,438.2 1218.9,439.8 1219.4,440.7 1220.0,442.5 1220.5,441.9 1221.0,443.2 1221.5,447.9 1222.1,444.2 1222.6,445.6 1223.1,445.3 1223.6,445.5 1224.2,444.3 1224.7,446.4 1225.2,445.9 1225.7,447.2 1226.3,449.1 1226.8,446.8 1227.3,447.8 1227.8,445.6 1228.4,447.3 1228.9,449.3 1229.4,447.3 1229.9,446.7 1230.5,447.9 1231.0,447.4 1231.5,447.4 1232.1,447.2 1232.6,450.3 1233.1,446.6 1233.6,447.1 1234.2,446.7 1234.7,448.9 1235.2,446.8 1235.7,448.6 1236.3,446.9 1236.8,446.4 1237.3,444.3 1237.8,447.6 1238.4,446.5 1238.9,446.2 1239.4,445.3 1239.9,444.8 1240.5,443.6 1241.0,446.5 1241.5,445.6 1242.0,444.8 1242.6,444.4 1243.1,445.4 1243.6,445.1 1244.1,447.4 1244.7,446.2 1245.2,444.5 1245.7,443.8 1246.2,444.9 1246.8,444.0 1247.3,445.3 1247.8,445.8 1248.3,446.1 1248.9,445.8 1249.4,445.0 1249.9,446.0 1250.5,444.1 1251.0,445.1 1251.5,446.3 1252.0,445.6 1252.6,443.6 1253.1,443.7 1253.6,443.1 1254.1,447.6 1254.7,443.2 1255.2,445.0 1255.7,447.5 1256.2,446.4 1256.8,446.6 1257.3,444.2 1257.8,445.7 1258.3,448.5 1258.9,444.4 1259.4,444.8 1259.9,443.7 1260.4,443.9 1261.0,444.3 1261.5,445.4 1262.0,442.2 1262.5,441.3 1263.1,442.9 1263.6,442.9 1264.1,444.1 1264.6,442.7 1265.2,440.2 1265.7,440.9 1266.2,440.6 1266.7,438.3 1267.3,436.2 1267.8,436.1 1268.3,433.2 1268.9,429.7 1269.4,431.7 1269.9,425.5 1270.4,423.5 1271.0,419.8 1271.5,415.9 1272.0,412.0 1272.5,406.6 1273.1,404.9 1273.6,399.4 1274.1,394.3 1274.6,390.8 1275.2,386.6 1275.7,383.8 1276.2,382.2 1276.7,378.3 1277.3,373.9 1277.8,374.9 1278.3,374.3 1278.8,374.8 1279.4,375.3 1279.9,376.8 1280.4,381.1 1280.9,383.5 1281.5,383.2 1282.0,388.2 1282.5,390.5 1283.0,393.7 1283.6,398.5 1284.1,400.9 1284.6,403.3 1285.1,407.3 1285.7,407.9 1286.2,413.0 1286.7,416.2 1287.3,417.7 1287.8,422.0 1288.3,424.1 1288.8,425.0 1289.4,427.5 1289.9,430.4 1290.4,432.5 1290.9,431.5 1291.5,433.8 1292.0,435.2 1292.5,433.8 1293.0,432.7 1293.6,432.3 1294.1,432.4 1294.6,431.0 1295.1,434.5 1295.7,430.8 1296.2,431.8 1296.7,431.6 1297.2,432.2 1297.8,431.1 1298.3,430.1 1298.8,434.3 1299.3,432.4 1299.9,433.1 1300.4,433.7 1300.9,435.6 1301.4,435.5 1302.0,436.6 1302.5,436.7 1303.0,436.4 1303.5,437.0 1304.1,436.3 1304.6,435.3 1305.1,437.9 1305.6,437.3 1306.2,442.5 1306.7,441.5 1307.2,441.2 1307.8,439.2 1308.3,442.7 1308.8,437.8 1309.3,438.4 1309.9,439.0 1310.4,438.7 1310.9,440.1 1311.4,440.1 1312.0,442.3 1312.5,441.0 1313.0,441.2 1313.5,440.1 1314.1,439.3 1314.6,438.5 1315.1,437.3 1315.6,438.0 1316.2,438.5 1316.7,439.8 1317.2,436.5 1317.7,436.7 1318.3,438.6 1318.8,436.8 1319.3,438.4 1319.8,437.2 1320.4,436.6 1320.9,435.6 1321.4,436.6 1321.9,434.9 1322.5,433.9 1323.0,432.6 1323.5,432.2 1324.0,430.6 1324.6,426.6 1325.1,427.2 1325.6,426.5 1326.2,426.1 1326.7,424.7 1327.2,423.1 1327.7,420.5 1328.3,420.1 1328.8,421.5 1329.3,418.7 1329.8,420.3 1330.4,420.2 1330.9,416.9 1331.4,419.0 1331.9,418.9 1332.5,422.9 1333.0,422.8 1333.5,422.7 1334.0,425.7 1334.6,425.7 1335.1,428.6 1335.6,431.4 1336.1,433.9 1336.7,436.7 1337.2,437.3 1337.7,437.8 1338.2,440.7 1338.8,440.9 1339.3,441.9 1339.8,446.3 1340.3,445.7 1340.9,444.5 1341.4,443.3 1341.9,443.9 1342.4,446.3 1343.0,447.4 1343.5,445.6 1344.0,446.2 1344.6,446.3 1345.1,447.4 1345.6,443.5 1346.1,446.2 1346.7,446.5 1347.2,447.2 1347.7,446.5 1348.2,444.5 1348.8,445.2 1349.3,443.9 1349.8,446.1 1350.3,446.1 1350.9,446.5 1351.4,444.6 1351.9,444.3 1352.4,447.8 1353.0,446.0 1353.5,448.0 1354.0,446.3 1354.5,443.8 1355.1,446.7 1355.6,447.3 1356.1,445.1 1356.6,443.1 1357.2,446.5 1357.7,445.4 1358.2,445.9 1358.7,442.1 1359.3,446.1 1359.8,441.9 1360.3,444.4 1360.8,446.6 1361.4,443.1 1361.9,443.0 1362.4,444.9 1363.0,447.6 1363.5,447.5 1364.0,444.6 1364.5,446.7 1365.1,446.2 1365.6,445.7 1366.1,445.9 1366.6,444.5 1367.2,446.5 1367.7,446.8 1368.2,449.0 1368.7,446.7 1369.3,442.4 1369.8,444.0 1370.3,446.1 1370.8,445.8 1371.4,443.3 1371.9,445.7 1372.4,445.4 1372.9,445.9 1373.5,445.9 1374.0,447.3 1374.5,448.1 1375.0,447.2 1375.6,445.0 1376.1,445.4 1376.6,445.7 1377.1,446.6 1377.7,446.2 1378.2,446.4 1378.7,445.7 1379.2,448.3 1379.8,448.2 1380.3,448.5 1380.8,447.2 1381.4,448.0 1381.9,446.3 1382.4,446.2 1382.9,446.9 1383.5,448.4 1384.0,447.5 1384.5,446.3 1385.0,448.0 1385.6,448.4 1386.1,448.1 1386.6,447.1 1387.1,448.1 1387.7,447.4 1388.2,447.6 1388.7,447.9 1389.2,449.0 1389.8,450.4 1390.3,450.0 1390.8,448.8 1391.3,447.4 1391.9,447.5 1392.4,447.5 1392.9,449.3 1393.4,444.2 1394.0,448.1 1394.5,445.1 1395.0,447.6 1395.5,449.3 1396.1,446.3 1396.6,444.5 1397.1,449.1 1397.6,449.3 1398.2,447.9 1398.7,448.8 1399.2,446.1 1399.8,448.6 1400.3,449.2 1400.8,447.7 1401.3,447.2 1401.9,448.4 1402.4,448.1 1402.9,445.6 1403.4,448.2 1404.0,447.3 1404.5,446.5 1405.0,447.9 1405.5,447.3 1406.1,447.0 1406.6,445.2 1407.1,446.9 1407.6,444.3 1408.2,445.4 1408.7,443.3 1409.2,443.2 1409.7,445.9 1410.3,445.1 1410.8,445.2 1411.3,445.8 1411.8,445.4 1412.4,443.7 1412.9,444.8 1413.4,444.5 1413.9,443.8 1414.5,444.2 1415.0,443.8 1415.5,443.3 1416.0,443.6 1416.6,444.2 1417.1,446.4 1417.6,442.5 1418.1,444.1 1418.7,441.4 1419.2,445.2 1419.7,442.6 1420.3,443.0 1420.8,444.3 1421.3,443.8 1421.8,440.3 1422.4,442.8 1422.9,441.6 1423.4,442.5 1423.9,441.6 1424.5,442.2 1425.0,441.4 1425.5,440.6 1426.0,442.0 1426.6,438.2 1427.1,439.4 1427.6,438.4 1428.1,439.0 1428.7,438.3 1429.2,438.1 1429.7,437.2 1430.2,436.6 1430.8,434.4 1431.3,435.7 1431.8,435.4 1432.3,432.9 1432.9,431.0 1433.4,428.8 1433.9,429.5 1434.4,425.4 1435.0,423.9 1435.5,421.9 1436.0,420.5 1436.5,419.0 1437.1,421.2 1437.6,416.0 1438.1,417.9 1438.7,416.8 1439.2,416.0 1439.7,414.0 1440.2,414.4 1440.8,417.7 1441.3,416.3 1441.8,419.6 1442.3,420.7 1442.9,422.2 1443.4,424.0 1443.9,423.1 1444.4,425.8 1445.0,429.6 1445.5,429.5 1446.0,435.8 1446.5,435.1 1447.1,437.6 1447.6,437.6 1448.1,440.4 1448.6,440.0 1449.2,441.5 1449.7,441.2 1450.2,445.0 1450.7,442.0 1451.3,445.2 1451.8,445.4 1452.3,445.9 1452.8,444.1 1453.4,446.9 1453.9,446.9 1454.4,446.0 1454.9,446.3 1455.5,445.8 1456.0,446.9 1456.5,445.1 1457.1,446.9 1457.6,446.8 1458.1,444.5 1458.6,443.0 1459.2,446.3 1459.7,446.3 1460.2,448.2 1460.7,446.7 1461.3,446.1 1461.8,445.0 1462.3,446.7 1462.8,446.1 1463.4,445.5 1463.9,446.8 1464.4,448.3 1464.9,447.1 1465.5,445.6 1466.0,447.5 1466.5,445.6 1467.0,445.0 1467.6,447.7 1468.1,446.4 1468.6,448.5 1469.1,447.5 1469.7,446.1 1470.2,447.4 1470.7,448.7 1471.2,446.7 1471.8,445.4 1472.3,445.7 1472.8,445.3 1473.3,444.5 1473.9,444.1 1474.4,446.0 1474.9,446.6 1475.5,444.4 1476.0,445.5 1476.5,445.3 1477.0,446.0 1477.6,443.2 1478.1,442.7 1478.6,443.4 1479.1,442.8 1479.7,442.8 1480.2,443.9 1480.7,441.5 1481.2,442.2 1481.8,440.6 1482.3,441.7 1482.8,441.1 1483.3,441.1 1483.9,442.0 1484.4,441.9 1484.9,443.1 1485.4,444.0 1486.0,441.2 1486.5,444.7 1487.0,440.8 1487.5,444.3 1488.1,445.1 1488.6,443.5 1489.1,444.3 1489.6,443.7 1490.2,446.1 1490.7,441.0 1491.2,444.0 1491.7,443.0 1492.3,445.9 1492.8,447.5 1493.3,447.6 1493.9,447.1 1494.4,446.7 1494.9,445.6 1495.4,448.3 1496.0,447.8 1496.5,446.0 1497.0,445.6 1497.5,446.6 1498.1,449.0 1498.6,449.4 1499.1,450.0 1499.6,447.0 1500.2,447.7 1500.7,450.1 1501.2,448.7 1501.7,449.5 1502.3,446.9 1502.8,448.2 1503.3,448.8 1503.8,448.4 1504.4,448.4 1504.9,446.8 1505.4,451.1 1505.9,449.2 1506.5,447.2 1507.0,450.5 1507.5,449.2 1508.0,450.1 1508.6,449.0 1509.1,448.2 1509.6,448.3 1510.1,449.8 1510.7,450.4 1511.2,450.0 1511.7,450.3 1512.3,451.0 1512.8,449.9 1513.3,450.8 1513.8,451.0 1514.4,449.9 1514.9,449.5 1515.4,449.0 1515.9,448.1 1516.5,447.6 1517.0,451.4 1517.5,449.7 1518.0,449.0 1518.6,451.8 1519.1,451.0 1519.6,449.8 1520.1,451.1 1520.7,449.5 1521.2,450.2 1521.7,452.1 1522.2,451.1 1522.8,449.4 1523.3,450.6 1523.8,451.3 1524.3,449.6 1524.9,449.2 1525.4,452.1 1525.9,449.3 1526.4,447.9 1527.0,449.8 1527.5,452.5 1528.0,450.3 1528.5,450.7 1529.1,446.6 1529.6,448.7 1530.1,450.9 1530.6,448.8 1531.2,451.0 1531.7,449.8 1532.2,449.6 1532.8,451.2 1533.3,448.3 1533.8,448.3 1534.3,449.0 1534.9,449.1 1535.4,446.5 1535.9,450.2 1536.4,448.9 1537.0,448.3 1537.5,449.2 1538.0,447.8 1538.5,449.8 1539.1,448.3 1539.6,449.0 1540.1,446.8 1540.6,447.5 1541.2,448.2 1541.7,446.4 1542.2,446.6 1542.7,447.2 1543.3,448.5 1543.8,447.8 1544.3,447.8 1544.8,446.8 1545.4,447.4 1545.9,448.0 1546.4,446.0 1546.9,446.1 1547.5,446.0 1548.0,442.4 1548.5,444.6 1549.0,445.1 1549.6,445.3 1550.1,443.6 1550.6,445.1 1551.2,442.7 1551.7,443.1 1552.2,445.3 1552.7,441.1 1553.3,442.6 1553.8,442.3 1554.3,442.2 1554.8,441.4 1555.4,442.8 1555.9,440.4 1556.4,440.0 1556.9,442.2 1557.5,439.9 1558.0,441.9 1558.5,441.3 1559.0,440.4 1559.6,440.8 1560.1,441.1 1560.6,441.8 1561.1,440.5 1561.7,441.2 1562.2,439.8 1562.7,441.5 1563.2,439.6 1563.8,442.3 1564.3,442.0 1564.8,445.6 1565.3,444.9 1565.9,443.4 1566.4,445.1 1566.9,444.6 1567.4,443.1 1568.0,441.7 1568.5,446.7 1569.0,446.0 1569.6,443.3 1570.1,446.9 1570.6,447.5 1571.1,445.7 1571.7,447.8 1572.2,444.7 1572.7,446.8 1573.2,447.2 1573.8,448.2 1574.3,447.7 1574.8,447.4 1575.3,447.8 1575.9,446.1 1576.4,448.8 1576.9,446.4 1577.4,447.7 1578.0,446.6 1578.5,446.1 1579.0,447.0 1579.5,446.6 1580.1,447.6 1580.6,447.0 1581.1,444.7 1581.6,445.8 1582.2,445.0 1582.7,443.6 1583.2,442.9 1583.7,444.3 1584.3,443.0 1584.8,441.3 1585.3,442.1 1585.8,441.4 1586.4,439.9 1586.9,436.7 1587.4,436.0 1588.0,437.0 1588.5,432.8 1589.0,432.0 1589.5,434.4 1590.1,430.8 1590.6,428.5 1591.1,425.5 1591.6,427.3 1592.2,423.9 1592.7,424.6 1593.2,422.5 1593.7,420.5 1594.3,424.0 1594.8,421.1 1595.3,421.9 1595.8,421.4 1596.4,419.4 1596.9,420.5 1597.4,420.1 1597.9,422.1 1598.5,421.7 1599.0,421.1 1599.5,424.1 1600.0,423.1 1600.6,423.5 1601.1,422.4 1601.6,424.4 1602.1,422.6 1602.7,425.9 1603.2,425.0 1603.7,427.4 1604.2,427.7 1604.8,429.3 1605.3,430.2 1605.8,430.2 1606.4,430.6 1606.9,428.8 1607.4,428.1 1607.9,432.0 1608.5,430.9 1609.0,427.8 1609.5,431.8 1610.0,428.0 1610.6,429.1 1611.1,428.6 1611.6,427.5 1612.1,427.4 1612.7,423.8 1613.2,424.5 1613.7,423.1 1614.2,422.5 1614.8,421.2 1615.3,420.0 1615.8,419.5 1616.3,421.5 1616.9,419.5 1617.4,421.6 1617.9,422.4 1618.4,422.8 1619.0,424.6 1619.5,425.8 1620.0,425.6 1620.5,427.7 1621.1,430.9 1621.6,428.3 1622.1,430.7 1622.6,431.5 1623.2,436.4 1623.7,433.2 1624.2,436.1 1624.7,438.0 1625.3,436.1 1625.8,437.5 1626.3,437.1 1626.9,436.7 1627.4,438.7 1627.9,439.7 1628.4,438.8 1629.0,439.8 1629.5,440.7 1630.0,441.6 1630.5,438.7 1631.1,441.3 1631.6,439.9 1632.1,438.5 1632.6,440.1 1633.2,442.2 1633.7,442.0 1634.2,440.4 1634.7,444.2 1635.3,442.9 1635.8,442.6 1636.3,442.2 1636.8,443.8 1637.4,443.0 1637.9,445.3 1638.4,444.5 1638.9,445.0 1639.5,444.0 1640.0,442.6 1640.5,445.2 1641.0,443.1 1641.6,443.9 1642.1,443.6 1642.6,442.1 1643.1,443.7 1643.7,440.0 1644.2,443.1 1644.7,439.7 1645.3,441.1 1645.8,440.9 1646.3,437.5 1646.8,437.2 1647.4,439.0 1647.9,437.9 1648.4,437.7 1648.9,435.4 1649.5,435.9 1650.0,439.1 1650.5,440.8 1651.0,438.6 1651.6,439.0 1652.1,441.1 1652.6,442.1 1653.1,442.9 1653.7,442.3 1654.2,441.0 1654.7,445.9 1655.2,443.9 1655.8,446.6 1656.3,442.9 1656.8,446.4 1657.3,445.8 1657.9,445.5 1658.4,448.7 1658.9,449.5 1659.4,447.5 1660.0,449.5 1660.5,447.6 1661.0,448.5 1661.5,449.2 1662.1,449.2 1662.6,450.6 1663.1,448.4 1663.7,451.3 1664.2,451.4 1664.7,450.0 1665.2,448.8 1665.8,447.4 1666.3,450.4 1666.8,449.7 1667.3,450.8 1667.9,449.4 1668.4,450.8 1668.9,450.8 1669.4,451.0 1670.0,451.4 1670.5,451.5 1671.0,452.4 1671.5,450.2 1672.1,452.2 1672.6,451.5 1673.1,450.8 1673.6,450.1 1674.2,453.3 1674.7,451.7 1675.2,450.8 1675.7,451.6 1676.3,451.5 1676.8,450.8 1677.3,449.7 1677.8,451.7 1678.4,451.3 1678.9,451.1 1679.4,452.7 1679.9,449.7 1680.5,450.1 1681.0,451.4 1681.5,452.2 1682.1,451.9 1682.6,451.9 1683.1,448.0 1683.6,451.4 1684.2,451.2 1684.7,451.4 1685.2,449.5 1685.7,451.0 1686.3,451.5 1686.8,452.2 1687.3,450.3 1687.8,448.2 1688.4,449.8 1688.9,450.5 1689.4,450.3 1689.9,452.0 1690.5,449.2 1691.0,448.1 1691.5,448.5 1692.0,450.1 1692.6,448.1 1693.1,447.7 1693.6,447.9 1694.1,450.4 1694.7,449.1 1695.2,448.3 1695.7,449.7 1696.2,449.4 1696.8,447.2 1697.3,449.4 1697.8,448.6 1698.3,445.5 1698.9,446.6 1699.4,448.4 1699.9,448.6 1700.5,447.5 1701.0,446.5 1701.5,448.0 1702.0,445.3 1702.6,448.3 1703.1,447.3 1703.6,447.4 1704.1,446.6 1704.7,448.4 1705.2,444.3 1705.7,446.1 1706.2,447.9 1706.8,446.3 1707.3,449.0 1707.8,447.6 1708.3,446.1 1708.9,448.5 1709.4,446.9 1709.9,447.8 1710.4,446.2 1711.0,446.3 1711.5,448.0 1712.0,447.3 1712.5,446.3 1713.1,446.2 1713.6,448.3 1714.1,449.9 1714.6,446.7 1715.2,448.8 1715.7,444.4 1716.2,446.6 1716.7,449.4 1717.3,450.8 1717.8,449.0 1718.3,449.8 1718.9,449.6 1719.4,450.8 1719.9,448.3 1720.4,450.6 1721.0,449.4 1721.5,449.7 1722.0,450.2 1722.5,450.1 1723.1,449.4 1723.6,450.1 1724.1,449.2 1724.6,452.4 1725.2,451.3 1725.7,449.8 1726.2,452.3 1726.7,451.8 1727.3,450.6 1727.8,449.2 1728.3,450.0 1728.8,450.3 1729.4,451.1 1729.9,448.9 1730.4,448.2 1730.9,451.6 1731.5,450.2 1732.0,448.6 1732.5,446.8 1733.0,448.3 1733.6,448.8 1734.1,447.9 1734.6,447.4 1735.1,445.9 1735.7,446.6 1736.2,443.7 1736.7,443.2 1737.2,442.4 1737.8,441.5 1738.3,444.1 1738.8,438.7 1739.4,440.5 1739.9,438.3 1740.4,437.3 1740.9,438.5 1741.5,435.8 1742.0,437.3 1742.5,440.1 1743.0,436.7 1743.6,437.4 1744.1,435.7 1744.6,437.6 1745.1,435.4 1745.7,438.1 1746.2,438.4 1746.7,442.1 1747.2,440.0 1747.8,440.5 1748.3,441.2 1748.8,441.3 1749.3,444.7 1749.9,446.5 1750.4,445.0 1750.9,447.1 1751.4,446.4 1752.0,447.8 1752.5,448.2 1753.0,446.0 1753.5,446.8 1754.1,449.0 1754.6,445.3 1755.1,447.6 1755.6,447.1 1756.2,446.2 1756.7,447.3 1757.2,447.5 1757.8,447.7 1758.3,443.4 1758.8,448.8 1759.3,445.9 1759.9,447.7 1760.4,446.1 1760.9,445.4 1761.4,445.9 1762.0,450.0 1762.5,447.9 1763.0,445.4 1763.5,446.1 1764.1,447.3 1764.6,446.7 1765.1,446.1 1765.6,445.9 1766.2,444.9 1766.7,447.4 1767.2,448.1 1767.7,449.7 1768.3,446.4 1768.8,448.2 1769.3,447.5 1769.8,449.5 1770.4,448.0 1770.9,447.6 1771.4,446.5 1771.9,449.9 1772.5,449.4 1773.0,450.9 1773.5,449.0 1774.0,453.4 1774.6,449.3 1775.1,451.1 1775.6,451.2 1776.2,452.2 1776.7,450.7 1777.2,449.9 1777.7,449.8 1778.3,452.2 1778.8,451.3 1779.3,451.7 1779.8,450.1 1780.4,451.4 1780.9,451.5 1781.4,452.0 1781.9,449.3 1782.5,450.2 1783.0,453.4 1783.5,450.7 1784.0,451.1 1784.6,450.7 1785.1,449.3 1785.6,449.8 1786.1,451.7 1786.7,450.3 1787.2,453.8 1787.7,449.3 1788.2,448.7 1788.8,450.7 1789.3,449.6 1789.8,453.0 1790.3,450.6 1790.9,451.9 1791.4,449.4 1791.9,452.1 1792.4,452.0 1793.0,452.8 1793.5,451.5 1794.0,451.8 1794.6,451.4 1795.1,452.3 1795.6,450.5 1796.1,451.7 1796.7,450.2 1797.2,451.8 1797.7,450.5 1798.2,450.0 1798.8,449.8 1799.3,452.6 1799.8,448.6 1800.3,448.6 1800.9,451.2 1801.4,449.0 1801.9,449.6 1802.4,449.5 1803.0,453.0 1803.5,449.1 1804.0,448.9 1804.5,449.3 1805.1,450.0 1805.6,450.2 1806.1,447.6 1806.6,450.0 1807.2,451.8 1807.7,446.8 1808.2,449.6 1808.7,449.7 1809.3,448.7 1809.8,448.0 1810.3,444.9 1810.8,449.3 1811.4,447.1 1811.9,446.9 1812.4,448.5 1813.0,443.6 1813.5,446.3 1814.0,446.8 1814.5,446.7 1815.1,446.3 1815.6,447.8 1816.1,445.3 1816.6,446.0 1817.2,445.4 1817.7,442.2 1818.2,442.9 1818.7,446.4 1819.3,443.1 1819.8,443.2 1820.3,441.4 1820.8,442.6 1821.4,441.2 1821.9,442.0 1822.4,443.5 1822.9,441.6 1823.5,441.9 1824.0,444.5 1824.5,443.5 1825.0,443.7 1825.6,444.5 1826.1,442.7 1826.6,443.2 1827.1,441.3 1827.7,445.2 1828.2,444.3 1828.7,445.0 1829.2,443.9 1829.8,446.5 1830.3,446.9 1830.8,446.7 1831.3,444.8 1831.9,446.2 1832.4,447.6 1832.9,446.9 1833.5,448.9 1834.0,450.0 1834.5,448.1 1835.0,449.1 1835.6,448.7 1836.1,451.2 1836.6,451.2 1837.1,453.7 1837.7,450.3 1838.2,449.2 1838.7,450.9 1839.2,450.1 1839.8,450.6 1840.3,451.8 1840.8,449.7 1841.3,450.9 1841.9,447.0 1842.4,451.0 1842.9,449.6 1843.4,448.8 1844.0,448.3 1844.5,450.5 1845.0,447.8 1845.5,449.8 1846.1,447.3 1846.6,447.8 1847.1,447.9 1847.6,449.9 1848.2,447.3 1848.7,447.1 1849.2,446.6 1849.7,446.1 1850.3,445.6 1850.8,448.6 1851.3,448.1 1851.9,445.2 1852.4,446.3 1852.9,444.6 1853.4,447.4 1854.0,447.1 1854.5,446.5 1855.0,445.4 1855.5,447.5 1856.1,447.5 1856.6,446.6 1857.1,447.9 1857.6,445.4 1858.2,446.6 1858.7,446.3 1859.2,447.9 1859.7,450.1 1860.3,448.2 1860.8,449.9 1861.3,448.6 1861.8,448.3 1862.4,450.4 1862.9,450.0 1863.4,451.4 1863.9,451.0 1864.5,448.9 1865.0,446.9 1865.5,450.6 1866.0,449.1 1866.6,449.0 1867.1,449.1 1867.6,450.4 1868.1,451.1 1868.7,451.5 1869.2,454.3 1869.7,450.2 1870.3,451.9 1870.8,450.3 1871.3,450.7 1871.8,452.2 1872.4,452.6 1872.9,450.4 1873.4,453.6 1873.9,450.9 1874.5,453.3 1875.0,452.0 1875.5,453.2 1876.0,452.8 1876.6,451.6 1877.1,452.6 1877.6,450.2 1878.1,450.2 1878.7,451.4 1879.2,453.6 1879.7,450.8 1880.2,451.0 1880.8,453.9 1881.3,451.7 1881.8,451.6 1882.3,450.2 1882.9,451.6 1883.4,452.3 1883.9,451.4 1884.4,452.4 1885.0,451.8 1885.5,452.6 1886.0,452.3 1886.5,451.0 1887.1,452.3 1887.6,453.4 1888.1,451.4 1888.7,449.4 1889.2,451.2 1889.7,450.6 1890.2,454.2 1890.8,451.7 1891.3,449.3 1891.8,450.4 1892.3,452.5 1892.9,449.0 1893.4,449.9 1893.9,450.5 1894.4,450.2 1895.0,449.6 1895.5,450.5 1896.0,448.5 1896.5,449.5 1897.1,449.4 1897.6,449.8 1898.1,449.7 1898.6,450.1 1899.2,449.6 1899.7,449.5 1900.2,450.4 1900.7,451.1 1901.3,451.1 1901.8,448.3 1902.3,450.1 1902.8,450.7 1903.4,449.3 1903.9,450.2 1904.4,449.3 1904.9,450.0 1905.5,447.5 1906.0,450.0 1906.5,448.8 1907.1,448.4 1907.6,448.9 1908.1,450.5 1908.6,450.4 1909.2,449.5 1909.7,450.3 1910.2,448.6 1910.7,447.4 1911.3,446.6 1911.8,448.9 1912.3,448.8 1912.8,449.0 1913.4,449.0 1913.9,450.4 1914.4,447.6 1914.9,447.8 1915.5,451.3 1916.0,449.8 1916.5,448.3 1917.0,446.1 1917.6,447.6 1918.1,448.2 1918.6,448.6 1919.1,448.9 1919.7,448.4 1920.2,450.2 1920.7,447.1 1921.2,448.3 1921.8,447.9 1922.3,449.9 1922.8,449.3 1923.3,450.3 1923.9,449.6 1924.4,454.6 1924.9,450.9 1925.5,449.2 1926.0,450.4 1926.5,450.1 1927.0,451.8 1927.6,452.2 1928.1,451.6 1928.6,450.9 1929.1,450.3 1929.7,453.2 1930.2,452.6 1930.7,447.3 1931.2,451.1 1931.8,449.9 1932.3,450.4 1932.8,453.0 1933.3,449.2 1933.9,449.2 1934.4,453.6 1934.9,449.6 1935.4,449.8 1936.0,451.5 1936.5,449.2 1937.0,449.7 1937.5,449.8 1938.1,451.2 1938.6,447.1 1939.1,448.0 1939.6,448.7 1940.2,449.9 1940.7,447.8 1941.2,449.1 1941.7,447.7 1942.3,447.7 1942.8,449.8 1943.3,447.7 1943.8,451.8 1944.4,448.4 1944.9,449.3 1945.4,448.8 1946.0,445.8 1946.5,445.8 1947.0,448.4 1947.5,446.4 1948.1,447.1 1948.6,447.5 1949.1,446.7 1949.6,449.5 1950.2,449.0 1950.7,448.3 1951.2,448.9 1951.7,447.0 1952.3,449.4 1952.8,447.3 1953.3,450.5 1953.8,447.7 1954.4,447.9 1954.9,450.2 1955.4,449.6 1955.9,447.6 1956.5,449.8 1957.0,449.1 1957.5,449.2 1958.0,450.1 1958.6,450.1 1959.1,450.8 1959.6,450.1 1960.1,450.0 1960.7,449.6 1961.2,451.7 1961.7,448.8 1962.2,452.4 1962.8,452.8 1963.3,452.9 1963.8,450.0 1964.4,452.9 1964.9,451.7 1965.4,451.7 1965.9,454.6 1966.5,450.6 1967.0,451.1 1967.5,448.8 1968.0,447.5 1968.6,450.8 1969.1,450.9 1969.6,451.2 1970.1,450.6 1970.7,447.6 1971.2,450.5 1971.7,451.3 1972.2,451.8 1972.8,448.3 1973.3,448.2 1973.8,448.2 1974.3,448.1 1974.9,446.6 1975.4,447.6 1975.9,450.4 1976.4,446.7 1977.0,445.4 1977.5,447.3 1978.0,446.8 1978.5,448.1 1979.1,446.1 1979.6,446.6 1980.1,445.6 1980.6,445.3 1981.2,446.9 1981.7,446.5 1982.2,446.1 1982.8,446.8 1983.3,445.0 1983.8,446.1 1984.3,446.4 1984.9,447.7 1985.4,443.8 1985.9,445.8 1986.4,447.0 1987.0,445.8 1987.5,446.8 1988.0,447.7 1988.5,447.7 1989.1,445.0 1989.6,445.9 1990.1,444.0 1990.6,448.7 1991.2,448.4 1991.7,450.1 1992.2,448.7 1992.7,447.4 1993.3,450.5 1993.8,447.7 1994.3,449.7 1994.8,449.7 1995.4,451.2 1995.9,451.7 1996.4,450.2 1996.9,450.1 1997.5,451.2 1998.0,450.8 1998.5,453.0 1999.0,452.5 1999.6,454.1 2000.1,455.9 2000.6,451.6 2001.2,452.1 2001.7,453.7 2002.2,453.7 2002.7,452.9 2003.3,451.3 2003.8,456.9 2004.3,453.8 2004.8,452.2 2005.4,450.6 2005.9,455.6 2006.4,454.2 2006.9,453.8 2007.5,452.4 2008.0,453.7 2008.5,453.3 2009.0,450.5 2009.6,457.3 2010.1,454.4 2010.6,453.3 2011.1,452.5 2011.7,453.0 2012.2,456.9 2012.7,454.3 2013.2,452.0 2013.8,454.9 2014.3,454.4 2014.8,454.4 2015.3,453.5 2015.9,453.5 2016.4,453.9 2016.9,453.4 2017.4,451.8 2018.0,452.3 2018.5,453.6 2019.0,451.5 2019.6,453.3 2020.1,453.1 2020.6,454.4 2021.1,453.6 2021.7,453.0 2022.2,452.9 2022.7,453.9 2023.2,454.5 2023.8,451.8 2024.3,451.1 2024.8,452.1 2025.3,450.0 2025.9,451.9 2026.4,454.0 2026.9,454.1 2027.4,454.7 2028.0,452.7 2028.5,452.8 2029.0,451.7 2029.5,451.7 2030.1,452.7 2030.6,453.4 2031.1,452.7 2031.6,449.3 2032.2,452.5 2032.7,451.8 2033.2,450.9 2033.7,451.7 2034.3,452.6 2034.8,451.4"/>
</g>
<g stroke="#000" stroke-width="6" stroke-linecap="round">
<line x1="739.9" y1="1247.8" x2="739.9" y2="1383"/>
<line x1="1054.5" y1="1328.9" x2="1054.5" y2="1383"/>
<line x1="1072" y1="1328.9" x2="1072" y2="1383"/>
<line x1="1090" y1="1356" x2="1090" y2="1383"/>
<line x1="1337.5" y1="1261.3" x2="1337.5" y2="1383"/>
<line x1="1491.4" y1="1287.9" x2="1491.4" y2="1383"/>
<line x1="1528.8" y1="1287.9" x2="1528.8" y2="1383"/>
<line x1="1727.1" y1="1301.9" x2="1727.1" y2="1383"/>
<line x1="1879.4" y1="1342" x2="1879.4" y2="1383"/>
<line x1="1926.5" y1="1329" x2="1926.5" y2="1383"/>
</g>
<rect x="197.5" y="26.5" width="1840" height="1357" fill="none" stroke="#000" stroke-width="5"/>
<g stroke="#000" stroke-width="5"><line x1="197.5" y1="1383" x2="197.5" y2="1396"/><line x1="328.9" y1="1383" x2="328.9" y2="1410"/><line x1="460.4" y1="1383" x2="460.4" y2="1396"/><line x1="591.8" y1="1383" x2="591.8" y2="1410"/><line x1="723.2" y1="1383" x2="723.2" y2="1396"/><line x1="854.6" y1="1383" x2="854.6" y2="1410"/><line x1="986.1" y1="1383" x2="986.1" y2="1396"/><line x1="1117.5" y1="1383" x2="1117.5" y2="1410"/><line x1="1248.9" y1="1383" x2="1248.9" y2="1396"/><line x1="1380.4" y1="1383" x2="1380.4" y2="1410"/><line x1="1511.8" y1="1383" x2="1511.8" y2="1396"/><line x1="1643.2" y1="1383" x2="1643.2" y2="1410"/><line x1="1774.6" y1="1383" x2="1774.6" y2="1396"/><line x1="1906.1" y1="1383" x2="1906.1" y2="1410"/><line x1="2037.5" y1="1383" x2="2037.5" y2="1396"/></g>
<g font-size="71" text-anchor="middle" fill="#000"><text x="327.9" y="1483">10</text><text x="590.8" y="1483">20</text><text x="853.6" y="1483">30</text><text x="1116.5" y="1483">40</text><text x="1379.4" y="1483">50</text><text x="1642.2" y="1483">60</text><text x="1905.1" y="1483">70</text></g>
<text x="1102" y="1582" font-size="90" text-anchor="middle">2θ/degree</text>
<text transform="translate(106.5,705.5) rotate(-90)" font-size="89.4" text-anchor="middle">Intensity (a.u.)</text>
<text x="1994.5" y="273" font-weight="bold" font-size="70.5" text-anchor="end" fill="#036DE2">g-C<tspan font-size="46" dy="18">3</tspan><tspan dy="-18">N</tspan><tspan font-size="46" dy="18">4</tspan><tspan dy="-18">/TiO</tspan><tspan font-size="46" dy="18">2</tspan><tspan dy="-18">/CCA</tspan></text>
<text x="1994.5" y="646" font-weight="bold" font-size="70.5" text-anchor="end" fill="#FF4242">TiO<tspan font-size="46" dy="18">2</tspan><tspan dy="-18">/CCA</tspan></text>
<text x="1994.5" y="1017" font-weight="bold" font-size="70.5" text-anchor="end" fill="#505050">CCA</text>
<text x="1994.5" y="1232" font-weight="bold" font-size="70.5" text-anchor="end" fill="#000">JCPDS 02-0406</text>
<text transform="translate(749.4,638) rotate(-90)" font-size="57" text-anchor="middle">(101)</text>
<text transform="translate(1073,662.5) rotate(-90)" font-size="57" text-anchor="middle">(004)</text>
<text transform="translate(1348.5,749) rotate(-90)" font-size="57" text-anchor="middle">(200)</text>
<text transform="translate(1460.3,748) rotate(-90)" font-size="57" text-anchor="middle">(105)</text>
<text transform="translate(1759.8,778.4) rotate(-90)" font-size="57" text-anchor="middle">(204)</text>
</svg>
</body></html>
